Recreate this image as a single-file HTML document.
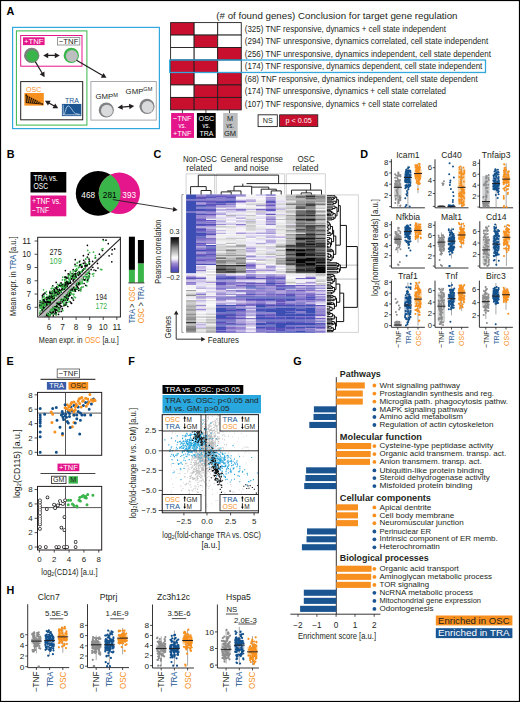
<!DOCTYPE html>
<html><head><meta charset="utf-8"><style>html,body{margin:0;padding:0;background:#fff;}svg{display:block;}text{font-family:"Liberation Sans",sans-serif;}</style></head>
<body><svg width="520" height="702" viewBox="0 0 520 702" font-family="Liberation Sans"><text x="6.40" y="15.00" font-size="10.8" fill="#000" font-weight="bold">A</text>
<text x="6.80" y="158.20" font-size="10.8" fill="#000" font-weight="bold">B</text>
<text x="153.60" y="158.20" font-size="10.8" fill="#000" font-weight="bold">C</text>
<text x="360.20" y="158.00" font-size="10.8" fill="#000" font-weight="bold">D</text>
<text x="6.50" y="365.00" font-size="10.8" fill="#000" font-weight="bold">E</text>
<text x="128.20" y="365.00" font-size="10.8" fill="#000" font-weight="bold">F</text>
<text x="293.30" y="364.60" font-size="10.8" fill="#000" font-weight="bold">G</text>
<text x="6.60" y="593.70" font-size="10.8" fill="#000" font-weight="bold">H</text>
<rect x="12.60" y="27.40" width="146.80" height="101.20" fill="none" stroke="#33a8df" stroke-width="1.2"/>
<rect x="16.40" y="30.90" width="70.50" height="94.20" fill="none" stroke="#39b54a" stroke-width="1.0"/>
<rect x="20.70" y="35.50" width="61.30" height="30.70" fill="none" stroke="#e5168b" stroke-width="1.0"/>
<rect x="23.00" y="37.30" width="21.60" height="7.80" fill="#e5168b"/>
<text x="33.80" y="44.00" font-size="7.4" fill="#fff" text-anchor="middle" textLength="19.5" lengthAdjust="spacingAndGlyphs">+TNF</text>
<rect x="57.40" y="37.60" width="22.40" height="7.40" fill="#fff" stroke="#808285" stroke-width="0.8"/>
<text x="68.60" y="44.00" font-size="7.4" fill="#231f20" text-anchor="middle" textLength="19.5" lengthAdjust="spacingAndGlyphs">−TNF</text>
<circle cx="31.70" cy="55.40" r="7.70" fill="#7f7f7f"/>
<circle cx="32.30" cy="56.10" r="6.00" fill="#39b54a"/>
<circle cx="71.30" cy="55.40" r="7.70" fill="#39b54a"/>
<circle cx="71.90" cy="56.10" r="6.00" fill="#bcbec0"/>
<path d="M43.20,55.40 L48.20,52.65 L48.20,58.15Z" fill="#231f20"/>
<line x1="47.20" y1="55.40" x2="55.80" y2="55.40" stroke="#231f20" stroke-width="1.3"/>
<path d="M59.80,55.40 L54.80,58.15 L54.80,52.65Z" fill="#231f20"/>
<line x1="35.30" y1="61.60" x2="42.55" y2="73.76" stroke="#231f20" stroke-width="1.2"/>
<path d="M44.60,77.20 L39.68,74.31 L44.40,71.50Z" fill="#231f20"/>
<line x1="76.50" y1="60.20" x2="103.05" y2="75.78" stroke="#231f20" stroke-width="1.2"/>
<path d="M106.50,77.80 L100.80,77.64 L103.58,72.90Z" fill="#231f20"/>
<rect x="20.70" y="81.60" width="62.00" height="38.20" fill="none" stroke="#231f20" stroke-width="1.0"/>
<text x="26.00" y="91.70" font-size="7.6" fill="#f7901e" textLength="15.3" lengthAdjust="spacingAndGlyphs">OSC</text>
<rect x="24.40" y="93.00" width="19.40" height="12.60" fill="#f7901e"/>
<line x1="26.20" y1="95.00" x2="26.20" y2="102.80" stroke="#000" stroke-width="0.8"/>
<circle cx="26.20" cy="95.00" r="0.70" fill="#000"/>
<line x1="26.20" y1="102.60" x2="42.00" y2="104.00" stroke="#000" stroke-width="0.8"/>
<circle cx="42.30" cy="104.10" r="0.80" fill="#000"/>
<polyline points="26.6,102.6 27.60,95.80 28.50,102.70 29.60,96.80 30.50,102.82 31.60,97.80 32.50,102.94 33.60,98.80 34.50,103.06 35.60,99.80 36.50,103.18 37.60,100.80 38.50,103.30 39.60,101.80 40.50,103.42" fill="none" stroke="#000" stroke-width="0.6" stroke-linejoin="round"/>
<circle cx="27.80" cy="96.20" r="0.50" fill="#000"/>
<circle cx="29.80" cy="97.20" r="0.50" fill="#000"/>
<circle cx="31.80" cy="98.20" r="0.50" fill="#000"/>
<circle cx="33.80" cy="99.20" r="0.50" fill="#000"/>
<circle cx="35.80" cy="100.20" r="0.50" fill="#000"/>
<text x="65.00" y="102.60" font-size="7.6" fill="#1b5693" textLength="13.8" lengthAdjust="spacingAndGlyphs">TRA</text>
<rect x="61.90" y="103.90" width="19.40" height="12.20" fill="#1b5693"/>
<line x1="63.20" y1="104.70" x2="63.20" y2="115.00" stroke="#fff" stroke-width="0.6"/>
<line x1="63.20" y1="114.80" x2="80.60" y2="114.80" stroke="#fff" stroke-width="0.6"/>
<path d="M63.8,114.6 C65.5,113 66,106 68.2,105.9 C70.5,105.8 72.5,112 75.5,113.6 L79.5,114.3" fill="none" stroke="#fff" stroke-width="0.6"/>
<path d="M45.00,100.70 L50.71,100.81 L47.96,105.58Z" fill="#231f20"/>
<line x1="48.47" y1="102.70" x2="54.73" y2="106.30" stroke="#231f20" stroke-width="1.3"/>
<path d="M58.20,108.30 L52.49,108.19 L55.24,103.42Z" fill="#231f20"/>
<rect x="90.90" y="81.50" width="65.40" height="38.60" fill="none" stroke="#a7a9ac" stroke-width="1.0"/>
<text x="95.5" y="99.4" font-size="7.8" fill="#231f20">GMP<tspan font-size="5.6" dy="-2.6">M</tspan></text>
<text x="125.6" y="93.7" font-size="7.8" fill="#231f20">GMP<tspan font-size="5.6" dy="-2.6">GM</tspan></text>
<circle cx="106.30" cy="110.00" r="7.60" fill="#808285"/>
<circle cx="106.90" cy="110.70" r="5.90" fill="#d9dadb"/>
<circle cx="147.00" cy="106.30" r="7.60" fill="#808285"/>
<circle cx="147.60" cy="107.00" r="5.90" fill="#d9dadb"/>
<path d="M117.60,107.60 L122.31,104.38 L122.84,109.86Z" fill="#231f20"/>
<line x1="121.58" y1="107.22" x2="130.22" y2="106.38" stroke="#231f20" stroke-width="1.3"/>
<path d="M134.20,106.00 L129.49,109.22 L128.96,103.74Z" fill="#231f20"/>
<rect x="170.60" y="22.60" width="23.55" height="12.47" fill="#c8102e" stroke="#231f20" stroke-width="0.9"/>
<rect x="194.15" y="22.60" width="23.55" height="12.47" fill="#fff" stroke="#231f20" stroke-width="0.9"/>
<rect x="217.70" y="22.60" width="23.55" height="12.47" fill="#fff" stroke="#231f20" stroke-width="0.9"/>
<rect x="170.60" y="35.07" width="23.55" height="12.47" fill="#fff" stroke="#231f20" stroke-width="0.9"/>
<rect x="194.15" y="35.07" width="23.55" height="12.47" fill="#c8102e" stroke="#231f20" stroke-width="0.9"/>
<rect x="217.70" y="35.07" width="23.55" height="12.47" fill="#fff" stroke="#231f20" stroke-width="0.9"/>
<rect x="170.60" y="47.54" width="23.55" height="12.47" fill="#fff" stroke="#231f20" stroke-width="0.9"/>
<rect x="194.15" y="47.54" width="23.55" height="12.47" fill="#fff" stroke="#231f20" stroke-width="0.9"/>
<rect x="217.70" y="47.54" width="23.55" height="12.47" fill="#c8102e" stroke="#231f20" stroke-width="0.9"/>
<rect x="170.60" y="60.01" width="23.55" height="12.47" fill="#c8102e" stroke="#231f20" stroke-width="0.9"/>
<rect x="194.15" y="60.01" width="23.55" height="12.47" fill="#c8102e" stroke="#231f20" stroke-width="0.9"/>
<rect x="217.70" y="60.01" width="23.55" height="12.47" fill="#fff" stroke="#231f20" stroke-width="0.9"/>
<rect x="170.60" y="72.48" width="23.55" height="12.47" fill="#c8102e" stroke="#231f20" stroke-width="0.9"/>
<rect x="194.15" y="72.48" width="23.55" height="12.47" fill="#fff" stroke="#231f20" stroke-width="0.9"/>
<rect x="217.70" y="72.48" width="23.55" height="12.47" fill="#c8102e" stroke="#231f20" stroke-width="0.9"/>
<rect x="170.60" y="84.95" width="23.55" height="12.47" fill="#fff" stroke="#231f20" stroke-width="0.9"/>
<rect x="194.15" y="84.95" width="23.55" height="12.47" fill="#c8102e" stroke="#231f20" stroke-width="0.9"/>
<rect x="217.70" y="84.95" width="23.55" height="12.47" fill="#c8102e" stroke="#231f20" stroke-width="0.9"/>
<rect x="170.60" y="97.42" width="23.55" height="12.47" fill="#c8102e" stroke="#231f20" stroke-width="0.9"/>
<rect x="194.15" y="97.42" width="23.55" height="12.47" fill="#c8102e" stroke="#231f20" stroke-width="0.9"/>
<rect x="217.70" y="97.42" width="23.55" height="12.47" fill="#c8102e" stroke="#231f20" stroke-width="0.9"/>
<rect x="169.70" y="60.01" width="315.80" height="12.47" fill="none" stroke="#33a8df" stroke-width="1.3"/>
<text x="216.30" y="19.00" font-size="9.0" fill="#231f20" textLength="241.2" lengthAdjust="spacingAndGlyphs">(# of found genes) Conclusion for target gene regulation</text>
<text x="244.80" y="31.73" font-size="8.2" fill="#231f20" textLength="201.2" lengthAdjust="spacingAndGlyphs">(325) TNF responsive, dynamics + cell state independent</text>
<text x="244.80" y="44.20" font-size="8.2" fill="#231f20" textLength="243.4" lengthAdjust="spacingAndGlyphs">(294) TNF unresponsive, dynamics correlated, cell state independent</text>
<text x="244.80" y="56.68" font-size="8.2" fill="#231f20" textLength="246.1" lengthAdjust="spacingAndGlyphs">(256) TNF unresponsive, dynamics independent, cell state dependent</text>
<text x="244.80" y="69.15" font-size="8.2" fill="#231f20" textLength="237.5" lengthAdjust="spacingAndGlyphs">(174) TNF responsive, dynamics dependent, cell state independent</text>
<text x="244.80" y="81.62" font-size="8.2" fill="#231f20" textLength="232.9" lengthAdjust="spacingAndGlyphs">(68) TNF responsive, dynamics independent, cell state dependent</text>
<text x="244.80" y="94.09" font-size="8.2" fill="#231f20" textLength="201.2" lengthAdjust="spacingAndGlyphs">(174) TNF unresponsive, dynamics + cell state correlated</text>
<text x="244.80" y="106.56" font-size="8.2" fill="#231f20" textLength="192.3" lengthAdjust="spacingAndGlyphs">(107) TNF responsive, dynamics + cell state correlated</text>
<line x1="182.38" y1="109.89" x2="182.38" y2="113.00" stroke="#231f20" stroke-width="0.8"/>
<line x1="205.93" y1="109.89" x2="205.93" y2="113.00" stroke="#231f20" stroke-width="0.8"/>
<line x1="229.47" y1="109.89" x2="229.47" y2="113.00" stroke="#231f20" stroke-width="0.8"/>
<rect x="171.10" y="113.00" width="22.90" height="24.90" fill="#e5168b"/>
<rect x="196.90" y="113.00" width="18.80" height="24.90" fill="#000"/>
<rect x="223.20" y="113.00" width="14.50" height="24.90" fill="#bcbec0"/>
<text x="182.30" y="120.80" font-size="8.0" fill="#fff" text-anchor="middle" textLength="18.5" lengthAdjust="spacingAndGlyphs">−TNF</text>
<text x="182.30" y="127.80" font-size="7.6" fill="#fff" text-anchor="middle" textLength="7.6" lengthAdjust="spacingAndGlyphs">vs.</text>
<text x="182.30" y="135.70" font-size="8.0" fill="#fff" text-anchor="middle" textLength="18.5" lengthAdjust="spacingAndGlyphs">+TNF</text>
<text x="206.40" y="120.80" font-size="8.0" fill="#fff" text-anchor="middle" textLength="15.6" lengthAdjust="spacingAndGlyphs">OSC</text>
<text x="206.40" y="127.80" font-size="7.6" fill="#fff" text-anchor="middle" textLength="7.6" lengthAdjust="spacingAndGlyphs">vs.</text>
<text x="206.40" y="135.70" font-size="8.0" fill="#fff" text-anchor="middle" textLength="13.9" lengthAdjust="spacingAndGlyphs">TRA</text>
<text x="230.00" y="120.80" font-size="8.0" fill="#231f20" text-anchor="middle" textLength="6.1" lengthAdjust="spacingAndGlyphs">M</text>
<text x="230.00" y="127.80" font-size="7.6" fill="#231f20" text-anchor="middle" textLength="7.6" lengthAdjust="spacingAndGlyphs">vs.</text>
<text x="230.00" y="135.70" font-size="8.0" fill="#231f20" text-anchor="middle" textLength="12.1" lengthAdjust="spacingAndGlyphs">GM</text>
<rect x="258.10" y="114.80" width="19.20" height="11.80" fill="#fff" stroke="#231f20" stroke-width="0.9"/>
<text x="267.70" y="123.30" font-size="7.2" fill="#231f20" text-anchor="middle">NS</text>
<rect x="279.60" y="114.80" width="38.20" height="11.80" fill="#c8102e" stroke="#231f20" stroke-width="0.8"/>
<text x="298.70" y="123.30" font-size="7.2" fill="#fff" text-anchor="middle">p &lt; 0.05</text>
<rect x="30.50" y="172.00" width="35.80" height="20.50" fill="#000"/>
<text x="33.50" y="180.50" font-size="8.3" fill="#fff" textLength="24.3" lengthAdjust="spacingAndGlyphs">TRA vs.</text>
<text x="33.50" y="189.30" font-size="8.3" fill="#fff" textLength="14.7" lengthAdjust="spacingAndGlyphs">OSC</text>
<rect x="30.50" y="195.50" width="35.80" height="20.80" fill="#e5168b"/>
<text x="32.00" y="204.30" font-size="8.3" fill="#fff" textLength="29.0" lengthAdjust="spacingAndGlyphs">+TNF vs.</text>
<text x="32.00" y="212.80" font-size="8.3" fill="#fff" textLength="17.1" lengthAdjust="spacingAndGlyphs">−TNF</text>
<defs><clipPath id="vb"><circle cx="98.2" cy="193.4" r="22.4"/></clipPath></defs>
<circle cx="98.20" cy="193.40" r="22.40" fill="#000"/>
<circle cx="119.30" cy="193.30" r="20.70" fill="#e5168b"/>
<circle cx="119.3" cy="193.3" r="20.7" fill="#39b54a" clip-path="url(#vb)"/>
<text x="88.20" y="198.00" font-size="8.2" fill="#fff" text-anchor="middle">468</text>
<text x="109.70" y="198.00" font-size="8.2" fill="#000" text-anchor="middle">281</text>
<text x="129.20" y="198.00" font-size="8.2" fill="#fff" text-anchor="middle">393</text>
<line x1="112.80" y1="199.60" x2="173.97" y2="209.32" stroke="#231f20" stroke-width="0.9"/>
<path d="M177.60,209.90 L172.66,211.68 L173.45,206.68Z" fill="#231f20"/>
<path d="M75.8 273.3h0M74 287.1h0M42.5 301h0M42.9 304.1h0M72.6 298.5h0M48.7 316h0M95.8 270.6h0M77.5 286.8h0M95.5 257.8h0M79 283.7h0M45.7 313.3h0M86.2 274.4h0M68.4 285h0M44.3 307.8h0M50.1 310h0M66.5 283.7h0M62 299.4h0M47.4 300.6h0M59.2 301.1h0M54.3 289.4h0M51.2 299.8h0M45 315.5h0M49.3 297.8h0M67.8 283.8h0M49 316h0M56.9 292.5h0M61.6 299.6h0M50.1 309.4h0M91.1 269.6h0M68.2 273.9h0M58.3 303h0M44.1 308.1h0M45.8 302h0M77.4 282.6h0M41.6 310.5h0M71.7 297.7h0M64.4 304.6h0M65 285.5h0M50.6 314.6h0M59.6 309.3h0M54.8 307.5h0M86.9 276.9h0M59.4 293.1h0M88.9 273.3h0M81.7 287.3h0M64.7 277.2h0M53.6 312.2h0M63.2 285.1h0M54.6 296.5h0M73.9 276.6h0M55.4 304h0M57.8 293.8h0M57.9 292.2h0M57.8 292.2h0M65.2 305.2h0M62.9 284.8h0M41.8 310.4h0M46.6 313h0M85 265.9h0M66.9 295.6h0M87.4 245.3h0M54.5 308.1h0M42.2 311.1h0M55.9 291.8h0M78.3 288.1h0M88.9 272h0M51.9 313.2h0M46.5 305.5h0M57.5 295h0M55.1 306.8h0M60 307.6h0M54.3 305.2h0M67.7 299.5h0M68 277.9h0M41.7 303h0" stroke="#000" stroke-width="1.70" stroke-linecap="round" fill="none"/>
<path d="M66.8 297h0M67.6 302.3h0M51.3 300.3h0M73.6 278.5h0M61 298.4h0M68.9 296h0M50.6 300.1h0M69.9 294.9h0M48.9 311.3h0M55 305.8h0M50.8 310.9h0M56.1 315.1h0M50.7 298.2h0M53.7 299.9h0M47 304.3h0M83.7 276.7h0M101.8 269.7h0M47 313h0M49.2 300.8h0M88.7 278.4h0M48.8 315.3h0M73.3 276.2h0M79.9 288.8h0M57.8 294.1h0M62.3 302.6h0M41.6 301.5h0M89.3 270.6h0M83.2 270.3h0M75.2 270.7h0M75.5 297.6h0M85.1 276h0M45 293.2h0M44.5 315.7h0M83.7 269h0M66.1 300.9h0M56.5 303.3h0M46.7 315h0M48.7 303.6h0M47.3 298.4h0M58.8 285.9h0M57.4 306.4h0M53.6 314.1h0M47.7 315.5h0M79.7 265.8h0M52.8 299.9h0M68.3 276.6h0M55.3 292.1h0M79.9 260.8h0M95.4 255.7h0M60.9 299.2h0M76 277.1h0M49.7 295.7h0M57.9 294.4h0M62.8 288.7h0M81.3 271.8h0M72.1 290.9h0M78.3 282.1h0M62.4 279.9h0M72.5 288h0M42.5 309.4h0M55.5 295.2h0M76.1 289.2h0M89.1 273.1h0M82.2 278.8h0M76.5 277.1h0M56.3 312.4h0M61.9 287.1h0M50 291.1h0M55.9 304.5h0M55.3 307.3h0M52.6 290.8h0M87.2 274.3h0M64.6 287.9h0M59.1 301.6h0M78.2 275.3h0M59.1 293.4h0M44.4 305.4h0M75 290.2h0M80.2 265h0M48.5 303.5h0M55.9 290.4h0M53.9 298.9h0M84.3 280.2h0M54.8 292.6h0M66.6 287.3h0M56 295.2h0M51.6 311h0" stroke="#3ab54a" stroke-width="1.70" stroke-linecap="round" fill="none"/>
<path d="M83.1 278.2h0M57 302.8h0M40.2 300.9h0M70.4 282.4h0M52.8 285.8h0M75.7 274h0M57.1 310.2h0M69.6 293.2h0M56.2 282.4h0M53.5 306.3h0M86.7 264.8h0M58 301.7h0M89.3 261h0M70 301.5h0M52.2 291.3h0M47.2 312.5h0M111.9 254h0M43.6 306.2h0M62.5 286h0M77.7 272.9h0M65.3 288.4h0M64.4 286.9h0M52.2 295.9h0M62.2 301.6h0M84.9 262h0M41 311.6h0M75.2 276.1h0M66.5 283.7h0M52.6 312.2h0M65.5 284.2h0M50.4 312.4h0M59.6 301.7h0M98 268h0M59.4 290.3h0M42.3 309.6h0M54.3 297.4h0M59 311.7h0M51.1 308.7h0M74.5 278.9h0M76.7 285.5h0M66.3 277.6h0M80.7 289.8h0M76.6 283.7h0M73.5 288.3h0M62.6 288.7h0M71 302.8h0M88.1 279.1h0M48.1 313.7h0M49 298.3h0M67.8 282.2h0M41.6 305.8h0M63.9 305.7h0M67.8 306.5h0M59.9 292.9h0M57.9 290.2h0M55 313.8h0M40.8 305.8h0M83.4 255.7h0M71.2 278.9h0M67 285.2h0M54.3 296.8h0M65.4 270.6h0M52 295.3h0M55.8 293.6h0M54.9 308.1h0M54.2 309.6h0M75.8 271.2h0M82.2 271.6h0M48 314.1h0M60.3 300.7h0M44.4 300.1h0M49.1 310.8h0M42.3 303h0M55.3 304.1h0M73.2 269.7h0M77.9 282.4h0M51.7 296.1h0M76.2 270.2h0M76.6 287.1h0M72.1 273.5h0M92.8 267.3h0M61.7 306.4h0" stroke="#000" stroke-width="1.70" stroke-linecap="round" fill="none"/>
<path d="M63.8 286h0M58.2 302.8h0M93.5 276h0M63.7 304.7h0M69.5 279.4h0M47.7 315.1h0M86.7 266.5h0M43.6 300.9h0M74.1 296.8h0M58 311.5h0M87.1 282h0M42.7 304.2h0M64.3 287.2h0M48.3 298.1h0M51.2 288.6h0M58.9 307.4h0M88 257.8h0M63.5 288.8h0M47.1 305.4h0M57.1 303.3h0M77.1 263.1h0M40.4 312.6h0M64.7 300h0M50.3 309.2h0M65.7 299.7h0M85.6 279h0M62.7 277.1h0M82.7 277.4h0M48.9 314h0M76.2 287.1h0M49.8 302h0M42.7 302h0M65.6 298.2h0M63.9 303.9h0M72.7 290.7h0M57.6 284.4h0M48.8 302.1h0M74.9 291.4h0M50.6 314.1h0M75.8 285h0M82.1 266.1h0M72.6 275.1h0M60.9 284.8h0M88.1 278.9h0M51.8 288.6h0M43.1 299.6h0M40.9 306.4h0M80.1 284.2h0M55.3 307.5h0M69.3 301.6h0M71.4 288.1h0M45.5 313.9h0M65.1 288.6h0M80.5 265.1h0M72.2 276h0M53.1 296.8h0M61.5 283.9h0M69.9 275.3h0M80.2 290.1h0M86.8 285.9h0M65 282.2h0M54.7 308.1h0M78.5 267.7h0M58.1 287.3h0M50.1 297.4h0M52.5 309h0M52.1 307.8h0M55.6 306.5h0M48.5 304.3h0M66.7 280.8h0M61.9 284.3h0M79.3 281.5h0M88.1 281.1h0M51.4 296.3h0M41.7 311.2h0M40.1 305.4h0M63.3 296h0" stroke="#3ab54a" stroke-width="1.70" stroke-linecap="round" fill="none"/>
<path d="M70 292.9h0M54.4 305.5h0M49.7 298.6h0M89.5 261.6h0M68 291.6h0M46.7 303.3h0M49.3 301.8h0M76.5 283.3h0M67.5 296.8h0M42.3 309.5h0M58.4 311.1h0M49.7 303.4h0M57.5 307h0M79.1 271.5h0M81.9 267.1h0M66.2 282.4h0M66.9 282.3h0M81.7 266.4h0M43.8 294.3h0M66.9 278.1h0M56 295.2h0M62.8 289.5h0M74.8 288.7h0M72.7 289.3h0M69.3 283.2h0M49.2 299.9h0M89.7 273.8h0M68.4 285.2h0M44.4 314.9h0M43.3 303.2h0M89.1 259.2h0M59.6 300.5h0M79.1 284.3h0M66.3 304.3h0M42.5 296.9h0M44 307.8h0M87.3 265h0M109.1 255.8h0M94 270h0M62.3 284.7h0M75.3 259.7h0M59.2 292.4h0M71.8 278.9h0M75.5 291.1h0M73 277.8h0M70.5 283.2h0M82.5 277.8h0M68.5 296.2h0M43.4 294.2h0M54.2 289.9h0M45 298.6h0M56 310.1h0M39.8 304.6h0M88.3 254.4h0M70.1 294.8h0M53.9 296.1h0M56.2 313.4h0M65.9 295.4h0M59.1 304h0M67.4 292.6h0M40.2 313.2h0M60.2 286.1h0M77.8 273.8h0M78.3 275.3h0M49.8 292.8h0M57 287.9h0M49.3 304h0M71.8 278.5h0M83.3 278.9h0M44 300.7h0M73.4 287.6h0M49.9 302.6h0M61.3 292.1h0M55.2 308.9h0M97.5 263.4h0M63.1 285.7h0M83.7 260.3h0" stroke="#000" stroke-width="1.70" stroke-linecap="round" fill="none"/>
<path d="M50.2 315.9h0M79.3 282.6h0M70.4 271.7h0M61.3 300.2h0M48.3 300.5h0M52.8 308.2h0M44.4 308.8h0M42 309.8h0M42 305h0M55.5 293.6h0M59 294.3h0M79.4 274.6h0M48.1 305.1h0M79.4 272.2h0M71.5 276.1h0M46.2 299.8h0M77.2 269.9h0M46 315.5h0M43.8 304h0M53.9 298h0M87.8 272.3h0M89.3 264.2h0M89.5 276.8h0M44.8 303.1h0M48.8 296.5h0M44.5 304.6h0M54.9 287.9h0M60.3 299.6h0M43.5 289.8h0M62.2 300h0M44.3 314.9h0M80.1 280.2h0M62.5 309.5h0M48.6 303.7h0M81.5 265.3h0M50.1 303.3h0M42.3 299h0M54.5 306.4h0M68 295.3h0M88.9 262.9h0M70.2 290.1h0M54.2 305.9h0M55.6 295.1h0M82.2 270.4h0M39.7 313.5h0M77.6 284.2h0M65.3 279.2h0M53.6 291.2h0M89.4 263.2h0M81 287.9h0M46.8 305.9h0M74.1 288.6h0M48.9 300.8h0M60.8 285.7h0M44.1 296h0M60.7 292.1h0M68.9 279.2h0M53 295.8h0M76.8 275.3h0M79.3 274.8h0M70.7 289.8h0M81.4 264.4h0M88.9 276h0M65.5 295h0M43.4 309.4h0M67.2 283.5h0M101.6 249.3h0M85.7 278.4h0M52.5 296.8h0M60.2 283.3h0M95.2 258.2h0M66.4 282.3h0M41.5 307.4h0M79.3 280.5h0M59.9 286h0" stroke="#3ab54a" stroke-width="1.70" stroke-linecap="round" fill="none"/>
<path d="M87.5 280.1h0M67.7 292.4h0M58.7 308h0M44.9 293h0M54 296h0M111.8 261.8h0M78.8 290.4h0M55.1 295h0M75 264.3h0M49.8 292.2h0M70.5 282.6h0M66 303h0M71.4 289.1h0M103.2 239.5h0M42.5 309.1h0M49.1 310.5h0M83.3 263.3h0M50.4 312.3h0M44.2 301.5h0M92.6 261.4h0M47.7 305.7h0M84.1 283.5h0M45.9 306h0M40.1 302.5h0M65.6 277.4h0M85.6 264.4h0M56.6 305.6h0M49.5 309.7h0M70.2 281.1h0M108.3 243.7h0M55.1 293h0M69.6 283h0M75.4 274.1h0M46.9 299.5h0M59.3 305h0M49.7 309.7h0M73.5 300.1h0M50.6 308.9h0M62.3 290h0M59.3 285.2h0M64.7 285.1h0M46.8 303.2h0M62.6 289.4h0M54.3 294.7h0M79.5 261.8h0M68.1 293.7h0M52.8 306.4h0M66.6 293.3h0M46 307.4h0M69 274.1h0M41.8 304.3h0M53 306.8h0M42.9 310.3h0M67.4 300.2h0M66.8 298.1h0M66.3 302.6h0M85.1 263.6h0M80.2 264.6h0M49.4 315h0M47.6 313.7h0M62.3 308.7h0M40.4 304.5h0" stroke="#000" stroke-width="1.70" stroke-linecap="round" fill="none"/>
<path d="M52.7 297.7h0M86.4 264.1h0M78.9 284.4h0M93.5 252.2h0M61.4 285.7h0M54.5 296.9h0M69.2 281.9h0M71.3 290.1h0M88.8 276.8h0M50 301.8h0M64.9 299.2h0M57.6 308.1h0M70.5 272.9h0M63.9 303.1h0M86.8 277.3h0M50.3 293.6h0M45.3 304.4h0M64.1 286.9h0M68.3 275.4h0M48.9 310.7h0M74 273.8h0M51.8 292.5h0M66.2 285.6h0M40.5 301.1h0M75.2 270.5h0M41.6 304h0M65.2 277h0M67.8 297.1h0M45.4 302.1h0M47.5 312.4h0M58.4 301.8h0M43 304.9h0M64.6 279.6h0M46.6 294.5h0M85.4 276.7h0M62.9 289.9h0M86.2 273.7h0M75.5 278.5h0M84.8 268.8h0M100.6 269.4h0M73.8 294.2h0M77.5 289.3h0M45.6 298.2h0M40.1 304.1h0M65.7 294.9h0M40.2 308.2h0M79 267.2h0M71.6 276.6h0M57.3 296.1h0M58.5 310.7h0M77.6 282.9h0M79.8 284.1h0M57.1 304.9h0M49.7 315.3h0M53 312.1h0M73.1 278.5h0M53.1 314.3h0M63.7 301.6h0M46.3 306.2h0M52.7 291.1h0M50 300.1h0M51.2 293.4h0M89 276.8h0M43.5 308.4h0M47.3 303.3h0M62.4 289.6h0M49.2 302.9h0M74.8 277.8h0M73 298.5h0M42.7 306.1h0M63.2 285.8h0M63.6 296.8h0M69.5 280.2h0M48 298.4h0M64.8 280.3h0M57.9 291.4h0M72.1 294h0M66.2 283.5h0M81.4 271.7h0M61.1 290.5h0M83.3 286.8h0M85.8 259.1h0M73.3 273h0M64 283.8h0M80.4 272.1h0M55.6 308.4h0M82.8 279.6h0M47.1 302.4h0M49.6 311.7h0" stroke="#3ab54a" stroke-width="1.70" stroke-linecap="round" fill="none"/>
<path d="M59.2 294.6h0M47.1 315.9h0M60.7 290.7h0M59.3 289.3h0M56.9 286.7h0M50 311.1h0M74.6 290.5h0M78.9 275.2h0M54.6 308.9h0M42.4 295.4h0M67.1 283.5h0M53.3 315.9h0M58.6 301.5h0M76.5 285h0M59.2 303.8h0M87.3 257h0M70.4 293.7h0M67.3 293h0M44 308.1h0M39.7 306h0M80.2 273.9h0M76.7 289h0M46.9 312.5h0M61.2 311.4h0M55.5 307h0M55.3 295h0M43.6 299.6h0M74.7 274h0M68.7 296h0M69.5 295h0M46.2 313.7h0M50.8 302.8h0M47.9 314.1h0M58.5 314.4h0M58.2 304.4h0M64.2 285.9h0M86.8 265.8h0M79.4 272.8h0M64.3 296.8h0M54.2 308.7h0M60.5 303.6h0M65.5 296.9h0M43.8 304.4h0M99.4 254.2h0M74.8 289.8h0M47.9 302.6h0M45 301.9h0M74.8 288.9h0M106 240.2h0M73.2 280.9h0M65.9 286.9h0M72.1 276.5h0M73.3 275.1h0M67.3 283.5h0M68.2 298.3h0M46.1 315h0M55.3 292.6h0M72 290.1h0M102.5 250.5h0M51.7 309.3h0M57.1 303.2h0M54.4 291.2h0M58.5 293h0M79.6 265.4h0M55.6 312.3h0M61 285.8h0M85.3 268.1h0M61.1 282.8h0M60.5 305.9h0M81.7 267.3h0M40.4 307.4h0M52.2 295h0M63.6 297.5h0M58.6 294.8h0M66.9 281.9h0M75 275.5h0M83.1 269.9h0M52.4 298.6h0M46.1 302.1h0M58.8 304.1h0M64.5 298.8h0M50.4 301.3h0M75.7 288.8h0M68.8 283.2h0M61.1 298.8h0" stroke="#000" stroke-width="1.70" stroke-linecap="round" fill="none"/>
<path d="M76.9 265.8h0M85.7 259.1h0M40.2 306.6h0M54.5 310.7h0M49.5 300.3h0M48.4 310.7h0M50.3 310.8h0M78.8 281h0M65.3 299h0M77.3 284.1h0M89.6 252.5h0M60.7 290.8h0M58.3 301h0M73.1 271h0M56.2 289.2h0M58.7 294.8h0M56.2 314h0M50 310.7h0M71 275h0M87.8 250.4h0M92.5 274.2h0M65.3 285.4h0M43.8 296.5h0M54.3 307.9h0M41.6 307.1h0M63.3 286h0M80.8 282.9h0M59.2 301.8h0M55.1 294.6h0M52.7 295.1h0M52.6 292.5h0M65.6 295.6h0M77.6 262.6h0M69.8 289.7h0M54.1 307.7h0M70.5 291.3h0M64.3 298.9h0M68.6 281.5h0M82.1 281.4h0M80.7 290.9h0M52.4 286.7h0M66.4 293.8h0M62.8 310.7h0M66 285.8h0M46.4 291.7h0M54.3 309.6h0M50.9 309.6h0M66.5 299.8h0M76.7 268.5h0M55.9 294.7h0M70.7 294h0M82.5 283.2h0M49.9 310.8h0M52.8 309.5h0M57.7 286.6h0M58.1 289.9h0M67.8 294h0M76.1 269.4h0M57.6 291.2h0M63.7 301.4h0M74.9 288h0M48 299.1h0M89.1 262.6h0M88.9 271.5h0M85.2 268.6h0M102.9 248.6h0M47.2 296.5h0M79.2 284.1h0" stroke="#3ab54a" stroke-width="1.70" stroke-linecap="round" fill="none"/>
<path d="M44.4 308h0M60.7 303.2h0M65.4 285h0M88.6 276.4h0M84.9 279.9h0M79.1 283.2h0M46.6 305.9h0M76.3 277h0M56.1 305.8h0M48.8 302.3h0M63.5 300.2h0M61.8 289.2h0M52.7 293.2h0M70.3 289.7h0M47.6 313.3h0M49.8 296.2h0M47.1 302h0M85.3 265.8h0M63.5 286h0M54.8 309.4h0M47.6 301.4h0M67.2 286.2h0M49.3 296.1h0M73.5 279.9h0M72.9 276.2h0M78.7 284.6h0M85.7 285.3h0M67.3 292.8h0M49.8 302.6h0M51 293.6h0M50.2 293.1h0M47.3 306.2h0M81.3 267h0M53.1 312.5h0M57.5 289.8h0M52.2 296.9h0M46.8 297.7h0M64.6 289.3h0M65.5 282.9h0M43.1 307.3h0M41.7 307.3h0M63.1 299.5h0M114.6 248.9h0M48.7 302.1h0M57.9 294.2h0M54 306.1h0M83.7 269h0M45.5 303.1h0M66.9 294.8h0M70.7 292.7h0M46.9 304.7h0M55.3 311.1h0M46.4 304.7h0M55.9 287.9h0M84.3 279.8h0M65.1 300.2h0M55.9 309.7h0M45 315.7h0M56.4 288.5h0M58.2 291.7h0M48.8 310.7h0M65.8 277.1h0M54.3 298h0M53.6 298.2h0M53.1 311.4h0M60.1 290.3h0M112.2 249.8h0M56.5 306.9h0M89.4 264h0M47.3 299.5h0M71.6 303.3h0M51.2 297.3h0M48.4 297.9h0" stroke="#000" stroke-width="1.70" stroke-linecap="round" fill="none"/>
<path d="M52.5 310.6h0M43.7 304.8h0M44.8 308.6h0M60.4 292.4h0M70.6 276.8h0M69.2 290.3h0M82 283.6h0M45.4 305.1h0M73.9 277.4h0M63.7 287.7h0M42.2 308.4h0M51.2 300.6h0M53.2 292.8h0M70.2 278.4h0M47.1 313.2h0M49.1 314.6h0M61.4 287.1h0M63.9 297.8h0M84 269.2h0M48 300.1h0M75.3 265.9h0M74.3 270.9h0M58.9 310.9h0M51.3 309.1h0M59 309.2h0M77.1 282.8h0M40.8 307h0M42.5 306.4h0M68.5 292.8h0M56.9 291h0M45.1 315.1h0M40.6 307.7h0M66.4 305h0M103.5 240.5h0M70.5 277.3h0M55.8 307.9h0M70.8 293.4h0M65.9 279.6h0M86 280.5h0M68 297.3h0M55.1 305h0M53.2 288.5h0M58.2 301.2h0M53.1 300.5h0M58.6 301.9h0M81.9 279.8h0M53.2 309.6h0M56.9 296.5h0M81.4 287.7h0M62.7 298.9h0M93.8 273.6h0M85.9 264.2h0M66.3 287h0M40.3 312.8h0M61.6 298.2h0M63.4 285.9h0M47.6 314.1h0M80.1 281.7h0M53.4 297.5h0M58.2 292.8h0M69.4 291.4h0M44.7 298.4h0M77.9 273.2h0M73.4 294.8h0M55.1 294.8h0M41.4 307h0M64.9 299.8h0M40.1 311h0M49.8 295.1h0M76.2 288.6h0M73.8 291.1h0M43.2 297.1h0M45.3 303.8h0M74.4 275.3h0M48.6 304.3h0M89.3 275.3h0M88.1 276.2h0M87.3 274.1h0M52.9 294.7h0" stroke="#3ab54a" stroke-width="1.70" stroke-linecap="round" fill="none"/>
<path d="M57.5 301.4h0M52.5 303.1h0M60.7 294.1h0M42 314.6h0M58.3 298.1h0M43.2 313.4h0M74.6 284.3h0M52.8 301.4h0M71.8 286h0M43.5 312.8h0M43.7 310.3h0M48.2 310.6h0M59 297.7h0M49.1 307.6h0M49 309h0M68.2 288.5h0M47.4 310.4h0M57.3 300.3h0M60.9 297.4h0M45.1 314.6h0M43.5 311.2h0M56.3 299.9h0M75.5 282.3h0M63.3 294.7h0M53.1 305.2h0M53.2 303h0M82.2 277.5h0M43.2 313.3h0M53.3 304h0M73.9 284.6h0M49.3 307.8h0M74.8 281.3h0M49.6 307.1h0M51.7 306.1h0M41.5 314.7h0M47.5 306.3h0M74.5 283.5h0M42.6 315.2h0M59.1 299.1h0M63.3 294.6h0M52.4 302.7h0M62.6 297.8h0M48 311.3h0M63.6 292.7h0M100.5 255.7h0M45.2 310.9h0M43.2 314.9h0M86.8 269.4h0M52.3 302.6h0M48.8 310.6h0M50.7 306.6h0M50.5 306.9h0M45.1 314.6h0M66.9 291h0M52 306.1h0M45.3 313.7h0M57.6 299.1h0M58.8 298.5h0M49.1 310.2h0M84.2 273.3h0M54 303h0M62.4 295h0M44.2 314h0M75.6 281.1h0M77.9 279.3h0M96.4 260.4h0M61.8 296.1h0M88.7 268.8h0M41 315.6h0M55.7 301.6h0M97.3 259.4h0M41.1 314.4h0M49.2 307.6h0M56.2 300.7h0M45.2 312.3h0M46.3 309.4h0M58.6 299.3h0M60 298.7h0M66.6 293.2h0M80.8 280.3h0M45.8 310.3h0M59.6 296.4h0M46 310.6h0M57.1 301.5h0M42.9 314.4h0M50.8 306.6h0M46.5 309.1h0M48.9 309h0M66.7 291.2h0M75.5 282.4h0M49.1 306.5h0M46.1 310.9h0M72.5 284.4h0M60.7 297.6h0M59.3 298.4h0M66.6 290.9h0M73.4 283.8h0M70.7 286.2h0M73.9 284.6h0M44.1 312.9h0M54.8 302.5h0M59.9 296.3h0M42.5 315.6h0M41.3 311.8h0M57.9 300.2h0M53.6 302.2h0M48.9 309.7h0M44 311.6h0M68.4 288.9h0M47.5 308.7h0M80 275.7h0M70 287.2h0M75.9 281.7h0M47.8 311.2h0M49 307.5h0M77.7 278.6h0M59.2 296h0M43.8 313.5h0M50 305.5h0M59.5 297.4h0M75.6 282h0M76.5 282h0M43.4 312.7h0M48.2 311.1h0M55.1 304.4h0M45.7 310.9h0M58.4 298.7h0M46.7 311h0M63 295h0M51.8 305.4h0M91.6 265.4h0M50.1 306.2h0M49.5 308.3h0M91.1 266.9h0M60.2 295.5h0M53.2 303.9h0M84.2 272.9h0M42.1 313.6h0M67.5 290.1h0M94.9 262.2h0M57.9 300.7h0M74.8 282h0M88.9 270.1h0M44.4 312h0M65.4 291.2h0M66.6 289.7h0M53.3 303.4h0M51.9 304.9h0M69.9 288.6h0M59.5 300.5h0M52.7 304.5h0M43.9 315h0M41.2 312.7h0M81.2 275.9h0M60 298.2h0M58.3 299.7h0M72.5 286.6h0M76 280.4h0M70.5 288.6h0M66.5 291.4h0M73.6 284.5h0M70.2 287.7h0M55.4 304.5h0M65.5 294h0M85.3 271.5h0M71.3 286.7h0M51.4 305.1h0M46.7 312.2h0M91.3 268.1h0M57.8 300.3h0M65.2 293.5h0M48.5 306.2h0M43.7 312.5h0M58.4 299.6h0M60.4 296.4h0M67.6 289.5h0M53.4 305.3h0M43.3 313.9h0M50.5 307.3h0M52.5 303.6h0M78 279.6h0M66 290.7h0M71.7 287.2h0M41.3 315.3h0M49.5 308.7h0M43.9 311.3h0M52.1 303.6h0M103.6 254.9h0M57.7 297.7h0M50.7 307.5h0M71.4 285.2h0M65.1 291.1h0M55.9 301h0M59.2 297.7h0M65.4 291.9h0M40.9 314.6h0M84.2 272.6h0M70.8 288.1h0M85.4 272.7h0M82 275.8h0M63 294h0M45.5 313.5h0M44.4 310.9h0M55.3 305h0M78.8 279.1h0M79 279.6h0M44 313.5h0M44.1 312.4h0M59.7 295.2h0M44 312.2h0M46.9 307.1h0M81 274.9h0M54.5 305.1h0M86.3 272.4h0M75.2 283.8h0M71 286.2h0M45.5 312.8h0M50.5 308h0M88.9 267.9h0M82 276.4h0M58.2 298.9h0M84.7 273.3h0M63.5 291.9h0M76.6 281.4h0M71.3 285h0M63 292.6h0M63 292.7h0M63.8 292.4h0M78.3 278.1h0M59.2 297.8h0M98.7 258.3h0M65.8 289.8h0M46.5 312.4h0M70.6 287.9h0M46.2 310.5h0M49.3 309h0M64.9 292.9h0M47.3 309.9h0M82 276h0M72.2 284.2h0M47.5 308.5h0M56.1 300.8h0M43.6 312.5h0M67.9 288.9h0M61.2 296h0M88.3 268.2h0M53.8 303.6h0M63.5 292.6h0M78.6 281.1h0M64.6 293h0M42.9 314.9h0M84.5 272.3h0M44.3 313.4h0M46.1 310.7h0M68.7 289.2h0M51.5 303.9h0M46.7 310.2h0M89.3 267.8h0M59.2 296.9h0M70.7 285.8h0M65.3 293.7h0M48.1 310.4h0M53.7 301.3h0M63 296.9h0M58.6 297.3h0M60 296.4h0M45 315.9h0M58.4 300.1h0M76.8 280.7h0M49 306.9h0M53.9 305.3h0M50 307.1h0M64.6 291.6h0M65.1 292.9h0M62.5 295.5h0M78.9 278.9h0M51.6 307.6h0M57.1 301.5h0M57.1 299.9h0M51 304.8h0M61.9 294.8h0M43.9 314.7h0M50.4 306.1h0M48.8 307.8h0M49.1 306h0M45.8 312h0M66.5 292.3h0M73.3 284.5h0M59.5 295.4h0M49.8 306.9h0M52.9 303.8h0M55 304.2h0M54.2 302.1h0M47.4 309.9h0M55.5 303h0M79.8 276h0M46.9 311.1h0M45.8 311.3h0M50.5 305.7h0M82.7 278.3h0M68.3 288.1h0M61.7 296.9h0M101.1 257h0M58.1 298.4h0M55.4 302.4h0M71.1 286.2h0M44.4 312.9h0M46 310.7h0M46.1 312.4h0M49 309.6h0M54.8 301h0M84.1 275h0M63.7 293.5h0M49.5 307.8h0M44.2 311.2h0M46.5 312.2h0M57.7 296.1h0M72.4 283.6h0M68.5 289.4h0M88.4 270.6h0M97.7 260.8h0M46.4 310.4h0M49.7 308.8h0M41.9 313.6h0M56 301h0M59.9 297.1h0M45.9 308.1h0M50 308.5h0M41.1 315.3h0M50.8 307.4h0M56.5 298.4h0M42.5 314.9h0M49.9 306.9h0M53.3 305.9h0M68.6 285.6h0M81.7 274.4h0M78.3 278h0M53.9 302.4h0M80.9 278.5h0M54.9 300.7h0M55.6 300.2h0M42.4 314.9h0M55.2 303.1h0M67.6 288h0M81 278.2h0M49.1 309.2h0M56.7 300.6h0M57 300.2h0M99.4 258.9h0M67.6 291.7h0M53.5 304.8h0M55.8 300h0M69.9 288.4h0M57.9 299h0M59.5 296.6h0M73.3 284.3h0M46.3 307.3h0M65.5 290.2h0M49 305.9h0M62.8 295.9h0M60.3 295.8h0M73.2 284.7h0M64.3 293.9h0M55.6 300.2h0M49 308.4h0M47.7 310.3h0M44.9 310.9h0M53.3 305.5h0M45.2 311.7h0M53.2 303.1h0M48.1 307.5h0" stroke="#b8b8b8" stroke-width="1.70" stroke-linecap="round" fill="none"/>
<line x1="39.20" y1="315.60" x2="120.40" y2="238.60" stroke="#231f20" stroke-width="1.1"/>
<rect x="37.70" y="237.30" width="82.70" height="79.70" fill="none" stroke="#231f20" stroke-width="1.0"/>
<line x1="34.60" y1="307.30" x2="37.70" y2="307.30" stroke="#231f20" stroke-width="0.8"/>
<text x="31.00" y="310.10" font-size="8.2" fill="#231f20" text-anchor="end" textLength="4.6" lengthAdjust="spacingAndGlyphs">6</text>
<line x1="49.00" y1="317.00" x2="49.00" y2="320.00" stroke="#231f20" stroke-width="0.8"/>
<text x="49.00" y="330.40" font-size="8.2" fill="#231f20" text-anchor="middle" textLength="4.6" lengthAdjust="spacingAndGlyphs">6</text>
<line x1="34.60" y1="294.04" x2="37.70" y2="294.04" stroke="#231f20" stroke-width="0.8"/>
<text x="31.00" y="296.84" font-size="8.2" fill="#231f20" text-anchor="end" textLength="4.6" lengthAdjust="spacingAndGlyphs">7</text>
<line x1="62.56" y1="317.00" x2="62.56" y2="320.00" stroke="#231f20" stroke-width="0.8"/>
<text x="62.56" y="330.40" font-size="8.2" fill="#231f20" text-anchor="middle" textLength="4.6" lengthAdjust="spacingAndGlyphs">7</text>
<line x1="34.60" y1="280.78" x2="37.70" y2="280.78" stroke="#231f20" stroke-width="0.8"/>
<text x="31.00" y="283.58" font-size="8.2" fill="#231f20" text-anchor="end" textLength="4.6" lengthAdjust="spacingAndGlyphs">8</text>
<line x1="76.12" y1="317.00" x2="76.12" y2="320.00" stroke="#231f20" stroke-width="0.8"/>
<text x="76.12" y="330.40" font-size="8.2" fill="#231f20" text-anchor="middle" textLength="4.6" lengthAdjust="spacingAndGlyphs">8</text>
<line x1="34.60" y1="267.52" x2="37.70" y2="267.52" stroke="#231f20" stroke-width="0.8"/>
<text x="31.00" y="270.32" font-size="8.2" fill="#231f20" text-anchor="end" textLength="4.6" lengthAdjust="spacingAndGlyphs">9</text>
<line x1="89.68" y1="317.00" x2="89.68" y2="320.00" stroke="#231f20" stroke-width="0.8"/>
<text x="89.68" y="330.40" font-size="8.2" fill="#231f20" text-anchor="middle" textLength="4.6" lengthAdjust="spacingAndGlyphs">9</text>
<line x1="34.60" y1="254.26" x2="37.70" y2="254.26" stroke="#231f20" stroke-width="0.8"/>
<text x="31.00" y="257.06" font-size="8.2" fill="#231f20" text-anchor="end" textLength="8.8" lengthAdjust="spacingAndGlyphs">10</text>
<line x1="103.24" y1="317.00" x2="103.24" y2="320.00" stroke="#231f20" stroke-width="0.8"/>
<text x="103.24" y="330.40" font-size="8.2" fill="#231f20" text-anchor="middle" textLength="8.8" lengthAdjust="spacingAndGlyphs">10</text>
<line x1="34.60" y1="241.00" x2="37.70" y2="241.00" stroke="#231f20" stroke-width="0.8"/>
<text x="31.00" y="243.80" font-size="8.2" fill="#231f20" text-anchor="end" textLength="8.8" lengthAdjust="spacingAndGlyphs">11</text>
<line x1="116.80" y1="317.00" x2="116.80" y2="320.00" stroke="#231f20" stroke-width="0.8"/>
<text x="116.80" y="330.40" font-size="8.2" fill="#231f20" text-anchor="middle" textLength="8.8" lengthAdjust="spacingAndGlyphs">11</text>
<text x="49.50" y="255.20" font-size="8.2" fill="#231f20" textLength="12.2" lengthAdjust="spacingAndGlyphs">275</text>
<text x="49.50" y="264.00" font-size="8.2" fill="#3ab54a" textLength="12.2" lengthAdjust="spacingAndGlyphs">109</text>
<text x="95.60" y="300.40" font-size="8.2" fill="#231f20" textLength="11.4" lengthAdjust="spacingAndGlyphs">194</text>
<text x="95.60" y="309.30" font-size="8.2" fill="#3ab54a" textLength="11.4" lengthAdjust="spacingAndGlyphs">172</text>
<text x="15.6" y="316.0" font-size="8.6" fill="#231f20" transform="rotate(-90 15.6 316.0)" textLength="79.5" lengthAdjust="spacingAndGlyphs">Mean expr. in <tspan fill="#1b5693">TRA</tspan> [a.u.]</text>
<text x="38.8" y="343.2" font-size="8.6" fill="#231f20" textLength="80" lengthAdjust="spacingAndGlyphs">Mean expr. in <tspan fill="#f7901e">OSC</tspan> [a.u.]</text>
<rect x="128.90" y="236.70" width="6.00" height="33.20" fill="#000"/>
<rect x="128.90" y="269.90" width="6.00" height="12.80" fill="#3ab54a"/>
<rect x="137.90" y="240.00" width="6.00" height="23.60" fill="#000"/>
<rect x="137.90" y="263.60" width="6.00" height="19.10" fill="#3ab54a"/>
<line x1="128.40" y1="282.90" x2="144.40" y2="282.90" stroke="#231f20" stroke-width="0.9"/>
<text x="134.6" y="323.2" font-size="8.4" fill="#231f20" transform="rotate(-90 134.6 323.2)" textLength="36.8" lengthAdjust="spacingAndGlyphs"><tspan fill="#1b5693">TRA</tspan> &gt; <tspan fill="#f7901e">OSC</tspan></text>
<text x="143.6" y="323.2" font-size="8.4" fill="#231f20" transform="rotate(-90 143.6 323.2)" textLength="36.8" lengthAdjust="spacingAndGlyphs"><tspan fill="#f7901e">OSC</tspan> &gt; <tspan fill="#1b5693">TRA</tspan></text>
<text x="182.90" y="161.60" font-size="8.8" fill="#231f20" textLength="34.0" lengthAdjust="spacingAndGlyphs">Non-OSC</text>
<text x="186.30" y="170.50" font-size="8.8" fill="#231f20" textLength="26.0" lengthAdjust="spacingAndGlyphs">related</text>
<text x="220.40" y="161.60" font-size="8.8" fill="#231f20" textLength="62.6" lengthAdjust="spacingAndGlyphs">General response</text>
<text x="234.20" y="170.50" font-size="8.8" fill="#231f20" textLength="34.6" lengthAdjust="spacingAndGlyphs">and noise</text>
<text x="297.40" y="161.60" font-size="8.8" fill="#231f20" textLength="17.3" lengthAdjust="spacingAndGlyphs">OSC</text>
<text x="292.50" y="170.50" font-size="8.8" fill="#231f20" textLength="25.9" lengthAdjust="spacingAndGlyphs">related</text>
<rect x="186.10" y="194.50" width="139.44" height="138.20" fill="#fff"/>
<path d="M186.10 194.50h10.01v1.30h-10.01zM186.10 195.75h10.01v1.30h-10.01zM186.10 197.00h10.01v1.30h-10.01zM186.10 198.25h10.01v1.30h-10.01zM186.10 200.75h10.01v1.30h-10.01zM225.94 200.75h10.01v1.30h-10.01zM186.10 202.00h10.01v1.30h-10.01zM186.10 203.25h10.01v1.80h-10.01zM186.10 205.00h10.01v1.30h-10.01zM186.10 206.25h10.01v1.30h-10.01zM196.06 206.25h10.01v1.30h-10.01zM186.10 207.50h10.01v1.30h-10.01zM186.10 208.75h10.01v1.30h-10.01zM196.06 208.75h10.01v1.30h-10.01zM186.10 210.00h10.01v1.30h-10.01zM186.10 212.50h10.01v1.30h-10.01zM186.10 213.75h10.01v1.30h-10.01zM186.10 215.00h10.01v1.30h-10.01zM186.10 216.25h10.01v1.30h-10.01zM186.10 217.50h10.01v1.30h-10.01zM186.10 218.75h10.01v1.30h-10.01zM186.10 220.00h10.01v1.30h-10.01zM186.10 221.25h10.01v1.30h-10.01zM186.10 222.50h10.01v1.30h-10.01zM186.10 223.75h10.01v1.30h-10.01zM186.10 225.00h10.01v1.30h-10.01zM186.10 226.25h10.01v1.30h-10.01zM186.10 227.50h10.01v1.30h-10.01zM186.10 228.75h10.01v1.30h-10.01zM186.10 230.00h10.01v1.30h-10.01zM186.10 231.25h10.01v1.30h-10.01zM186.10 232.50h10.01v1.55h-10.01zM196.06 232.50h10.01v1.55h-10.01zM186.10 234.00h10.01v1.30h-10.01zM186.10 235.25h10.01v1.30h-10.01zM186.10 236.50h10.01v1.30h-10.01zM186.10 237.75h10.01v1.30h-10.01zM186.10 239.00h10.01v1.30h-10.01zM186.10 240.25h10.01v1.30h-10.01zM186.10 241.50h10.01v1.30h-10.01zM186.10 242.75h10.01v1.30h-10.01zM186.10 244.00h10.01v1.05h-10.01zM186.10 245.00h10.01v1.30h-10.01zM206.02 245.00h10.01v1.30h-10.01zM186.10 246.25h10.01v1.30h-10.01zM186.10 247.50h10.01v1.30h-10.01zM186.10 248.75h10.01v1.30h-10.01zM186.10 250.00h10.01v1.30h-10.01zM196.06 250.00h10.01v1.30h-10.01zM186.10 251.25h10.01v1.30h-10.01zM186.10 252.50h10.01v1.30h-10.01zM186.10 253.75h10.01v1.30h-10.01zM186.10 255.00h10.01v1.30h-10.01zM186.10 256.25h10.01v1.30h-10.01zM196.06 256.25h10.01v1.30h-10.01zM186.10 257.50h10.01v1.30h-10.01zM186.10 258.75h10.01v1.30h-10.01zM186.10 260.00h10.01v1.30h-10.01zM186.10 261.25h10.01v1.30h-10.01zM186.10 262.50h10.01v1.30h-10.01zM186.10 263.75h10.01v1.30h-10.01zM186.10 265.00h10.01v1.30h-10.01zM186.10 266.25h10.01v1.30h-10.01zM186.10 267.50h10.01v1.30h-10.01zM186.10 268.75h10.01v1.30h-10.01zM186.10 270.00h10.01v1.30h-10.01zM186.10 271.25h10.01v1.30h-10.01zM186.10 272.50h10.01v0.75h-10.01zM215.98 275.45h10.01v1.30h-10.01zM265.78 282.95h10.01v1.30h-10.01zM245.86 287.50h10.01v1.30h-10.01zM255.82 287.50h10.01v1.30h-10.01zM275.74 287.50h10.01v1.30h-10.01zM285.70 287.50h10.01v1.30h-10.01zM305.62 287.50h10.01v1.30h-10.01zM255.82 296.25h10.01v1.30h-10.01zM275.74 297.50h10.01v1.30h-10.01zM265.78 298.75h10.01v1.30h-10.01zM285.70 298.75h10.01v1.30h-10.01zM215.98 305.00h10.01v1.30h-10.01zM225.94 305.00h10.01v1.30h-10.01zM255.82 305.00h10.01v1.30h-10.01zM305.62 305.00h10.01v1.30h-10.01zM255.82 306.25h10.01v1.30h-10.01zM215.98 307.50h10.01v1.30h-10.01zM265.78 307.50h10.01v1.30h-10.01zM275.74 307.50h10.01v1.30h-10.01zM285.70 307.50h10.01v1.30h-10.01zM295.66 307.50h10.01v1.30h-10.01zM305.62 307.50h10.01v1.30h-10.01zM215.98 308.75h10.01v1.30h-10.01zM235.90 308.75h10.01v1.30h-10.01zM275.74 308.75h10.01v1.30h-10.01zM285.70 308.75h10.01v1.30h-10.01zM305.62 308.75h10.01v1.30h-10.01zM215.98 310.00h10.01v1.30h-10.01zM225.94 310.00h10.01v1.30h-10.01zM265.78 310.00h10.01v1.30h-10.01zM275.74 310.00h10.01v1.30h-10.01zM295.66 310.00h10.01v1.30h-10.01zM305.62 310.00h10.01v1.30h-10.01zM215.98 311.25h10.01v1.30h-10.01zM255.82 311.25h10.01v1.30h-10.01zM265.78 311.25h10.01v1.30h-10.01zM275.74 311.25h10.01v1.30h-10.01zM285.70 311.25h10.01v1.30h-10.01zM305.62 311.25h10.01v1.30h-10.01zM275.74 312.50h10.01v1.30h-10.01zM285.70 312.50h10.01v1.30h-10.01zM305.62 312.50h10.01v1.30h-10.01zM275.74 313.75h10.01v1.30h-10.01zM295.66 313.75h10.01v1.30h-10.01zM215.98 315.00h10.01v1.30h-10.01zM255.82 315.00h10.01v1.30h-10.01zM275.74 315.00h10.01v1.30h-10.01zM285.70 315.00h10.01v1.30h-10.01zM295.66 315.00h10.01v1.30h-10.01zM305.62 315.00h10.01v1.30h-10.01zM215.98 316.25h10.01v1.80h-10.01zM255.82 318.00h10.01v1.30h-10.01zM265.78 318.00h10.01v1.30h-10.01zM285.70 318.00h10.01v1.30h-10.01zM305.62 318.00h10.01v1.30h-10.01zM215.98 320.50h10.01v1.30h-10.01zM275.74 320.50h10.01v1.30h-10.01zM285.70 320.50h10.01v1.30h-10.01zM295.66 320.50h10.01v1.30h-10.01zM315.58 320.50h10.01v1.30h-10.01zM255.82 323.00h10.01v1.30h-10.01zM275.74 323.00h10.01v1.30h-10.01zM285.70 323.00h10.01v1.30h-10.01zM295.66 323.00h10.01v1.30h-10.01zM305.62 323.00h10.01v1.30h-10.01zM215.98 324.25h10.01v1.30h-10.01zM225.94 324.25h10.01v1.30h-10.01zM255.82 324.25h10.01v1.30h-10.01zM265.78 324.25h10.01v1.30h-10.01zM275.74 324.25h10.01v1.30h-10.01zM285.70 324.25h10.01v1.30h-10.01zM295.66 324.25h10.01v1.30h-10.01zM305.62 324.25h10.01v1.30h-10.01zM315.58 324.25h10.01v1.30h-10.01zM275.74 325.50h10.01v1.30h-10.01zM215.98 326.75h10.01v1.30h-10.01zM255.82 326.75h10.01v1.30h-10.01zM275.74 326.75h10.01v1.30h-10.01zM295.66 326.75h10.01v1.30h-10.01zM275.74 331.75h10.01v1.00h-10.01z" fill="#3c4eb4"/>
<path d="M196.06 194.50h10.01v1.30h-10.01zM206.02 198.25h10.01v1.30h-10.01zM206.02 237.75h10.01v1.30h-10.01zM225.94 279.20h10.01v1.30h-10.01zM245.86 292.50h10.01v1.30h-10.01zM315.58 298.75h10.01v1.30h-10.01zM295.66 301.25h10.01v1.30h-10.01z" fill="#7e72c6"/>
<path d="M206.02 194.50h10.01v1.30h-10.01zM196.06 223.75h10.01v1.30h-10.01zM196.06 231.25h10.01v1.30h-10.01zM196.06 234.00h10.01v1.30h-10.01zM196.06 235.25h10.01v1.30h-10.01zM206.02 256.25h10.01v1.30h-10.01zM206.02 263.75h10.01v1.30h-10.01zM265.78 280.45h10.01v1.30h-10.01zM225.94 287.50h10.01v1.30h-10.01zM275.74 296.25h10.01v1.30h-10.01zM305.62 296.25h10.01v1.30h-10.01zM305.62 297.50h10.01v1.30h-10.01zM245.86 298.75h10.01v1.30h-10.01zM255.82 298.75h10.01v1.30h-10.01zM255.82 308.75h10.01v1.30h-10.01zM285.70 310.00h10.01v1.30h-10.01zM215.98 312.50h10.01v1.30h-10.01zM285.70 316.25h10.01v1.80h-10.01zM275.74 318.00h10.01v1.30h-10.01zM255.82 319.25h10.01v1.30h-10.01zM265.78 325.50h10.01v1.30h-10.01zM285.70 326.75h10.01v1.30h-10.01zM215.98 328.00h10.01v1.30h-10.01zM215.98 329.25h10.01v1.30h-10.01zM285.70 330.50h10.01v1.30h-10.01z" fill="#4e4eba"/>
<path d="M215.98 194.50h10.01v1.30h-10.01zM196.06 197.00h10.01v1.30h-10.01zM196.06 198.25h10.01v1.30h-10.01zM186.10 199.50h10.01v1.30h-10.01zM225.94 199.50h10.01v1.30h-10.01zM206.02 200.75h10.01v1.30h-10.01zM186.10 211.25h10.01v1.30h-10.01zM206.02 213.75h10.01v1.30h-10.01zM196.06 227.50h10.01v1.30h-10.01zM206.02 250.00h10.01v1.30h-10.01zM196.06 255.00h10.01v1.30h-10.01zM245.86 256.25h10.01v1.30h-10.01zM265.78 279.20h10.01v1.30h-10.01zM215.98 281.70h10.01v1.30h-10.01zM215.98 282.95h10.01v1.30h-10.01zM245.86 282.95h10.01v1.30h-10.01zM215.98 284.20h10.01v0.85h-10.01zM275.74 288.75h10.01v1.30h-10.01zM285.70 293.75h10.01v1.30h-10.01zM225.94 296.25h10.01v1.30h-10.01zM315.58 296.25h10.01v1.30h-10.01zM275.74 298.75h10.01v1.30h-10.01zM275.74 300.00h10.01v1.30h-10.01zM275.74 301.25h10.01v1.30h-10.01zM255.82 303.75h10.01v1.30h-10.01zM215.98 306.25h10.01v1.30h-10.01zM315.58 311.25h10.01v1.30h-10.01zM225.94 316.25h10.01v1.80h-10.01zM225.94 319.25h10.01v1.30h-10.01zM305.62 319.25h10.01v1.30h-10.01zM265.78 321.75h10.01v1.30h-10.01zM285.70 328.00h10.01v1.30h-10.01z" fill="#6054ba"/>
<path d="M225.94 194.50h10.01v1.30h-10.01zM206.02 197.00h10.01v1.30h-10.01zM225.94 197.00h10.01v1.30h-10.01zM215.98 198.25h10.01v1.30h-10.01zM215.98 200.75h10.01v1.30h-10.01zM265.78 200.75h10.01v1.30h-10.01zM206.02 203.25h10.01v1.80h-10.01zM215.98 203.25h10.01v1.80h-10.01zM196.06 221.25h10.01v1.30h-10.01zM206.02 234.00h10.01v1.30h-10.01zM206.02 253.75h10.01v1.30h-10.01zM245.86 276.70h10.01v1.30h-10.01zM186.10 277.95h10.01v1.30h-10.01zM245.86 277.95h10.01v1.30h-10.01zM255.82 277.95h10.01v1.30h-10.01zM275.74 277.95h10.01v1.30h-10.01zM295.66 287.50h10.01v1.30h-10.01zM315.58 287.50h10.01v1.30h-10.01zM245.86 293.75h10.01v1.30h-10.01zM285.70 295.00h10.01v1.30h-10.01zM215.98 297.50h10.01v1.30h-10.01zM245.86 297.50h10.01v1.30h-10.01zM295.66 302.50h10.01v1.30h-10.01zM315.58 305.00h10.01v1.30h-10.01zM275.74 306.25h10.01v1.30h-10.01zM305.62 306.25h10.01v1.30h-10.01zM235.90 311.25h10.01v1.30h-10.01zM225.94 313.75h10.01v1.30h-10.01zM235.90 318.00h10.01v1.30h-10.01zM215.98 319.25h10.01v1.30h-10.01zM225.94 323.00h10.01v1.30h-10.01zM315.58 323.00h10.01v1.30h-10.01zM215.98 325.50h10.01v1.30h-10.01zM305.62 325.50h10.01v1.30h-10.01zM265.78 326.75h10.01v1.30h-10.01zM315.58 326.75h10.01v1.30h-10.01zM275.74 328.00h10.01v1.30h-10.01zM275.74 329.25h10.01v1.30h-10.01zM215.98 330.50h10.01v1.30h-10.01zM255.82 330.50h10.01v1.30h-10.01zM275.74 330.50h10.01v1.30h-10.01zM315.58 330.50h10.01v1.30h-10.01zM215.98 331.75h10.01v1.00h-10.01zM225.94 331.75h10.01v1.00h-10.01z" fill="#5a54ba"/>
<path d="M235.90 194.50h10.01v1.30h-10.01zM206.02 211.25h10.01v1.30h-10.01zM196.06 220.00h10.01v1.30h-10.01zM206.02 246.25h10.01v1.30h-10.01zM196.06 251.25h10.01v1.30h-10.01zM245.86 265.00h10.01v1.30h-10.01zM255.82 282.95h10.01v1.30h-10.01zM225.94 284.20h10.01v0.85h-10.01zM235.90 285.00h10.01v1.30h-10.01zM295.66 285.00h10.01v1.30h-10.01zM295.66 290.00h10.01v1.30h-10.01zM285.70 292.50h10.01v1.30h-10.01zM305.62 292.50h10.01v1.30h-10.01zM275.74 293.75h10.01v1.30h-10.01zM225.94 297.50h10.01v1.30h-10.01zM275.74 302.50h10.01v1.30h-10.01zM275.74 303.75h10.01v1.30h-10.01zM265.78 306.25h10.01v1.30h-10.01zM215.98 313.75h10.01v1.30h-10.01zM315.58 315.00h10.01v1.30h-10.01zM295.66 321.75h10.01v1.30h-10.01zM295.66 325.50h10.01v1.30h-10.01zM315.58 325.50h10.01v1.30h-10.01z" fill="#6c5ac0"/>
<path d="M245.86 194.50h10.01v1.30h-10.01zM245.86 195.75h10.01v1.30h-10.01zM235.90 197.00h10.01v1.30h-10.01zM245.86 206.25h10.01v1.30h-10.01zM255.82 206.25h10.01v1.30h-10.01zM255.82 207.50h10.01v1.30h-10.01zM315.58 208.75h10.01v1.30h-10.01zM275.74 212.50h10.01v1.30h-10.01zM235.90 216.25h10.01v1.30h-10.01zM225.94 217.50h10.01v1.30h-10.01zM235.90 218.75h10.01v1.30h-10.01zM275.74 220.00h10.01v1.30h-10.01zM275.74 221.25h10.01v1.30h-10.01zM225.94 225.00h10.01v1.30h-10.01zM255.82 225.00h10.01v1.30h-10.01zM235.90 228.75h10.01v1.30h-10.01zM235.90 231.25h10.01v1.30h-10.01zM245.86 231.25h10.01v1.30h-10.01zM215.98 234.00h10.01v1.30h-10.01zM225.94 234.00h10.01v1.30h-10.01zM215.98 236.50h10.01v1.30h-10.01zM235.90 236.50h10.01v1.30h-10.01zM255.82 236.50h10.01v1.30h-10.01zM275.74 237.75h10.01v1.30h-10.01zM225.94 241.50h10.01v1.30h-10.01zM265.78 245.00h10.01v1.30h-10.01zM225.94 247.50h10.01v1.30h-10.01zM275.74 247.50h10.01v1.30h-10.01zM255.82 248.75h10.01v1.30h-10.01zM245.86 253.75h10.01v1.30h-10.01zM265.78 263.75h10.01v1.30h-10.01zM265.78 271.25h10.01v1.30h-10.01zM206.02 272.50h10.01v0.75h-10.01zM295.66 276.70h10.01v1.30h-10.01zM285.70 277.95h10.01v1.30h-10.01zM305.62 280.45h10.01v1.30h-10.01zM315.58 281.70h10.01v1.30h-10.01zM186.10 285.00h10.01v1.30h-10.01zM186.10 291.25h10.01v1.30h-10.01zM196.06 291.25h10.01v1.30h-10.01zM206.02 295.00h10.01v1.30h-10.01zM225.94 295.00h10.01v1.30h-10.01zM186.10 298.75h10.01v1.30h-10.01zM206.02 305.00h10.01v1.30h-10.01zM206.02 306.25h10.01v1.30h-10.01zM196.06 312.50h10.01v1.30h-10.01zM196.06 315.00h10.01v1.30h-10.01zM206.02 315.00h10.01v1.30h-10.01zM245.86 316.25h10.01v1.80h-10.01zM196.06 320.50h10.01v1.30h-10.01zM206.02 324.25h10.01v1.30h-10.01z" fill="#f6f6f6"/>
<path d="M255.82 194.50h10.01v1.30h-10.01zM235.90 199.50h10.01v1.30h-10.01zM225.94 205.00h10.01v1.30h-10.01zM215.98 208.75h10.01v1.30h-10.01zM255.82 210.00h10.01v1.30h-10.01zM196.06 226.25h10.01v1.30h-10.01zM215.98 232.50h10.01v1.55h-10.01zM196.06 246.25h10.01v1.30h-10.01zM245.86 250.00h10.01v1.30h-10.01zM245.86 258.75h10.01v1.30h-10.01zM265.78 267.50h10.01v1.30h-10.01zM295.66 282.95h10.01v1.30h-10.01zM225.94 285.00h10.01v1.30h-10.01zM215.98 291.25h10.01v1.30h-10.01zM315.58 301.25h10.01v1.30h-10.01zM265.78 302.50h10.01v1.30h-10.01zM245.86 313.75h10.01v1.30h-10.01zM245.86 320.50h10.01v1.30h-10.01z" fill="#baaede"/>
<path d="M265.78 194.50h10.01v1.30h-10.01zM206.02 206.25h10.01v1.30h-10.01zM196.06 228.75h10.01v1.30h-10.01zM206.02 231.25h10.01v1.30h-10.01zM206.02 251.25h10.01v1.30h-10.01zM255.82 297.50h10.01v1.30h-10.01zM305.62 298.75h10.01v1.30h-10.01zM235.90 305.00h10.01v1.30h-10.01zM295.66 306.25h10.01v1.30h-10.01zM255.82 316.25h10.01v1.80h-10.01zM215.98 318.00h10.01v1.30h-10.01zM225.94 318.00h10.01v1.30h-10.01zM265.78 319.25h10.01v1.30h-10.01zM275.74 319.25h10.01v1.30h-10.01zM285.70 319.25h10.01v1.30h-10.01zM295.66 319.25h10.01v1.30h-10.01zM215.98 321.75h10.01v1.30h-10.01zM285.70 325.50h10.01v1.30h-10.01zM305.62 329.25h10.01v1.30h-10.01z" fill="#544eba"/>
<path d="M275.74 194.50h10.01v1.30h-10.01zM275.74 197.00h10.01v1.30h-10.01zM245.86 198.25h10.01v1.30h-10.01zM255.82 199.50h10.01v1.30h-10.01zM215.98 207.50h10.01v1.30h-10.01zM235.90 207.50h10.01v1.30h-10.01zM245.86 212.50h10.01v1.30h-10.01zM315.58 212.50h10.01v1.30h-10.01zM215.98 215.00h10.01v1.30h-10.01zM255.82 220.00h10.01v1.30h-10.01zM275.74 223.75h10.01v1.30h-10.01zM265.78 226.25h10.01v1.30h-10.01zM215.98 228.75h10.01v1.30h-10.01zM215.98 231.25h10.01v1.30h-10.01zM225.94 231.25h10.01v1.30h-10.01zM235.90 234.00h10.01v1.30h-10.01zM245.86 239.00h10.01v1.30h-10.01zM215.98 241.50h10.01v1.30h-10.01zM255.82 251.25h10.01v1.30h-10.01zM265.78 255.00h10.01v1.30h-10.01zM255.82 257.50h10.01v1.30h-10.01zM255.82 272.50h10.01v0.75h-10.01zM196.06 274.20h10.01v1.30h-10.01zM206.02 276.70h10.01v1.30h-10.01zM315.58 276.70h10.01v1.30h-10.01zM315.58 277.95h10.01v1.30h-10.01zM295.66 281.70h10.01v1.30h-10.01zM186.10 286.25h10.01v1.30h-10.01zM206.02 302.50h10.01v1.30h-10.01z" fill="#f0f0f0"/>
<path d="M285.70 194.50h10.01v1.30h-10.01zM275.74 207.50h10.01v1.30h-10.01zM315.58 210.00h10.01v1.30h-10.01zM255.82 211.25h10.01v1.30h-10.01zM275.74 218.75h10.01v1.30h-10.01zM285.70 221.25h10.01v1.30h-10.01zM315.58 223.75h10.01v1.30h-10.01zM245.86 226.25h10.01v1.30h-10.01zM285.70 227.50h10.01v1.30h-10.01zM285.70 239.00h10.01v1.30h-10.01zM265.78 246.25h10.01v1.30h-10.01zM215.98 250.00h10.01v1.30h-10.01zM215.98 252.50h10.01v1.30h-10.01zM265.78 252.50h10.01v1.30h-10.01zM225.94 253.75h10.01v1.30h-10.01zM285.70 281.70h10.01v1.30h-10.01zM315.58 284.20h10.01v0.85h-10.01zM186.10 293.75h10.01v1.30h-10.01zM186.10 302.50h10.01v1.30h-10.01zM206.02 316.25h10.01v1.80h-10.01zM206.02 329.25h10.01v1.30h-10.01z" fill="#c0c0c0"/>
<path d="M295.66 194.50h10.01v1.30h-10.01zM315.58 194.50h10.01v1.30h-10.01zM295.66 200.75h10.01v1.30h-10.01zM315.58 200.75h10.01v1.30h-10.01zM295.66 202.00h10.01v1.30h-10.01zM285.70 215.00h10.01v1.30h-10.01zM245.86 221.25h10.01v1.30h-10.01zM285.70 230.00h10.01v1.30h-10.01zM315.58 232.50h10.01v1.55h-10.01zM315.58 235.25h10.01v1.30h-10.01zM285.70 241.50h10.01v1.30h-10.01zM225.94 252.50h10.01v1.30h-10.01zM215.98 255.00h10.01v1.30h-10.01zM225.94 257.50h10.01v1.30h-10.01zM235.90 258.75h10.01v1.30h-10.01zM285.70 265.00h10.01v1.30h-10.01zM186.10 308.75h10.01v1.30h-10.01zM186.10 323.00h10.01v1.30h-10.01zM206.02 330.50h10.01v1.30h-10.01z" fill="#9c9c9c"/>
<path d="M305.62 194.50h10.01v1.30h-10.01zM305.62 210.00h10.01v1.30h-10.01zM295.66 213.75h10.01v1.30h-10.01zM305.62 213.75h10.01v1.30h-10.01zM295.66 220.00h10.01v1.30h-10.01zM285.70 256.25h10.01v1.30h-10.01zM275.74 262.50h10.01v1.30h-10.01zM315.58 263.75h10.01v1.30h-10.01zM225.94 266.25h10.01v1.30h-10.01zM186.10 319.25h10.01v1.30h-10.01zM186.10 325.50h10.01v1.30h-10.01zM186.10 330.50h10.01v1.30h-10.01z" fill="#666666"/>
<path d="M196.06 195.75h10.01v1.30h-10.01zM215.98 197.00h10.01v1.30h-10.01zM215.98 206.25h10.01v1.30h-10.01zM265.78 218.75h10.01v1.30h-10.01zM235.90 223.75h10.01v1.30h-10.01zM245.86 263.75h10.01v1.30h-10.01zM245.86 270.00h10.01v1.30h-10.01zM215.98 274.20h10.01v1.30h-10.01zM186.10 281.70h10.01v1.30h-10.01zM255.82 286.25h10.01v1.30h-10.01zM285.70 290.00h10.01v1.30h-10.01zM295.66 292.50h10.01v1.30h-10.01zM196.06 293.75h10.01v1.30h-10.01zM315.58 293.75h10.01v1.30h-10.01zM196.06 296.25h10.01v1.30h-10.01zM235.90 298.75h10.01v1.30h-10.01zM255.82 301.25h10.01v1.30h-10.01zM245.86 302.50h10.01v1.30h-10.01zM315.58 307.50h10.01v1.30h-10.01zM315.58 313.75h10.01v1.30h-10.01zM315.58 328.00h10.01v1.30h-10.01zM235.90 329.25h10.01v1.30h-10.01z" fill="#8a78cc"/>
<path d="M206.02 195.75h10.01v1.30h-10.01zM196.06 207.50h10.01v1.30h-10.01zM196.06 245.00h10.01v1.30h-10.01zM215.98 276.70h10.01v1.30h-10.01zM265.78 276.70h10.01v1.30h-10.01zM235.90 277.95h10.01v1.30h-10.01zM265.78 287.50h10.01v1.30h-10.01zM255.82 291.25h10.01v1.30h-10.01zM265.78 300.00h10.01v1.30h-10.01zM255.82 312.50h10.01v1.30h-10.01zM235.90 315.00h10.01v1.30h-10.01z" fill="#7266c6"/>
<path d="M215.98 195.75h10.01v1.30h-10.01zM206.02 199.50h10.01v1.30h-10.01zM265.78 205.00h10.01v1.30h-10.01zM265.78 213.75h10.01v1.30h-10.01zM196.06 218.75h10.01v1.30h-10.01zM196.06 230.00h10.01v1.30h-10.01zM206.02 248.75h10.01v1.30h-10.01zM206.02 252.50h10.01v1.30h-10.01zM245.86 266.25h10.01v1.30h-10.01zM225.94 275.45h10.01v1.30h-10.01zM265.78 277.95h10.01v1.30h-10.01zM305.62 277.95h10.01v1.30h-10.01zM275.74 282.95h10.01v1.30h-10.01zM295.66 296.25h10.01v1.30h-10.01zM255.82 300.00h10.01v1.30h-10.01zM305.62 301.25h10.01v1.30h-10.01zM255.82 302.50h10.01v1.30h-10.01zM235.90 310.00h10.01v1.30h-10.01zM265.78 328.00h10.01v1.30h-10.01zM265.78 329.25h10.01v1.30h-10.01zM225.94 330.50h10.01v1.30h-10.01z" fill="#6654c0"/>
<path d="M225.94 195.75h10.01v1.30h-10.01zM255.82 208.75h10.01v1.30h-10.01zM206.02 225.00h10.01v1.30h-10.01zM245.86 247.50h10.01v1.30h-10.01zM196.06 258.75h10.01v1.30h-10.01zM235.90 275.45h10.01v1.30h-10.01zM186.10 276.70h10.01v1.30h-10.01zM295.66 277.95h10.01v1.30h-10.01zM265.78 281.70h10.01v1.30h-10.01zM305.62 295.00h10.01v1.30h-10.01zM235.90 297.50h10.01v1.30h-10.01zM245.86 300.00h10.01v1.30h-10.01zM245.86 303.75h10.01v1.30h-10.01zM295.66 311.25h10.01v1.30h-10.01zM255.82 313.75h10.01v1.30h-10.01zM295.66 328.00h10.01v1.30h-10.01zM265.78 330.50h10.01v1.30h-10.01z" fill="#7866c6"/>
<path d="M235.90 195.75h10.01v1.30h-10.01zM245.86 208.75h10.01v1.30h-10.01zM275.74 208.75h10.01v1.30h-10.01zM215.98 210.00h10.01v1.30h-10.01zM265.78 212.50h10.01v1.30h-10.01zM265.78 220.00h10.01v1.30h-10.01zM235.90 221.25h10.01v1.30h-10.01zM196.06 272.50h10.01v0.75h-10.01zM305.62 282.95h10.01v1.30h-10.01zM245.86 288.75h10.01v1.30h-10.01zM285.70 288.75h10.01v1.30h-10.01zM196.06 300.00h10.01v1.30h-10.01zM305.62 302.50h10.01v1.30h-10.01zM245.86 312.50h10.01v1.30h-10.01zM315.58 321.75h10.01v1.30h-10.01zM245.86 329.25h10.01v1.30h-10.01zM235.90 330.50h10.01v1.30h-10.01z" fill="#c0b4e4"/>
<path d="M255.82 195.75h10.01v1.30h-10.01zM215.98 227.50h10.01v1.30h-10.01zM255.82 234.00h10.01v1.30h-10.01zM245.86 261.25h10.01v1.30h-10.01zM196.06 288.75h10.01v1.30h-10.01zM196.06 290.00h10.01v1.30h-10.01zM206.02 301.25h10.01v1.30h-10.01zM196.06 311.25h10.01v1.30h-10.01zM196.06 318.00h10.01v1.30h-10.01zM245.86 326.75h10.01v1.30h-10.01z" fill="#f6f6fc"/>
<path d="M265.78 195.75h10.01v1.30h-10.01zM265.78 211.25h10.01v1.30h-10.01zM255.82 223.75h10.01v1.30h-10.01zM255.82 239.00h10.01v1.30h-10.01zM196.06 284.20h10.01v0.85h-10.01zM225.94 300.00h10.01v1.30h-10.01z" fill="#e4def6"/>
<path d="M275.74 195.75h10.01v1.30h-10.01zM275.74 198.25h10.01v1.30h-10.01zM255.82 200.75h10.01v1.30h-10.01zM245.86 202.00h10.01v1.30h-10.01zM235.90 212.50h10.01v1.30h-10.01zM245.86 216.25h10.01v1.30h-10.01zM255.82 222.50h10.01v1.30h-10.01zM215.98 225.00h10.01v1.30h-10.01zM255.82 226.25h10.01v1.30h-10.01zM275.74 227.50h10.01v1.30h-10.01zM225.94 230.00h10.01v1.30h-10.01zM255.82 231.25h10.01v1.30h-10.01zM275.74 231.25h10.01v1.30h-10.01zM215.98 235.25h10.01v1.30h-10.01zM225.94 235.25h10.01v1.30h-10.01zM215.98 240.25h10.01v1.30h-10.01zM265.78 250.00h10.01v1.30h-10.01zM215.98 251.25h10.01v1.30h-10.01zM265.78 257.50h10.01v1.30h-10.01zM196.06 271.25h10.01v1.30h-10.01zM285.70 274.20h10.01v1.30h-10.01zM285.70 279.20h10.01v1.30h-10.01zM295.66 279.20h10.01v1.30h-10.01zM206.02 292.50h10.01v1.30h-10.01zM196.06 306.25h10.01v1.30h-10.01zM196.06 329.25h10.01v1.30h-10.01z" fill="#eaeaea"/>
<path d="M285.70 195.75h10.01v1.30h-10.01zM285.70 198.25h10.01v1.30h-10.01zM295.66 198.25h10.01v1.30h-10.01zM285.70 199.50h10.01v1.30h-10.01zM315.58 207.50h10.01v1.30h-10.01zM315.58 213.75h10.01v1.30h-10.01zM225.94 215.00h10.01v1.30h-10.01zM285.70 216.25h10.01v1.30h-10.01zM315.58 220.00h10.01v1.30h-10.01zM285.70 222.50h10.01v1.30h-10.01zM285.70 236.50h10.01v1.30h-10.01zM225.94 258.75h10.01v1.30h-10.01zM215.98 263.75h10.01v1.30h-10.01zM275.74 263.75h10.01v1.30h-10.01zM275.74 271.25h10.01v1.30h-10.01zM315.58 280.45h10.01v1.30h-10.01zM186.10 305.00h10.01v1.30h-10.01zM186.10 315.00h10.01v1.30h-10.01zM206.02 321.75h10.01v1.30h-10.01zM186.10 324.25h10.01v1.30h-10.01zM206.02 326.75h10.01v1.30h-10.01zM206.02 328.00h10.01v1.30h-10.01z" fill="#b4b4b4"/>
<path d="M295.66 195.75h10.01v1.30h-10.01zM295.66 217.50h10.01v1.30h-10.01zM295.66 230.00h10.01v1.30h-10.01zM315.58 231.25h10.01v1.30h-10.01zM315.58 251.25h10.01v1.30h-10.01zM285.70 255.00h10.01v1.30h-10.01zM315.58 256.25h10.01v1.30h-10.01zM225.94 270.00h10.01v1.30h-10.01z" fill="#6c6c6c"/>
<path d="M305.62 195.75h10.01v1.30h-10.01zM295.66 206.25h10.01v1.30h-10.01zM295.66 211.25h10.01v1.30h-10.01zM305.62 212.50h10.01v1.30h-10.01zM295.66 222.50h10.01v1.30h-10.01zM295.66 226.25h10.01v1.30h-10.01zM305.62 236.50h10.01v1.30h-10.01zM315.58 237.75h10.01v1.30h-10.01zM305.62 240.25h10.01v1.30h-10.01zM305.62 241.50h10.01v1.30h-10.01zM315.58 242.75h10.01v1.30h-10.01zM295.66 244.00h10.01v1.05h-10.01zM305.62 250.00h10.01v1.30h-10.01zM315.58 255.00h10.01v1.30h-10.01zM215.98 265.00h10.01v1.30h-10.01zM225.94 265.00h10.01v1.30h-10.01zM295.66 267.50h10.01v1.30h-10.01zM305.62 268.75h10.01v1.30h-10.01zM225.94 272.50h10.01v0.75h-10.01z" fill="#303030"/>
<path d="M315.58 195.75h10.01v1.30h-10.01zM285.70 203.25h10.01v1.80h-10.01zM295.66 203.25h10.01v1.80h-10.01zM315.58 215.00h10.01v1.30h-10.01zM315.58 236.50h10.01v1.30h-10.01zM225.94 261.25h10.01v1.30h-10.01zM235.90 266.25h10.01v1.30h-10.01zM186.10 328.00h10.01v1.30h-10.01z" fill="#7e7e7e"/>
<path d="M245.86 197.00h10.01v1.30h-10.01zM235.90 198.25h10.01v1.30h-10.01zM255.82 202.00h10.01v1.30h-10.01zM245.86 213.75h10.01v1.30h-10.01zM265.78 227.50h10.01v1.30h-10.01zM225.94 228.75h10.01v1.30h-10.01zM235.90 230.00h10.01v1.30h-10.01zM275.74 234.00h10.01v1.30h-10.01zM275.74 235.25h10.01v1.30h-10.01zM206.02 244.00h10.01v1.05h-10.01zM255.82 245.00h10.01v1.30h-10.01zM255.82 265.00h10.01v1.30h-10.01zM275.74 265.00h10.01v1.30h-10.01zM196.06 275.45h10.01v1.30h-10.01zM206.02 275.45h10.01v1.30h-10.01zM206.02 286.25h10.01v1.30h-10.01zM315.58 303.75h10.01v1.30h-10.01z" fill="#f6f0f6"/>
<path d="M255.82 197.00h10.01v1.30h-10.01zM235.90 206.25h10.01v1.30h-10.01zM215.98 211.25h10.01v1.30h-10.01zM225.94 212.50h10.01v1.30h-10.01zM275.74 217.50h10.01v1.30h-10.01zM265.78 237.75h10.01v1.30h-10.01zM235.90 239.00h10.01v1.30h-10.01zM245.86 240.25h10.01v1.30h-10.01zM275.74 241.50h10.01v1.30h-10.01zM215.98 242.75h10.01v1.30h-10.01zM245.86 244.00h10.01v1.05h-10.01zM255.82 255.00h10.01v1.30h-10.01zM206.02 266.25h10.01v1.30h-10.01zM206.02 267.50h10.01v1.30h-10.01zM196.06 279.20h10.01v1.30h-10.01zM305.62 284.20h10.01v0.85h-10.01zM186.10 287.50h10.01v1.30h-10.01zM225.94 288.75h10.01v1.30h-10.01zM206.02 290.00h10.01v1.30h-10.01z" fill="#f0f0f6"/>
<path d="M265.78 197.00h10.01v1.30h-10.01zM255.82 205.00h10.01v1.30h-10.01zM225.94 208.75h10.01v1.30h-10.01zM215.98 221.25h10.01v1.30h-10.01zM245.86 279.20h10.01v1.30h-10.01zM315.58 290.00h10.01v1.30h-10.01zM245.86 301.25h10.01v1.30h-10.01zM235.90 302.50h10.01v1.30h-10.01zM245.86 324.25h10.01v1.30h-10.01zM225.94 325.50h10.01v1.30h-10.01z" fill="#a290d2"/>
<path d="M285.70 197.00h10.01v1.30h-10.01zM215.98 226.25h10.01v1.30h-10.01zM225.94 242.75h10.01v1.30h-10.01zM275.74 245.00h10.01v1.30h-10.01zM215.98 246.25h10.01v1.30h-10.01zM235.90 248.75h10.01v1.30h-10.01zM265.78 253.75h10.01v1.30h-10.01zM275.74 258.75h10.01v1.30h-10.01zM235.90 263.75h10.01v1.30h-10.01zM285.70 270.00h10.01v1.30h-10.01zM186.10 300.00h10.01v1.30h-10.01zM186.10 301.25h10.01v1.30h-10.01zM186.10 311.25h10.01v1.30h-10.01zM196.06 328.00h10.01v1.30h-10.01z" fill="#bababa"/>
<path d="M295.66 197.00h10.01v1.30h-10.01zM315.58 203.25h10.01v1.80h-10.01zM305.62 206.25h10.01v1.30h-10.01zM295.66 221.25h10.01v1.30h-10.01z" fill="#787878"/>
<path d="M305.62 197.00h10.01v1.30h-10.01zM315.58 198.25h10.01v1.30h-10.01zM305.62 216.25h10.01v1.30h-10.01zM315.58 218.75h10.01v1.30h-10.01zM275.74 246.25h10.01v1.30h-10.01zM315.58 248.75h10.01v1.30h-10.01z" fill="#727272"/>
<path d="M315.58 197.00h10.01v1.30h-10.01zM315.58 222.50h10.01v1.30h-10.01zM295.66 223.75h10.01v1.30h-10.01zM285.70 226.25h10.01v1.30h-10.01zM295.66 227.50h10.01v1.30h-10.01zM315.58 228.75h10.01v1.30h-10.01zM235.90 246.25h10.01v1.30h-10.01zM285.70 247.50h10.01v1.30h-10.01zM275.74 257.50h10.01v1.30h-10.01zM235.90 270.00h10.01v1.30h-10.01zM186.10 295.00h10.01v1.30h-10.01zM186.10 326.75h10.01v1.30h-10.01z" fill="#8a8a8a"/>
<path d="M225.94 198.25h10.01v1.30h-10.01zM206.02 205.00h10.01v1.30h-10.01zM196.06 240.25h10.01v1.30h-10.01zM196.06 277.95h10.01v1.30h-10.01zM275.74 285.00h10.01v1.30h-10.01zM285.70 285.00h10.01v1.30h-10.01zM275.74 286.25h10.01v1.30h-10.01zM265.78 315.00h10.01v1.30h-10.01zM295.66 316.25h10.01v1.80h-10.01zM275.74 321.75h10.01v1.30h-10.01zM255.82 329.25h10.01v1.30h-10.01zM295.66 329.25h10.01v1.30h-10.01z" fill="#665ac0"/>
<path d="M255.82 198.25h10.01v1.30h-10.01z" fill="#fcf6fc"/>
<path d="M265.78 198.25h10.01v1.30h-10.01zM196.06 202.00h10.01v1.30h-10.01zM265.78 207.50h10.01v1.30h-10.01zM206.02 216.25h10.01v1.30h-10.01zM215.98 223.75h10.01v1.30h-10.01zM206.02 226.25h10.01v1.30h-10.01zM206.02 228.75h10.01v1.30h-10.01zM196.06 252.50h10.01v1.30h-10.01zM196.06 266.25h10.01v1.30h-10.01zM265.78 270.00h10.01v1.30h-10.01zM245.86 271.25h10.01v1.30h-10.01zM186.10 275.45h10.01v1.30h-10.01zM255.82 275.45h10.01v1.30h-10.01zM186.10 279.20h10.01v1.30h-10.01zM235.90 279.20h10.01v1.30h-10.01zM235.90 284.20h10.01v0.85h-10.01zM215.98 285.00h10.01v1.30h-10.01zM305.62 286.25h10.01v1.30h-10.01zM215.98 288.75h10.01v1.30h-10.01zM255.82 288.75h10.01v1.30h-10.01zM305.62 288.75h10.01v1.30h-10.01zM225.94 290.00h10.01v1.30h-10.01zM275.74 291.25h10.01v1.30h-10.01zM215.98 293.75h10.01v1.30h-10.01zM235.90 295.00h10.01v1.30h-10.01zM245.86 295.00h10.01v1.30h-10.01zM196.06 297.50h10.01v1.30h-10.01zM295.66 300.00h10.01v1.30h-10.01zM315.58 300.00h10.01v1.30h-10.01zM215.98 302.50h10.01v1.30h-10.01zM196.06 305.00h10.01v1.30h-10.01zM315.58 306.25h10.01v1.30h-10.01zM196.06 308.75h10.01v1.30h-10.01zM315.58 310.00h10.01v1.30h-10.01zM235.90 320.50h10.01v1.30h-10.01zM235.90 323.00h10.01v1.30h-10.01zM196.06 324.25h10.01v1.30h-10.01zM305.62 328.00h10.01v1.30h-10.01z" fill="#9c8ad2"/>
<path d="M305.62 198.25h10.01v1.30h-10.01zM305.62 222.50h10.01v1.30h-10.01zM295.66 236.50h10.01v1.30h-10.01zM305.62 242.75h10.01v1.30h-10.01zM305.62 247.50h10.01v1.30h-10.01zM295.66 256.25h10.01v1.30h-10.01zM295.66 272.50h10.01v0.75h-10.01zM186.10 321.75h10.01v1.30h-10.01z" fill="#363636"/>
<path d="M196.06 199.50h10.01v1.30h-10.01zM215.98 199.50h10.01v1.30h-10.01zM196.06 217.50h10.01v1.30h-10.01zM196.06 257.50h10.01v1.30h-10.01zM206.02 257.50h10.01v1.30h-10.01zM265.78 285.00h10.01v1.30h-10.01zM225.94 308.75h10.01v1.30h-10.01zM235.90 312.50h10.01v1.30h-10.01zM265.78 313.75h10.01v1.30h-10.01zM315.58 318.00h10.01v1.30h-10.01zM215.98 323.00h10.01v1.30h-10.01zM255.82 328.00h10.01v1.30h-10.01zM305.62 330.50h10.01v1.30h-10.01z" fill="#7260c0"/>
<path d="M245.86 199.50h10.01v1.30h-10.01zM235.90 217.50h10.01v1.30h-10.01zM265.78 231.25h10.01v1.30h-10.01zM235.90 232.50h10.01v1.55h-10.01zM206.02 235.25h10.01v1.30h-10.01zM245.86 236.50h10.01v1.30h-10.01zM245.86 251.25h10.01v1.30h-10.01zM255.82 270.00h10.01v1.30h-10.01zM255.82 274.20h10.01v1.30h-10.01zM196.06 276.70h10.01v1.30h-10.01zM206.02 281.70h10.01v1.30h-10.01zM305.62 281.70h10.01v1.30h-10.01zM196.06 287.50h10.01v1.30h-10.01zM265.78 288.75h10.01v1.30h-10.01zM265.78 290.00h10.01v1.30h-10.01zM275.74 290.00h10.01v1.30h-10.01zM295.66 295.00h10.01v1.30h-10.01zM225.94 298.75h10.01v1.30h-10.01zM235.90 319.25h10.01v1.30h-10.01z" fill="#a896d8"/>
<path d="M265.78 199.50h10.01v1.30h-10.01zM206.02 207.50h10.01v1.30h-10.01zM196.06 212.50h10.01v1.30h-10.01zM196.06 237.75h10.01v1.30h-10.01zM275.74 279.20h10.01v1.30h-10.01zM265.78 291.25h10.01v1.30h-10.01zM285.70 291.25h10.01v1.30h-10.01zM265.78 293.75h10.01v1.30h-10.01zM215.98 296.25h10.01v1.30h-10.01zM285.70 302.50h10.01v1.30h-10.01zM235.90 307.50h10.01v1.30h-10.01zM265.78 312.50h10.01v1.30h-10.01zM235.90 331.75h10.01v1.00h-10.01z" fill="#786cc6"/>
<path d="M275.74 199.50h10.01v1.30h-10.01zM275.74 202.00h10.01v1.30h-10.01zM215.98 216.25h10.01v1.30h-10.01zM225.94 218.75h10.01v1.30h-10.01zM225.94 220.00h10.01v1.30h-10.01zM255.82 230.00h10.01v1.30h-10.01zM225.94 236.50h10.01v1.30h-10.01zM255.82 240.25h10.01v1.30h-10.01zM245.86 241.50h10.01v1.30h-10.01zM245.86 242.75h10.01v1.30h-10.01zM255.82 247.50h10.01v1.30h-10.01zM245.86 252.50h10.01v1.30h-10.01zM255.82 267.50h10.01v1.30h-10.01zM275.74 270.00h10.01v1.30h-10.01zM235.90 274.20h10.01v1.30h-10.01zM305.62 279.20h10.01v1.30h-10.01zM295.66 284.20h10.01v0.85h-10.01zM196.06 285.00h10.01v1.30h-10.01zM315.58 288.75h10.01v1.30h-10.01zM186.10 297.50h10.01v1.30h-10.01zM225.94 301.25h10.01v1.30h-10.01zM245.86 306.25h10.01v1.30h-10.01zM245.86 319.25h10.01v1.30h-10.01z" fill="#eae4f6"/>
<path d="M295.66 199.50h10.01v1.30h-10.01zM305.62 199.50h10.01v1.30h-10.01zM305.62 202.00h10.01v1.30h-10.01zM295.66 205.00h10.01v1.30h-10.01zM315.58 217.50h10.01v1.30h-10.01zM285.70 234.00h10.01v1.30h-10.01zM285.70 237.75h10.01v1.30h-10.01zM285.70 244.00h10.01v1.05h-10.01zM235.90 255.00h10.01v1.30h-10.01zM225.94 260.00h10.01v1.30h-10.01zM235.90 268.75h10.01v1.30h-10.01zM285.70 268.75h10.01v1.30h-10.01zM186.10 316.25h10.01v1.80h-10.01zM186.10 318.00h10.01v1.30h-10.01z" fill="#969696"/>
<path d="M315.58 199.50h10.01v1.30h-10.01zM305.62 200.75h10.01v1.30h-10.01zM305.62 221.25h10.01v1.30h-10.01zM315.58 227.50h10.01v1.30h-10.01zM315.58 239.00h10.01v1.30h-10.01zM285.70 240.25h10.01v1.30h-10.01zM225.94 255.00h10.01v1.30h-10.01zM235.90 272.50h10.01v0.75h-10.01zM186.10 306.25h10.01v1.30h-10.01zM186.10 313.75h10.01v1.30h-10.01z" fill="#909090"/>
<path d="M196.06 200.75h10.01v1.30h-10.01zM196.06 210.00h10.01v1.30h-10.01zM196.06 213.75h10.01v1.30h-10.01zM206.02 223.75h10.01v1.30h-10.01zM215.98 277.95h10.01v1.30h-10.01zM265.78 284.20h10.01v0.85h-10.01zM265.78 296.25h10.01v1.30h-10.01zM265.78 305.00h10.01v1.30h-10.01zM255.82 320.50h10.01v1.30h-10.01zM285.70 321.75h10.01v1.30h-10.01z" fill="#4e4eb4"/>
<path d="M235.90 200.75h10.01v1.30h-10.01zM206.02 258.75h10.01v1.30h-10.01zM265.78 266.25h10.01v1.30h-10.01zM235.90 291.25h10.01v1.30h-10.01zM295.66 298.75h10.01v1.30h-10.01zM285.70 303.75h10.01v1.30h-10.01z" fill="#7260c6"/>
<path d="M245.86 200.75h10.01v1.30h-10.01zM215.98 205.00h10.01v1.30h-10.01zM215.98 212.50h10.01v1.30h-10.01zM315.58 319.25h10.01v1.30h-10.01z" fill="#b4a2de"/>
<path d="M275.74 200.75h10.01v1.30h-10.01zM275.74 206.25h10.01v1.30h-10.01zM235.90 211.25h10.01v1.30h-10.01zM225.94 213.75h10.01v1.30h-10.01zM215.98 222.50h10.01v1.30h-10.01zM255.82 228.75h10.01v1.30h-10.01zM305.62 275.45h10.01v1.30h-10.01zM196.06 323.00h10.01v1.30h-10.01zM196.06 325.50h10.01v1.30h-10.01z" fill="#ded8f0"/>
<path d="M285.70 200.75h10.01v1.30h-10.01zM285.70 208.75h10.01v1.30h-10.01zM275.74 210.00h10.01v1.30h-10.01zM215.98 218.75h10.01v1.30h-10.01zM275.74 222.50h10.01v1.30h-10.01zM245.86 223.75h10.01v1.30h-10.01zM235.90 226.25h10.01v1.30h-10.01zM225.94 227.50h10.01v1.30h-10.01zM275.74 230.00h10.01v1.30h-10.01zM275.74 232.50h10.01v1.55h-10.01zM285.70 232.50h10.01v1.55h-10.01zM235.90 235.25h10.01v1.30h-10.01zM215.98 237.75h10.01v1.30h-10.01zM225.94 240.25h10.01v1.30h-10.01zM235.90 240.25h10.01v1.30h-10.01zM235.90 247.50h10.01v1.30h-10.01zM265.78 248.75h10.01v1.30h-10.01zM275.74 251.25h10.01v1.30h-10.01zM265.78 261.25h10.01v1.30h-10.01zM275.74 268.75h10.01v1.30h-10.01zM285.70 280.45h10.01v1.30h-10.01zM186.10 296.25h10.01v1.30h-10.01zM196.06 298.75h10.01v1.30h-10.01zM206.02 308.75h10.01v1.30h-10.01zM206.02 312.50h10.01v1.30h-10.01zM196.06 313.75h10.01v1.30h-10.01zM206.02 318.00h10.01v1.30h-10.01z" fill="#e4e4e4"/>
<path d="M206.02 202.00h10.01v1.30h-10.01zM196.06 222.50h10.01v1.30h-10.01zM196.06 247.50h10.01v1.30h-10.01zM196.06 253.75h10.01v1.30h-10.01zM206.02 261.25h10.01v1.30h-10.01zM245.86 275.45h10.01v1.30h-10.01zM265.78 275.45h10.01v1.30h-10.01zM245.86 285.00h10.01v1.30h-10.01zM265.78 292.50h10.01v1.30h-10.01zM225.94 306.25h10.01v1.30h-10.01z" fill="#6c60c0"/>
<path d="M215.98 202.00h10.01v1.30h-10.01zM196.06 263.75h10.01v1.30h-10.01zM245.86 296.25h10.01v1.30h-10.01zM265.78 297.50h10.01v1.30h-10.01zM285.70 297.50h10.01v1.30h-10.01zM295.66 305.00h10.01v1.30h-10.01zM285.70 306.25h10.01v1.30h-10.01zM295.66 308.75h10.01v1.30h-10.01zM225.94 312.50h10.01v1.30h-10.01zM285.70 313.75h10.01v1.30h-10.01zM225.94 315.00h10.01v1.30h-10.01zM225.94 320.50h10.01v1.30h-10.01zM305.62 320.50h10.01v1.30h-10.01zM235.90 324.25h10.01v1.30h-10.01zM265.78 331.75h10.01v1.00h-10.01z" fill="#484eb4"/>
<path d="M225.94 202.00h10.01v1.30h-10.01zM206.02 208.75h10.01v1.30h-10.01zM206.02 210.00h10.01v1.30h-10.01zM225.94 276.70h10.01v1.30h-10.01zM215.98 279.20h10.01v1.30h-10.01zM285.70 300.00h10.01v1.30h-10.01zM295.66 312.50h10.01v1.30h-10.01zM275.74 316.25h10.01v1.80h-10.01z" fill="#5454ba"/>
<path d="M235.90 202.00h10.01v1.30h-10.01zM275.74 236.50h10.01v1.30h-10.01zM196.06 280.45h10.01v1.30h-10.01zM295.66 288.75h10.01v1.30h-10.01zM235.90 300.00h10.01v1.30h-10.01zM235.90 321.75h10.01v1.30h-10.01z" fill="#ae9cd8"/>
<path d="M265.78 202.00h10.01v1.30h-10.01zM265.78 208.75h10.01v1.30h-10.01zM265.78 210.00h10.01v1.30h-10.01zM206.02 220.00h10.01v1.30h-10.01zM196.06 225.00h10.01v1.30h-10.01zM196.06 242.75h10.01v1.30h-10.01zM196.06 260.00h10.01v1.30h-10.01zM285.70 286.25h10.01v1.30h-10.01zM215.98 287.50h10.01v1.30h-10.01zM245.86 291.25h10.01v1.30h-10.01zM295.66 297.50h10.01v1.30h-10.01zM265.78 316.25h10.01v1.80h-10.01zM305.62 316.25h10.01v1.80h-10.01zM255.82 325.50h10.01v1.30h-10.01zM285.70 329.25h10.01v1.30h-10.01z" fill="#6054c0"/>
<path d="M285.70 202.00h10.01v1.30h-10.01zM255.82 203.25h10.01v1.80h-10.01zM315.58 205.00h10.01v1.30h-10.01zM285.70 210.00h10.01v1.30h-10.01zM285.70 212.50h10.01v1.30h-10.01zM245.86 218.75h10.01v1.30h-10.01zM285.70 220.00h10.01v1.30h-10.01zM245.86 225.00h10.01v1.30h-10.01zM225.94 226.25h10.01v1.30h-10.01zM275.74 226.25h10.01v1.30h-10.01zM245.86 227.50h10.01v1.30h-10.01zM225.94 237.75h10.01v1.30h-10.01zM235.90 237.75h10.01v1.30h-10.01zM215.98 244.00h10.01v1.05h-10.01zM235.90 244.00h10.01v1.05h-10.01zM275.74 244.00h10.01v1.05h-10.01zM235.90 250.00h10.01v1.30h-10.01zM235.90 251.25h10.01v1.30h-10.01zM235.90 252.50h10.01v1.30h-10.01zM275.74 252.50h10.01v1.30h-10.01zM215.98 258.75h10.01v1.30h-10.01zM206.02 280.45h10.01v1.30h-10.01zM206.02 313.75h10.01v1.30h-10.01zM196.06 316.25h10.01v1.80h-10.01zM206.02 320.50h10.01v1.30h-10.01zM206.02 325.50h10.01v1.30h-10.01z" fill="#cccccc"/>
<path d="M315.58 202.00h10.01v1.30h-10.01zM295.66 208.75h10.01v1.30h-10.01zM245.86 215.00h10.01v1.30h-10.01zM315.58 221.25h10.01v1.30h-10.01zM245.86 222.50h10.01v1.30h-10.01zM215.98 247.50h10.01v1.30h-10.01zM225.94 251.25h10.01v1.30h-10.01zM215.98 253.75h10.01v1.30h-10.01zM235.90 253.75h10.01v1.30h-10.01zM225.94 256.25h10.01v1.30h-10.01zM255.82 260.00h10.01v1.30h-10.01zM315.58 282.95h10.01v1.30h-10.01zM186.10 303.75h10.01v1.30h-10.01zM196.06 321.75h10.01v1.30h-10.01zM196.06 331.75h10.01v1.00h-10.01z" fill="#c6c6c6"/>
<path d="M196.06 203.25h10.01v1.80h-10.01zM225.94 206.25h10.01v1.30h-10.01zM265.78 206.25h10.01v1.30h-10.01zM206.02 215.00h10.01v1.30h-10.01zM265.78 216.25h10.01v1.30h-10.01zM206.02 217.50h10.01v1.30h-10.01zM206.02 241.50h10.01v1.30h-10.01zM265.78 241.50h10.01v1.30h-10.01zM265.78 274.20h10.01v1.30h-10.01zM235.90 276.70h10.01v1.30h-10.01zM225.94 280.45h10.01v1.30h-10.01zM275.74 280.45h10.01v1.30h-10.01zM245.86 281.70h10.01v1.30h-10.01zM275.74 281.70h10.01v1.30h-10.01zM235.90 282.95h10.01v1.30h-10.01zM255.82 284.20h10.01v0.85h-10.01zM275.74 284.20h10.01v0.85h-10.01zM265.78 286.25h10.01v1.30h-10.01zM235.90 287.50h10.01v1.30h-10.01zM255.82 290.00h10.01v1.30h-10.01zM255.82 292.50h10.01v1.30h-10.01zM275.74 292.50h10.01v1.30h-10.01zM235.90 293.75h10.01v1.30h-10.01zM206.02 296.25h10.01v1.30h-10.01zM305.62 300.00h10.01v1.30h-10.01zM265.78 301.25h10.01v1.30h-10.01zM315.58 308.75h10.01v1.30h-10.01zM235.90 316.25h10.01v1.80h-10.01zM225.94 321.75h10.01v1.30h-10.01zM255.82 321.75h10.01v1.30h-10.01zM235.90 326.75h10.01v1.30h-10.01zM235.90 328.00h10.01v1.30h-10.01zM245.86 331.75h10.01v1.00h-10.01z" fill="#9684d2"/>
<path d="M225.94 203.25h10.01v1.80h-10.01zM265.78 223.75h10.01v1.30h-10.01zM225.94 281.70h10.01v1.30h-10.01zM295.66 303.75h10.01v1.30h-10.01z" fill="#8a7ecc"/>
<path d="M235.90 203.25h10.01v1.80h-10.01zM245.86 205.00h10.01v1.30h-10.01zM245.86 210.00h10.01v1.30h-10.01zM206.02 218.75h10.01v1.30h-10.01zM235.90 222.50h10.01v1.30h-10.01zM265.78 225.00h10.01v1.30h-10.01zM235.90 227.50h10.01v1.30h-10.01zM245.86 234.00h10.01v1.30h-10.01zM265.78 234.00h10.01v1.30h-10.01zM235.90 242.75h10.01v1.30h-10.01zM245.86 245.00h10.01v1.30h-10.01zM275.74 256.25h10.01v1.30h-10.01zM245.86 257.50h10.01v1.30h-10.01zM196.06 265.00h10.01v1.30h-10.01zM206.02 265.00h10.01v1.30h-10.01zM255.82 266.25h10.01v1.30h-10.01zM295.66 274.20h10.01v1.30h-10.01zM285.70 275.45h10.01v1.30h-10.01zM295.66 275.45h10.01v1.30h-10.01zM206.02 279.20h10.01v1.30h-10.01zM295.66 280.45h10.01v1.30h-10.01zM206.02 282.95h10.01v1.30h-10.01zM206.02 293.75h10.01v1.30h-10.01zM196.06 302.50h10.01v1.30h-10.01zM206.02 310.00h10.01v1.30h-10.01zM245.86 330.50h10.01v1.30h-10.01z" fill="#f0eaf6"/>
<path d="M245.86 203.25h10.01v1.80h-10.01zM275.74 203.25h10.01v1.80h-10.01zM285.70 205.00h10.01v1.30h-10.01zM285.70 206.25h10.01v1.30h-10.01zM245.86 211.25h10.01v1.30h-10.01zM245.86 228.75h10.01v1.30h-10.01zM295.66 232.50h10.01v1.55h-10.01zM275.74 240.25h10.01v1.30h-10.01zM255.82 246.25h10.01v1.30h-10.01zM215.98 248.75h10.01v1.30h-10.01zM275.74 248.75h10.01v1.30h-10.01zM215.98 256.25h10.01v1.30h-10.01zM235.90 256.25h10.01v1.30h-10.01zM225.94 263.75h10.01v1.30h-10.01zM255.82 271.25h10.01v1.30h-10.01zM275.74 272.50h10.01v0.75h-10.01zM206.02 274.20h10.01v1.30h-10.01zM305.62 274.20h10.01v1.30h-10.01zM315.58 279.20h10.01v1.30h-10.01zM186.10 292.50h10.01v1.30h-10.01zM196.06 295.00h10.01v1.30h-10.01zM206.02 323.00h10.01v1.30h-10.01z" fill="#d2d2d2"/>
<path d="M265.78 203.25h10.01v1.80h-10.01zM265.78 217.50h10.01v1.30h-10.01zM265.78 221.25h10.01v1.30h-10.01zM206.02 239.00h10.01v1.30h-10.01zM196.06 241.50h10.01v1.30h-10.01zM206.02 242.75h10.01v1.30h-10.01zM196.06 270.00h10.01v1.30h-10.01zM245.86 272.50h10.01v0.75h-10.01zM275.74 275.45h10.01v1.30h-10.01zM305.62 276.70h10.01v1.30h-10.01zM225.94 286.25h10.01v1.30h-10.01zM245.86 290.00h10.01v1.30h-10.01zM215.98 292.50h10.01v1.30h-10.01zM265.78 295.00h10.01v1.30h-10.01zM285.70 301.25h10.01v1.30h-10.01zM235.90 303.75h10.01v1.30h-10.01zM235.90 306.25h10.01v1.30h-10.01zM225.94 329.25h10.01v1.30h-10.01z" fill="#907ecc"/>
<path d="M305.62 203.25h10.01v1.80h-10.01zM305.62 205.00h10.01v1.30h-10.01zM295.66 234.00h10.01v1.30h-10.01zM305.62 239.00h10.01v1.30h-10.01zM215.98 257.50h10.01v1.30h-10.01zM285.70 263.75h10.01v1.30h-10.01z" fill="#424242"/>
<path d="M196.06 205.00h10.01v1.30h-10.01zM196.06 236.50h10.01v1.30h-10.01zM206.02 247.50h10.01v1.30h-10.01zM225.94 277.95h10.01v1.30h-10.01zM245.86 286.25h10.01v1.30h-10.01zM235.90 296.25h10.01v1.30h-10.01zM285.70 296.25h10.01v1.30h-10.01zM275.74 305.00h10.01v1.30h-10.01zM285.70 305.00h10.01v1.30h-10.01zM225.94 307.50h10.01v1.30h-10.01zM255.82 307.50h10.01v1.30h-10.01zM265.78 308.75h10.01v1.30h-10.01zM255.82 310.00h10.01v1.30h-10.01zM225.94 311.25h10.01v1.30h-10.01zM305.62 313.75h10.01v1.30h-10.01zM295.66 318.00h10.01v1.30h-10.01zM265.78 320.50h10.01v1.30h-10.01zM265.78 323.00h10.01v1.30h-10.01zM305.62 326.75h10.01v1.30h-10.01zM295.66 330.50h10.01v1.30h-10.01zM285.70 331.75h10.01v1.00h-10.01zM295.66 331.75h10.01v1.00h-10.01zM305.62 331.75h10.01v1.00h-10.01z" fill="#424eb4"/>
<path d="M235.90 205.00h10.01v1.30h-10.01zM255.82 215.00h10.01v1.30h-10.01zM255.82 218.75h10.01v1.30h-10.01zM225.94 221.25h10.01v1.30h-10.01zM245.86 237.75h10.01v1.30h-10.01zM255.82 241.50h10.01v1.30h-10.01zM225.94 244.00h10.01v1.05h-10.01zM245.86 260.00h10.01v1.30h-10.01zM255.82 261.25h10.01v1.30h-10.01zM275.74 267.50h10.01v1.30h-10.01zM206.02 270.00h10.01v1.30h-10.01zM285.70 276.70h10.01v1.30h-10.01zM285.70 284.20h10.01v0.85h-10.01zM186.10 288.75h10.01v1.30h-10.01zM206.02 298.75h10.01v1.30h-10.01zM206.02 303.75h10.01v1.30h-10.01z" fill="#fcfcfc"/>
<path d="M275.74 205.00h10.01v1.30h-10.01zM225.94 232.50h10.01v1.55h-10.01zM275.74 239.00h10.01v1.30h-10.01zM265.78 244.00h10.01v1.05h-10.01zM245.86 268.75h10.01v1.30h-10.01zM206.02 277.95h10.01v1.30h-10.01zM206.02 285.00h10.01v1.30h-10.01zM206.02 288.75h10.01v1.30h-10.01zM235.90 292.50h10.01v1.30h-10.01zM206.02 311.25h10.01v1.30h-10.01z" fill="#eaeaf6"/>
<path d="M315.58 206.25h10.01v1.30h-10.01zM245.86 207.50h10.01v1.30h-10.01zM285.70 213.75h10.01v1.30h-10.01zM265.78 215.00h10.01v1.30h-10.01zM275.74 216.25h10.01v1.30h-10.01zM245.86 217.50h10.01v1.30h-10.01zM275.74 225.00h10.01v1.30h-10.01zM255.82 227.50h10.01v1.30h-10.01zM245.86 230.00h10.01v1.30h-10.01zM255.82 237.75h10.01v1.30h-10.01zM215.98 239.00h10.01v1.30h-10.01zM225.94 239.00h10.01v1.30h-10.01zM235.90 241.50h10.01v1.30h-10.01zM275.74 242.75h10.01v1.30h-10.01zM255.82 244.00h10.01v1.05h-10.01zM215.98 245.00h10.01v1.30h-10.01zM225.94 245.00h10.01v1.30h-10.01zM255.82 250.00h10.01v1.30h-10.01zM255.82 252.50h10.01v1.30h-10.01zM265.78 258.75h10.01v1.30h-10.01zM265.78 262.50h10.01v1.30h-10.01zM315.58 275.45h10.01v1.30h-10.01zM285.70 282.95h10.01v1.30h-10.01zM206.02 300.00h10.01v1.30h-10.01zM196.06 303.75h10.01v1.30h-10.01z" fill="#dedede"/>
<path d="M225.94 207.50h10.01v1.30h-10.01zM275.74 213.75h10.01v1.30h-10.01zM235.90 215.00h10.01v1.30h-10.01zM225.94 222.50h10.01v1.30h-10.01zM265.78 251.25h10.01v1.30h-10.01zM265.78 265.00h10.01v1.30h-10.01zM275.74 266.25h10.01v1.30h-10.01zM196.06 268.75h10.01v1.30h-10.01zM315.58 302.50h10.01v1.30h-10.01zM245.86 308.75h10.01v1.30h-10.01zM245.86 328.00h10.01v1.30h-10.01z" fill="#d2ccea"/>
<path d="M285.70 207.50h10.01v1.30h-10.01zM285.70 218.75h10.01v1.30h-10.01zM285.70 225.00h10.01v1.30h-10.01zM285.70 231.25h10.01v1.30h-10.01zM285.70 242.75h10.01v1.30h-10.01zM225.94 248.75h10.01v1.30h-10.01zM275.74 255.00h10.01v1.30h-10.01zM285.70 266.25h10.01v1.30h-10.01zM206.02 319.25h10.01v1.30h-10.01z" fill="#aeaeae"/>
<path d="M295.66 207.50h10.01v1.30h-10.01zM295.66 218.75h10.01v1.30h-10.01zM305.62 235.25h10.01v1.30h-10.01zM295.66 248.75h10.01v1.30h-10.01zM285.70 250.00h10.01v1.30h-10.01zM305.62 255.00h10.01v1.30h-10.01zM285.70 262.50h10.01v1.30h-10.01zM305.62 265.00h10.01v1.30h-10.01zM295.66 268.75h10.01v1.30h-10.01zM295.66 270.00h10.01v1.30h-10.01zM215.98 271.25h10.01v1.30h-10.01zM305.62 272.50h10.01v0.75h-10.01z" fill="#242424"/>
<path d="M305.62 207.50h10.01v1.30h-10.01zM305.62 217.50h10.01v1.30h-10.01zM305.62 228.75h10.01v1.30h-10.01zM315.58 230.00h10.01v1.30h-10.01zM295.66 231.25h10.01v1.30h-10.01zM305.62 232.50h10.01v1.55h-10.01zM315.58 250.00h10.01v1.30h-10.01zM235.90 257.50h10.01v1.30h-10.01zM235.90 262.50h10.01v1.30h-10.01z" fill="#5a5a5a"/>
<path d="M235.90 208.75h10.01v1.30h-10.01zM196.06 211.25h10.01v1.30h-10.01zM206.02 212.50h10.01v1.30h-10.01zM206.02 221.25h10.01v1.30h-10.01zM206.02 222.50h10.01v1.30h-10.01zM206.02 240.25h10.01v1.30h-10.01zM196.06 244.00h10.01v1.05h-10.01zM196.06 248.75h10.01v1.30h-10.01zM206.02 260.00h10.01v1.30h-10.01zM196.06 262.50h10.01v1.30h-10.01zM245.86 267.50h10.01v1.30h-10.01zM245.86 274.20h10.01v1.30h-10.01zM275.74 276.70h10.01v1.30h-10.01zM255.82 285.00h10.01v1.30h-10.01zM305.62 290.00h10.01v1.30h-10.01zM295.66 291.25h10.01v1.30h-10.01zM255.82 293.75h10.01v1.30h-10.01zM295.66 293.75h10.01v1.30h-10.01zM245.86 307.50h10.01v1.30h-10.01zM245.86 311.25h10.01v1.30h-10.01zM235.90 313.75h10.01v1.30h-10.01zM315.58 331.75h10.01v1.00h-10.01z" fill="#8472cc"/>
<path d="M305.62 208.75h10.01v1.30h-10.01zM305.62 223.75h10.01v1.30h-10.01zM285.70 235.25h10.01v1.30h-10.01zM235.90 245.00h10.01v1.30h-10.01zM225.94 246.25h10.01v1.30h-10.01zM275.74 260.00h10.01v1.30h-10.01zM275.74 261.25h10.01v1.30h-10.01zM225.94 262.50h10.01v1.30h-10.01zM315.58 274.20h10.01v1.30h-10.01zM186.10 290.00h10.01v1.30h-10.01zM186.10 310.00h10.01v1.30h-10.01zM186.10 312.50h10.01v1.30h-10.01zM186.10 331.75h10.01v1.00h-10.01zM206.02 331.75h10.01v1.00h-10.01z" fill="#a2a2a2"/>
<path d="M225.94 210.00h10.01v1.30h-10.01zM215.98 217.50h10.01v1.30h-10.01zM255.82 217.50h10.01v1.30h-10.01zM235.90 225.00h10.01v1.30h-10.01zM245.86 248.75h10.01v1.30h-10.01zM215.98 290.00h10.01v1.30h-10.01zM196.06 301.25h10.01v1.30h-10.01zM245.86 321.75h10.01v1.30h-10.01zM245.86 325.50h10.01v1.30h-10.01z" fill="#d2c6ea"/>
<path d="M235.90 210.00h10.01v1.30h-10.01zM265.78 232.50h10.01v1.55h-10.01zM265.78 236.50h10.01v1.30h-10.01zM245.86 262.50h10.01v1.30h-10.01zM225.94 302.50h10.01v1.30h-10.01z" fill="#a296d8"/>
<path d="M295.66 210.00h10.01v1.30h-10.01zM315.58 211.25h10.01v1.30h-10.01zM225.94 250.00h10.01v1.30h-10.01zM215.98 260.00h10.01v1.30h-10.01zM215.98 261.25h10.01v1.30h-10.01zM235.90 261.25h10.01v1.30h-10.01zM215.98 262.50h10.01v1.30h-10.01zM235.90 267.50h10.01v1.30h-10.01zM285.70 272.50h10.01v0.75h-10.01z" fill="#848484"/>
<path d="M225.94 211.25h10.01v1.30h-10.01zM265.78 230.00h10.01v1.30h-10.01zM245.86 255.00h10.01v1.30h-10.01zM255.82 258.75h10.01v1.30h-10.01zM255.82 263.75h10.01v1.30h-10.01zM255.82 268.75h10.01v1.30h-10.01zM265.78 268.75h10.01v1.30h-10.01zM255.82 281.70h10.01v1.30h-10.01zM206.02 287.50h10.01v1.30h-10.01z" fill="#c6bae4"/>
<path d="M275.74 211.25h10.01v1.30h-10.01zM275.74 215.00h10.01v1.30h-10.01zM275.74 228.75h10.01v1.30h-10.01zM285.70 228.75h10.01v1.30h-10.01zM255.82 253.75h10.01v1.30h-10.01zM275.74 253.75h10.01v1.30h-10.01zM265.78 260.00h10.01v1.30h-10.01zM255.82 262.50h10.01v1.30h-10.01zM206.02 271.25h10.01v1.30h-10.01zM206.02 284.20h10.01v0.85h-10.01zM206.02 307.50h10.01v1.30h-10.01zM196.06 319.25h10.01v1.30h-10.01zM196.06 330.50h10.01v1.30h-10.01z" fill="#d8d8d8"/>
<path d="M285.70 211.25h10.01v1.30h-10.01zM315.58 216.25h10.01v1.30h-10.01zM285.70 217.50h10.01v1.30h-10.01zM275.74 250.00h10.01v1.30h-10.01zM235.90 260.00h10.01v1.30h-10.01zM285.70 267.50h10.01v1.30h-10.01zM186.10 307.50h10.01v1.30h-10.01zM186.10 320.50h10.01v1.30h-10.01z" fill="#a8a8a8"/>
<path d="M305.62 211.25h10.01v1.30h-10.01zM285.70 257.50h10.01v1.30h-10.01z" fill="#181818"/>
<path d="M255.82 212.50h10.01v1.30h-10.01zM265.78 256.25h10.01v1.30h-10.01zM196.06 267.50h10.01v1.30h-10.01zM275.74 274.20h10.01v1.30h-10.01zM255.82 276.70h10.01v1.30h-10.01zM255.82 279.20h10.01v1.30h-10.01z" fill="#baa8de"/>
<path d="M295.66 212.50h10.01v1.30h-10.01zM305.62 231.25h10.01v1.30h-10.01zM315.58 234.00h10.01v1.30h-10.01zM315.58 240.25h10.01v1.30h-10.01zM295.66 241.50h10.01v1.30h-10.01zM315.58 244.00h10.01v1.05h-10.01zM305.62 256.25h10.01v1.30h-10.01zM285.70 258.75h10.01v1.30h-10.01zM215.98 266.25h10.01v1.30h-10.01z" fill="#484848"/>
<path d="M215.98 213.75h10.01v1.30h-10.01zM255.82 232.50h10.01v1.55h-10.01z" fill="#aea2de"/>
<path d="M235.90 213.75h10.01v1.30h-10.01zM255.82 216.25h10.01v1.30h-10.01zM285.70 223.75h10.01v1.30h-10.01zM206.02 268.75h10.01v1.30h-10.01zM265.78 272.50h10.01v0.75h-10.01zM245.86 280.45h10.01v1.30h-10.01zM255.82 280.45h10.01v1.30h-10.01zM196.06 282.95h10.01v1.30h-10.01zM235.90 288.75h10.01v1.30h-10.01z" fill="#e4def0"/>
<path d="M255.82 213.75h10.01v1.30h-10.01zM215.98 220.00h10.01v1.30h-10.01zM255.82 235.25h10.01v1.30h-10.01zM255.82 256.25h10.01v1.30h-10.01zM196.06 286.25h10.01v1.30h-10.01z" fill="#ccc6ea"/>
<path d="M196.06 215.00h10.01v1.30h-10.01z" fill="#968ad2"/>
<path d="M295.66 215.00h10.01v1.30h-10.01zM305.62 220.00h10.01v1.30h-10.01zM285.70 245.00h10.01v1.30h-10.01zM315.58 245.00h10.01v1.30h-10.01zM285.70 251.25h10.01v1.30h-10.01zM285.70 253.75h10.01v1.30h-10.01zM215.98 267.50h10.01v1.30h-10.01zM235.90 271.25h10.01v1.30h-10.01z" fill="#3c3c3c"/>
<path d="M305.62 215.00h10.01v1.30h-10.01zM305.62 227.50h10.01v1.30h-10.01zM305.62 234.00h10.01v1.30h-10.01zM295.66 239.00h10.01v1.30h-10.01zM295.66 242.75h10.01v1.30h-10.01zM295.66 245.00h10.01v1.30h-10.01zM315.58 258.75h10.01v1.30h-10.01zM285.70 260.00h10.01v1.30h-10.01zM315.58 260.00h10.01v1.30h-10.01zM215.98 268.75h10.01v1.30h-10.01z" fill="#2a2a2a"/>
<path d="M196.06 216.25h10.01v1.30h-10.01zM206.02 232.50h10.01v1.55h-10.01zM206.02 255.00h10.01v1.30h-10.01zM196.06 261.25h10.01v1.30h-10.01zM186.10 284.20h10.01v0.85h-10.01zM245.86 284.20h10.01v0.85h-10.01zM305.62 285.00h10.01v1.30h-10.01zM305.62 293.75h10.01v1.30h-10.01zM265.78 303.75h10.01v1.30h-10.01zM305.62 303.75h10.01v1.30h-10.01zM245.86 305.00h10.01v1.30h-10.01zM315.58 312.50h10.01v1.30h-10.01zM305.62 321.75h10.01v1.30h-10.01zM225.94 326.75h10.01v1.30h-10.01zM225.94 328.00h10.01v1.30h-10.01z" fill="#7e6cc6"/>
<path d="M225.94 216.25h10.01v1.30h-10.01zM225.94 223.75h10.01v1.30h-10.01zM265.78 247.50h10.01v1.30h-10.01zM186.10 280.45h10.01v1.30h-10.01zM235.90 301.25h10.01v1.30h-10.01z" fill="#ccc0e4"/>
<path d="M295.66 216.25h10.01v1.30h-10.01zM295.66 225.00h10.01v1.30h-10.01zM315.58 247.50h10.01v1.30h-10.01zM315.58 253.75h10.01v1.30h-10.01zM225.94 267.50h10.01v1.30h-10.01z" fill="#606060"/>
<path d="M305.62 218.75h10.01v1.30h-10.01zM285.70 246.25h10.01v1.30h-10.01zM305.62 248.75h10.01v1.30h-10.01zM305.62 251.25h10.01v1.30h-10.01zM305.62 253.75h10.01v1.30h-10.01zM295.66 263.75h10.01v1.30h-10.01zM235.90 265.00h10.01v1.30h-10.01zM295.66 265.00h10.01v1.30h-10.01zM305.62 266.25h10.01v1.30h-10.01zM305.62 270.00h10.01v1.30h-10.01z" fill="#1e1e1e"/>
<path d="M235.90 220.00h10.01v1.30h-10.01zM265.78 239.00h10.01v1.30h-10.01zM245.86 246.25h10.01v1.30h-10.01zM225.94 274.20h10.01v1.30h-10.01zM206.02 297.50h10.01v1.30h-10.01zM315.58 316.25h10.01v1.80h-10.01z" fill="#d8ccea"/>
<path d="M245.86 220.00h10.01v1.30h-10.01zM265.78 242.75h10.01v1.30h-10.01zM196.06 281.70h10.01v1.30h-10.01zM315.58 286.25h10.01v1.30h-10.01zM225.94 292.50h10.01v1.30h-10.01zM315.58 295.00h10.01v1.30h-10.01zM225.94 303.75h10.01v1.30h-10.01z" fill="#d8d2f0"/>
<path d="M255.82 221.25h10.01v1.30h-10.01z" fill="#eadef6"/>
<path d="M265.78 222.50h10.01v1.30h-10.01zM225.94 291.25h10.01v1.30h-10.01zM245.86 310.00h10.01v1.30h-10.01zM245.86 315.00h10.01v1.30h-10.01zM235.90 325.50h10.01v1.30h-10.01z" fill="#aea2d8"/>
<path d="M305.62 225.00h10.01v1.30h-10.01zM315.58 225.00h10.01v1.30h-10.01zM295.66 228.75h10.01v1.30h-10.01zM305.62 230.00h10.01v1.30h-10.01zM295.66 235.25h10.01v1.30h-10.01zM295.66 240.25h10.01v1.30h-10.01zM305.62 245.00h10.01v1.30h-10.01zM285.70 252.50h10.01v1.30h-10.01zM225.94 268.75h10.01v1.30h-10.01z" fill="#4e4e4e"/>
<path d="M305.62 226.25h10.01v1.30h-10.01zM285.70 248.75h10.01v1.30h-10.01zM295.66 251.25h10.01v1.30h-10.01zM315.58 261.25h10.01v1.30h-10.01zM315.58 262.50h10.01v1.30h-10.01z" fill="#0c0c0c"/>
<path d="M315.58 226.25h10.01v1.30h-10.01zM315.58 241.50h10.01v1.30h-10.01zM295.66 247.50h10.01v1.30h-10.01zM285.70 261.25h10.01v1.30h-10.01zM215.98 270.00h10.01v1.30h-10.01zM285.70 271.25h10.01v1.30h-10.01zM186.10 329.25h10.01v1.30h-10.01z" fill="#545454"/>
<path d="M206.02 227.50h10.01v1.30h-10.01zM265.78 228.75h10.01v1.30h-10.01zM255.82 242.75h10.01v1.30h-10.01zM315.58 291.25h10.01v1.30h-10.01zM196.06 292.50h10.01v1.30h-10.01zM245.86 323.00h10.01v1.30h-10.01z" fill="#b4a8de"/>
<path d="M206.02 230.00h10.01v1.30h-10.01zM265.78 240.25h10.01v1.30h-10.01zM186.10 282.95h10.01v1.30h-10.01zM315.58 285.00h10.01v1.30h-10.01zM315.58 297.50h10.01v1.30h-10.01z" fill="#a290d8"/>
<path d="M215.98 230.00h10.01v1.30h-10.01zM245.86 232.50h10.01v1.55h-10.01zM206.02 291.25h10.01v1.30h-10.01zM315.58 292.50h10.01v1.30h-10.01zM215.98 295.00h10.01v1.30h-10.01zM196.06 326.75h10.01v1.30h-10.01z" fill="#ccc0ea"/>
<path d="M245.86 235.25h10.01v1.30h-10.01zM196.06 310.00h10.01v1.30h-10.01z" fill="#d8d2ea"/>
<path d="M265.78 235.25h10.01v1.30h-10.01zM206.02 236.50h10.01v1.30h-10.01zM295.66 286.25h10.01v1.30h-10.01zM315.58 329.25h10.01v1.30h-10.01z" fill="#c0aee4"/>
<path d="M295.66 237.75h10.01v1.30h-10.01zM305.62 237.75h10.01v1.30h-10.01zM305.62 244.00h10.01v1.05h-10.01zM315.58 252.50h10.01v1.30h-10.01zM295.66 257.50h10.01v1.30h-10.01zM305.62 261.25h10.01v1.30h-10.01zM315.58 265.00h10.01v1.30h-10.01zM295.66 266.25h10.01v1.30h-10.01zM215.98 272.50h10.01v0.75h-10.01z" fill="#121212"/>
<path d="M196.06 239.00h10.01v1.30h-10.01zM235.90 281.70h10.01v1.30h-10.01zM235.90 286.25h10.01v1.30h-10.01zM245.86 318.00h10.01v1.30h-10.01zM255.82 331.75h10.01v1.00h-10.01z" fill="#8472c6"/>
<path d="M295.66 246.25h10.01v1.30h-10.01zM305.62 246.25h10.01v1.30h-10.01zM315.58 246.25h10.01v1.30h-10.01zM295.66 250.00h10.01v1.30h-10.01zM295.66 252.50h10.01v1.30h-10.01zM305.62 252.50h10.01v1.30h-10.01zM295.66 253.75h10.01v1.30h-10.01zM295.66 255.00h10.01v1.30h-10.01zM305.62 257.50h10.01v1.30h-10.01zM315.58 257.50h10.01v1.30h-10.01zM295.66 258.75h10.01v1.30h-10.01zM305.62 258.75h10.01v1.30h-10.01zM295.66 260.00h10.01v1.30h-10.01zM305.62 260.00h10.01v1.30h-10.01zM295.66 261.25h10.01v1.30h-10.01zM295.66 262.50h10.01v1.30h-10.01zM305.62 262.50h10.01v1.30h-10.01zM305.62 263.75h10.01v1.30h-10.01zM315.58 266.25h10.01v1.30h-10.01zM305.62 267.50h10.01v1.30h-10.01zM315.58 267.50h10.01v1.30h-10.01zM315.58 268.75h10.01v1.30h-10.01zM315.58 270.00h10.01v1.30h-10.01zM225.94 271.25h10.01v1.30h-10.01zM295.66 271.25h10.01v1.30h-10.01zM305.62 271.25h10.01v1.30h-10.01zM315.58 271.25h10.01v1.30h-10.01zM315.58 272.50h10.01v0.75h-10.01z" fill="#060606"/>
<path d="M206.02 262.50h10.01v1.30h-10.01zM215.98 280.45h10.01v1.30h-10.01zM215.98 298.75h10.01v1.30h-10.01z" fill="#9084d2"/>
<path d="M186.10 274.20h10.01v1.30h-10.01zM215.98 301.25h10.01v1.30h-10.01z" fill="#e4d8f0"/>
<path d="M235.90 280.45h10.01v1.30h-10.01zM196.06 307.50h10.01v1.30h-10.01z" fill="#ded2f0"/>
<path d="M225.94 282.95h10.01v1.30h-10.01zM215.98 286.25h10.01v1.30h-10.01zM235.90 290.00h10.01v1.30h-10.01zM275.74 295.00h10.01v1.30h-10.01z" fill="#8478cc"/>
<path d="M305.62 291.25h10.01v1.30h-10.01z" fill="#c0aede"/>
<path d="M225.94 293.75h10.01v1.30h-10.01z" fill="#9c90d2"/>
<path d="M255.82 295.00h10.01v1.30h-10.01zM215.98 300.00h10.01v1.30h-10.01zM215.98 303.75h10.01v1.30h-10.01z" fill="#a89cd8"/>
<defs><linearGradient id="cb" x1="0" y1="0" x2="0" y2="1"><stop offset="0.000" stop-color="#060606"/><stop offset="0.160" stop-color="#3c3c3c"/><stop offset="0.300" stop-color="#8a8a8a"/><stop offset="0.460" stop-color="#cccccc"/><stop offset="0.580" stop-color="#fcfcfc"/><stop offset="0.640" stop-color="#eae4f6"/><stop offset="0.740" stop-color="#a290d2"/><stop offset="0.880" stop-color="#6654c0"/><stop offset="1.000" stop-color="#3c4eb4"/></linearGradient></defs>
<rect x="170.90" y="237.30" width="7.90" height="35.10" fill="url(#cb)" stroke="#231f20" stroke-width="0.6"/>
<text x="174.60" y="234.40" font-size="7.0" fill="#231f20" text-anchor="middle" textLength="10.0" lengthAdjust="spacingAndGlyphs">0.3</text>
<text x="179.80" y="279.80" font-size="7.0" fill="#231f20" text-anchor="end" textLength="13.6" lengthAdjust="spacingAndGlyphs">−0.2</text>
<text x="161.00" y="283.80" font-size="8.6" fill="#231f20" textLength="64.2" lengthAdjust="spacingAndGlyphs" transform="rotate(-90 161.00 283.80)">Pearson correlation</text>
<path d="M183.6,194.6 H181.9 V332.4 H183.6" fill="none" stroke="#555" stroke-width="0.6"/>
<line x1="176.20" y1="339.20" x2="176.20" y2="313.76" stroke="#231f20" stroke-width="0.9"/>
<path d="M176.20,310.40 L178.51,314.60 L173.89,314.60Z" fill="#231f20"/>
<line x1="176.20" y1="339.20" x2="202.04" y2="339.20" stroke="#231f20" stroke-width="0.9"/>
<path d="M205.40,339.20 L201.20,341.51 L201.20,336.89Z" fill="#231f20"/>
<text x="171.30" y="338.40" font-size="8.4" fill="#231f20" textLength="22.6" lengthAdjust="spacingAndGlyphs" transform="rotate(-90 171.30 338.40)">Genes</text>
<text x="207.70" y="342.50" font-size="8.8" fill="#231f20" textLength="31.2" lengthAdjust="spacingAndGlyphs">Features</text>
<path d="M186.1,194.3 V173.8 H214.6 V194.3" fill="none" stroke="#c7c8ca" stroke-width="0.8"/>
<path d="M216.3,194.3 V173.8 H284.6 V194.3" fill="none" stroke="#c7c8ca" stroke-width="0.8"/>
<path d="M286.3,194.3 V173.8 H325.4 V194.3" fill="none" stroke="#c7c8ca" stroke-width="0.8"/>
<path d="M198.3,186.6 V175.1 H278.6 V183.6" fill="none" stroke="#111" stroke-width="0.9"/>
<path d="M190.6,194.5 V186.6 H206.2 V190.5" fill="none" stroke="#111" stroke-width="0.9"/>
<path d="M201.1,194.5 V190.5 H211.0 V194.5" fill="none" stroke="#111" stroke-width="0.9"/>
<path d="M246.5,183.6 H310.6 V190.1" fill="none" stroke="#111" stroke-width="0.9"/>
<path d="M291.5,194.5 V190.1 H321.5 V194.5" fill="none" stroke="#111" stroke-width="0.9"/>
<path d="M306.3,190.1 V192.9" fill="none" stroke="#111" stroke-width="0.9"/>
<path d="M301.2,194.5 V192.9 H311.4 V194.5" fill="none" stroke="#111" stroke-width="0.9"/>
<path d="M242.8,183.6 V186.3" fill="none" stroke="#111" stroke-width="0.9"/>
<path d="M234.0,186.3 H251.7 V194.5" fill="none" stroke="#111" stroke-width="0.9"/>
<path d="M234.0,186.3 V190.9" fill="none" stroke="#111" stroke-width="0.9"/>
<path d="M227.2,190.9 H241.0 V194.5" fill="none" stroke="#111" stroke-width="0.9"/>
<path d="M221.2,194.5 V191.9 H231.2 V194.5" fill="none" stroke="#111" stroke-width="0.9"/>
<path d="M251.7,187.1 H268.8 V189.2" fill="none" stroke="#111" stroke-width="0.9"/>
<path d="M261.2,194.5 V189.2 H276.3 V190.9" fill="none" stroke="#111" stroke-width="0.9"/>
<path d="M271.2,194.5 V190.9 H281.2 V194.5" fill="none" stroke="#111" stroke-width="0.9"/>
<path d="M326.2,194.9 H358.4 V332.4 H326.2" fill="none" stroke="#c7c8ca" stroke-width="0.8"/>
<rect x="326.20" y="264.40" width="32.00" height="1.60" fill="#d5d6d8"/>
<rect x="326.20" y="278.30" width="32.00" height="1.60" fill="#d5d6d8"/>
<path d="M326.9 195.74H332.79M326.9 197.32H331.32M326.9 198.80H330.60M326.9 199.96H330.34M330.60 198.80H332.16V199.96H330.34M331.32 197.32H333.71V199.38H332.16M332.79 195.74H334.93V198.35H333.71M326.9 201.21H334.01M326.9 202.81H331.65M326.9 204.29H331.76M331.65 202.81H333.64V204.29H331.76M334.01 201.21H335.82V203.55H333.64M334.93 197.04H336.73V202.38H335.82M326.9 206.08H334.15M326.9 207.85H330.86M326.9 209.31H330.60M330.86 207.85H332.81V209.31H330.60M334.15 206.08H334.99V208.58H332.81M326.9 210.54H328.18M326.9 211.77H329.02M328.18 210.54H330.52V211.77H329.02M326.9 213.19H330.46M330.52 211.15H331.48V213.19H330.46M326.9 214.49H329.41M326.9 215.65H329.08M329.41 214.49H330.69V215.65H329.08M331.48 212.17H332.99V215.07H330.69M326.9 217.16H332.47M326.9 218.77H329.85M326.9 219.95H330.20M329.85 218.77H332.09V219.95H330.20M332.47 217.16H333.83V219.36H332.09M332.99 213.62H335.26V218.26H333.83M334.99 207.33H337.01V215.94H335.26M336.73 199.71H338.40V211.63H337.01M326.9 221.34H327.93M326.9 223.03H327.93M327.93 221.34V223.03M326.9 224.83H327.80M326.9 226.33H327.80M327.80 224.83H328.28V226.33H327.80M327.93 222.18H329.18V225.58H328.28M326.9 227.61H328.19M326.9 230.62H328.19M328.19 227.61V230.62M329.18 223.88H330.32V229.12H328.19M326.9 232.01H327.80M326.9 233.56H327.80M327.80 232.01H329.40V233.56H327.80M326.9 235.40H329.82M329.40 232.78H330.86V235.40H329.82M330.32 226.50H332.57V234.09H330.86M326.9 237.47H328.34M326.9 239.38H327.80M328.34 237.47H329.67V239.38H327.80M326.9 240.77H328.05M326.9 241.97H328.05M328.05 240.77V241.97M326.9 243.39H327.80M326.9 245.03H327.80M327.80 243.39V245.03M328.05 241.37H328.97V244.21H327.80M326.9 246.48H328.18M326.9 247.74H328.18M328.18 246.48V247.74M328.97 242.79H330.58V247.11H328.18M329.67 238.42H331.45V244.95H330.58M332.57 230.29H333.63V241.69H331.45M326.9 249.12H329.95M326.9 250.28H328.91M329.95 249.12H331.25V250.28H328.91M326.9 251.66H331.43M331.25 249.70H332.30V251.66H331.43M326.9 253.45H327.80M326.9 255.02H327.80M327.80 253.45H328.73V255.02H327.80M326.9 256.53H327.80M326.9 258.05H327.80M327.80 256.53H328.80V258.05H327.80M328.73 254.24H330.56V257.29H328.80M326.9 259.43H329.14M326.9 261.03H328.06M329.14 259.43H330.43V261.03H328.06M330.56 255.76H331.96V260.23H330.43M332.30 250.68H333.41V258.00H331.96M333.63 235.99H335.80V254.34H333.41M340.30 205.67V245.16M338.40 205.67H340.30M335.80 245.16H340.30M326.9 262.74H335.08M326.9 264.09H336.00M335.08 262.74H336.89V264.09H336.00M326.9 265.55H336.24M326.9 267.10H335.90M336.24 265.55H337.79V267.10H335.90M336.89 263.41H338.62V266.33H337.79M326.9 268.18H336.65M326.9 269.41H335.67M336.65 268.18H337.55V269.41H335.67M326.9 271.34H336.30M326.9 272.91H335.97M336.30 271.34H337.50V272.91H335.97M337.55 268.80H339.48V272.12H337.50M338.62 264.87H340.30V270.46H339.48M346.40 225.42V267.67M340.30 225.42H346.40M340.30 267.67H346.40M326.9 274.44H331.89M326.9 275.92H329.55M326.9 277.35H329.29M329.55 275.92H331.26V277.35H329.29M331.89 274.44H333.30V276.63H331.26M326.9 278.89H330.68M326.9 280.30H330.28M330.68 278.89H331.78V280.30H330.28M326.9 282.27H329.89M326.9 284.19H329.53M329.89 282.27H330.85V284.19H329.53M331.78 279.60H332.93V283.23H330.85M333.30 275.53H334.69V281.41H332.93M326.9 285.78H329.20M326.9 287.17H329.89M329.20 285.78H331.41V287.17H329.89M326.9 288.56H331.15M331.41 286.48H332.48V288.56H331.15M326.9 290.44H332.12M326.9 292.19H329.38M326.9 293.92H329.33M329.38 292.19H331.47V293.92H329.33M332.12 290.44H333.12V293.06H331.47M332.48 287.52H334.62V291.75H333.12M334.69 278.47H336.00V289.63H334.62M326.9 295.62H331.90M326.9 296.71H329.74M326.9 297.86H329.63M329.74 296.71H331.09V297.86H329.63M331.90 295.62H333.16V297.28H331.09M326.9 299.19H332.45M326.9 300.60H331.63M332.45 299.19H333.90V300.60H331.63M333.16 296.45H335.25V299.90H333.90M326.9 302.20H328.94M326.9 303.46H330.07M328.94 302.20H331.22V303.46H330.07M326.9 304.54H332.11M331.22 302.83H333.60V304.54H332.11M326.9 306.24H328.70M326.9 308.27H328.61M328.70 306.24H329.96V308.27H328.61M326.9 309.80H329.33M326.9 311.17H328.50M329.33 309.80H330.24V311.17H328.50M329.96 307.26H332.10V310.49H330.24M333.60 303.69H334.41V308.87H332.10M335.25 298.17H336.50V306.28H334.41M339.80 284.05V302.23M336.00 284.05H339.80M336.50 302.23H339.80M326.9 312.56H328.16M326.9 313.66H327.80M326.9 314.94H327.80M327.80 313.66H329.08V314.94H327.80M328.16 312.56H330.15V314.30H329.08M326.9 316.64H330.67M330.15 313.43H332.39V316.64H330.67M326.9 318.26H329.72M326.9 319.70H330.25M329.72 318.26H332.03V319.70H330.25M332.39 315.04H334.30V318.98H332.03M326.9 320.95H330.62M326.9 322.23H330.17M330.62 320.95H332.27V322.23H330.17M326.9 323.51H330.89M326.9 324.84H330.69M330.89 323.51H332.96V324.84H330.69M332.27 321.59H334.32V324.17H332.96M326.9 326.15H327.82M326.9 327.30H327.80M327.82 326.15H329.05V327.30H327.80M326.9 328.92H330.35M329.05 326.72H331.23V328.92H330.35M326.9 330.46H330.98M326.9 331.73H330.49M330.98 330.46H332.54V331.73H330.49M331.23 327.82H333.35V331.09H332.54M334.32 322.88H335.53V329.46H333.35M334.30 317.01H336.40V326.17H335.53M343.70 293.14V321.59M339.80 293.14H343.70M336.40 321.59H343.70M357.30 246.54V307.36M346.40 246.54H357.30M343.70 307.36H357.30" fill="none" stroke="#000" stroke-width="0.95"/>
<line x1="391.40" y1="159.20" x2="391.40" y2="207.80" stroke="#231f20" stroke-width="0.9"/>
<line x1="391.40" y1="207.80" x2="424.90" y2="207.80" stroke="#231f20" stroke-width="0.9"/>
<line x1="389.20" y1="195.40" x2="391.40" y2="195.40" stroke="#231f20" stroke-width="0.8"/>
<text x="388.40" y="198.10" font-size="7.6" fill="#231f20" text-anchor="end" textLength="4.3" lengthAdjust="spacingAndGlyphs">2</text>
<line x1="389.20" y1="184.20" x2="391.40" y2="184.20" stroke="#231f20" stroke-width="0.8"/>
<text x="388.40" y="186.90" font-size="7.6" fill="#231f20" text-anchor="end" textLength="4.3" lengthAdjust="spacingAndGlyphs">4</text>
<line x1="389.20" y1="173.00" x2="391.40" y2="173.00" stroke="#231f20" stroke-width="0.8"/>
<text x="388.40" y="175.70" font-size="7.6" fill="#231f20" text-anchor="end" textLength="4.3" lengthAdjust="spacingAndGlyphs">6</text>
<line x1="389.20" y1="161.80" x2="391.40" y2="161.80" stroke="#231f20" stroke-width="0.8"/>
<text x="388.40" y="164.50" font-size="7.6" fill="#231f20" text-anchor="end" textLength="4.3" lengthAdjust="spacingAndGlyphs">8</text>
<line x1="389.20" y1="206.60" x2="391.40" y2="206.60" stroke="#231f20" stroke-width="0.8"/>
<text x="407.90" y="158.00" font-size="8.6" fill="#231f20" text-anchor="middle">Icam1</text>
<rect x="394.10" y="182.52" width="7.40" height="15.68" fill="#d1d2d3"/>
<line x1="397.80" y1="171.88" x2="397.80" y2="206.60" stroke="#555" stroke-width="0.5"/>
<path d="M399.4 181.8h0M397.1 178h0M398.8 199.5h0M398.8 201.1h0M400 184.6h0M400.4 175.1h0M397.3 184.3h0M400.5 205.4h0M400.4 199.1h0M398.3 187.7h0M399.9 180.5h0M397.7 187.1h0M397.1 192.5h0M396.4 190.4h0M399.9 185.9h0M395.9 198.6h0M395.4 187.1h0M399.5 185.2h0M399.3 175.7h0M397.7 187.7h0M399.7 180.4h0M395.3 203.1h0M396.4 181.1h0M396.6 185.9h0M397.3 195.3h0M396 187.2h0M395.4 180.8h0M396.9 191.9h0M400 180h0M400.5 176.5h0M399.2 175.8h0M397.7 175.9h0M396.4 184.7h0M400.4 197.5h0M397.9 180.5h0M399.1 186.5h0M395.2 185.5h0M396.2 183.8h0M399.7 196.1h0M399.5 186.4h0M399.9 198.1h0M398.4 172.6h0M397.4 194h0M398.3 186.9h0M399.8 200h0M396.7 181.5h0M398 181.7h0M396.5 185.1h0M399.3 196.9h0M395.1 174.2h0M398.8 203h0M400.3 200.3h0M395.1 183.7h0M398.3 202.5h0M398.6 185.2h0M399.8 180.3h0M398.3 187.8h0M396.4 184.2h0M397.3 186.8h0M400.4 197.4h0M400.1 206.1h0M395.7 187.1h0M395.5 195.7h0M395.5 185.6h0M395.1 177.8h0M397.5 195.1h0M395.8 185.5h0M399.9 183.4h0M398.7 174.1h0M395.7 199.7h0M398 179.5h0M396.8 189.9h0M397.8 184.2h0M396.2 175.4h0M395.9 182.1h0" stroke="#8d8d8d" stroke-width="2.00" stroke-linecap="round" fill="none"/>
<line x1="393.80" y1="187.28" x2="401.80" y2="187.28" stroke="#231f20" stroke-width="1.0"/>
<rect x="404.20" y="173.00" width="7.40" height="8.96" fill="#a9bfd8"/>
<line x1="407.90" y1="165.72" x2="407.90" y2="206.60" stroke="#555" stroke-width="0.5"/>
<path d="M410.5 174.9h0M409 171.6h0M406.3 179.6h0M407 185.6h0M408.7 167.5h0M408.9 174.5h0M406.6 169.4h0M410.4 185.6h0M406.9 177.3h0M406.5 178.3h0M409.8 179.8h0M406 176.9h0M408.9 177.1h0M406.2 181.6h0M408.4 178.7h0M406.7 182.4h0M407.2 179.4h0M410.4 182.9h0M407.7 171.1h0M407.5 175.8h0M408.6 182.7h0M406.7 179.7h0M406.1 169.9h0M407.3 192.9h0M406.6 182.4h0M406.2 170.2h0M410.5 172.3h0M405.3 188.3h0M409.6 178h0M410.3 171.9h0M409 178.7h0M405.2 180h0M407.9 185.2h0M405.3 179.7h0M408.5 178.4h0M409 170.3h0M406.4 194.2h0M405.1 181h0M408.1 172.9h0M405.6 174.3h0M406.8 177.6h0M407.6 175.2h0M410.1 176.3h0M407.2 173.1h0M405.9 187.8h0M409.5 186.2h0M409.7 174.5h0M408.1 168h0M405.4 176.3h0M406.2 185h0M407.4 174.7h0M408.2 182.6h0M406.4 173.2h0M409.6 177.2h0M409.8 175.4h0M410.3 182.1h0M410 175.5h0M405.2 181h0M408.4 189.2h0M405.6 178.7h0M410.1 184.7h0M409.3 176.9h0M409.4 171h0M406.2 186.8h0M405.4 176.7h0M409.7 174.8h0M408.5 178.1h0M408.6 185.1h0M407.7 176.5h0M409.6 180.3h0M407 191.1h0M406.6 175.8h0M407.1 186.6h0M406.8 177h0M408.6 187.3h0M410.1 171h0M405.5 185.4h0M405.5 179.5h0M408 182h0M408.9 171.8h0M406.2 180.8h0M406.6 186.8h0M405.4 185.7h0M405.3 182h0M407.9 171.7h0M408.9 177.2h0M408.8 180h0M406 171.4h0M405.7 172.3h0M410.3 170.8h0M408.1 172.5h0M407.4 174.8h0M409 167.2h0M409.2 181.3h0M408 180.6h0M405.5 206.6h0M409.7 206.6h0M406.3 204.9h0M405.3 198.2h0M407.1 195.4h0" stroke="#12508c" stroke-width="2.00" stroke-linecap="round" fill="none"/>
<line x1="403.90" y1="177.48" x2="411.90" y2="177.48" stroke="#231f20" stroke-width="1.0"/>
<rect x="414.30" y="169.64" width="7.40" height="7.28" fill="#fcd5a4"/>
<line x1="418.00" y1="163.48" x2="418.00" y2="193.16" stroke="#555" stroke-width="0.5"/>
<path d="M416.5 172.9h0M419.3 180.4h0M419.7 175h0M417.9 169.4h0M415.5 165.4h0M417.3 176.5h0M419.8 173.4h0M418 167.3h0M417.8 180.8h0M417.4 166.3h0M418.7 177.7h0M418.6 171.5h0M419.1 163.7h0M420 167.7h0M419.4 177.1h0M417.3 180.7h0M416.6 182.7h0M419.6 164.7h0M419.6 164h0M420.4 177h0M416.3 168.2h0M419.9 173.2h0M420.2 178.7h0M415.6 178h0M416.9 173.3h0M418.7 180.7h0M416 166.5h0M419.9 183.6h0M416.7 175.9h0M419 168.1h0M416.9 181.7h0M416.4 176.5h0M416.4 174.2h0M418 183.8h0M419.2 174.9h0M416.4 171.7h0M419 176.1h0M417.1 171.5h0M418.8 182.4h0M417.3 175.8h0M416.3 175.3h0M416 171.2h0M415.5 167.6h0M419.1 172.5h0M417.5 174.6h0M415.9 174.1h0M420.1 175.3h0M418.9 176.5h0M415.3 165.3h0M419.3 184h0M418.5 175.1h0M417.7 176.1h0M418 173.8h0M420.6 173.2h0M417.3 167.5h0M418.8 179h0M418.8 180.2h0M417.2 173.5h0M417.1 180.8h0M419.4 173.7h0M418.8 167.4h0M417.8 177.7h0M418.1 168.9h0M416.5 174.2h0M419.6 166.4h0M415.3 174.9h0M418.8 173.2h0M417.7 170.1h0M416.4 179.5h0M418.5 170.5h0M418.5 181.2h0M415.7 175.5h0M417.9 189.2h0M416.1 177.1h0M419.7 169.5h0M417 165h0M417 173.4h0M416.4 179.2h0M415.5 176.8h0M416.2 169.7h0" stroke="#f7901e" stroke-width="2.00" stroke-linecap="round" fill="none"/>
<line x1="414.00" y1="173.56" x2="422.00" y2="173.56" stroke="#231f20" stroke-width="1.0"/>
<line x1="435.00" y1="159.30" x2="435.00" y2="207.80" stroke="#231f20" stroke-width="0.9"/>
<line x1="435.00" y1="207.80" x2="468.50" y2="207.80" stroke="#231f20" stroke-width="0.9"/>
<line x1="432.80" y1="193.50" x2="435.00" y2="193.50" stroke="#231f20" stroke-width="0.8"/>
<text x="432.00" y="196.20" font-size="7.6" fill="#231f20" text-anchor="end" textLength="4.3" lengthAdjust="spacingAndGlyphs">2</text>
<line x1="432.80" y1="180.60" x2="435.00" y2="180.60" stroke="#231f20" stroke-width="0.8"/>
<text x="432.00" y="183.30" font-size="7.6" fill="#231f20" text-anchor="end" textLength="4.3" lengthAdjust="spacingAndGlyphs">4</text>
<line x1="432.80" y1="167.70" x2="435.00" y2="167.70" stroke="#231f20" stroke-width="0.8"/>
<text x="432.00" y="170.40" font-size="7.6" fill="#231f20" text-anchor="end" textLength="4.3" lengthAdjust="spacingAndGlyphs">6</text>
<line x1="432.80" y1="206.40" x2="435.00" y2="206.40" stroke="#231f20" stroke-width="0.8"/>
<text x="451.50" y="158.10" font-size="8.6" fill="#231f20" text-anchor="middle">Cd40</text>
<rect x="437.70" y="206.08" width="7.40" height="0.32" fill="#d1d2d3"/>
<line x1="441.40" y1="206.08" x2="441.40" y2="206.40" stroke="#555" stroke-width="0.5"/>
<path d="M439.8 206.2h0M443.5 206.4h0M440.5 206.1h0M442.3 206.2h0M439.9 206.2h0M442.2 206.2h0M441.1 206.4h0M442.7 206.4h0M441.6 206.3h0M440.7 206.3h0M440.2 206.3h0M441.9 206.2h0M443.3 206.4h0M442.5 206.2h0M441.3 206.3h0M440.4 206.3h0M443.6 206.2h0M443.3 206.4h0M439.4 206.1h0M442.4 206.4h0M442.9 185.1h0M442.4 183.2h0M444 181.2h0M443.5 183.8h0" stroke="#8d8d8d" stroke-width="2.00" stroke-linecap="round" fill="none"/>
<line x1="437.40" y1="206.40" x2="445.40" y2="206.40" stroke="#231f20" stroke-width="1.0"/>
<rect x="447.80" y="205.75" width="7.40" height="0.65" fill="#a9bfd8"/>
<line x1="451.50" y1="205.11" x2="451.50" y2="206.40" stroke="#555" stroke-width="0.5"/>
<path d="M450.6 206.2h0M453.9 206.3h0M450.7 205.6h0M452.2 205.8h0M453.3 205.6h0M450.3 205.7h0M453.1 206h0M448.7 205.2h0M450.6 206.4h0M449.6 205.8h0M450.6 205.7h0M449.9 206.3h0M448.8 206.3h0M453.2 205.5h0M449.7 205.8h0M451.9 206.4h0M451.8 205.9h0M453.5 205.9h0M453.4 205.2h0M452.2 206.1h0M449.6 163.2h0M453 166.4h0M449.2 174.2h0M453.9 177.4h0M450.4 180.6h0M450.1 182.5h0M449.9 185.1h0M450.9 189h0M453.1 192.2h0M453.5 196.1h0M452.9 200h0M452.8 201.9h0" stroke="#12508c" stroke-width="2.00" stroke-linecap="round" fill="none"/>
<line x1="447.50" y1="206.40" x2="455.50" y2="206.40" stroke="#231f20" stroke-width="1.0"/>
<rect x="457.90" y="168.34" width="7.40" height="36.12" fill="#fcd5a4"/>
<line x1="461.60" y1="166.41" x2="461.60" y2="206.40" stroke="#555" stroke-width="0.5"/>
<path d="M464.2 198.6h0M463.5 186.5h0M461.5 196.4h0M463.6 201.2h0M462.2 203h0M459.7 172.3h0M461 193.4h0M463.4 177.3h0M461.4 193h0M459 193.8h0M459.7 173h0M459.8 195.6h0M462.1 199.6h0M462.4 191.2h0M461.3 172.2h0M461.1 182.7h0M464.2 193.6h0M460.7 194h0M462.6 174h0M459.9 169.3h0M461.7 187.4h0M459.8 203.6h0M459.4 200.2h0M460.7 185.7h0M459.4 176.9h0M460.9 173.3h0M462.5 195.2h0M461.9 206h0M463.3 174.4h0M461.5 189.1h0M459.3 199.6h0M462.9 190.3h0M461.1 195.4h0M463 189.1h0M464.3 170.7h0M461.7 178.4h0M460.2 185.8h0M460.8 199.7h0M461.6 203h0M460.6 181.6h0M459.4 201.4h0M461 188.3h0M462.5 186.7h0M463.4 167.5h0M463.1 196.1h0M463.8 197h0M463.3 191.4h0M461.1 171.2h0M462.4 187.2h0M459.1 196h0M463.2 196.5h0M462.8 205.2h0M460.3 177.2h0M461.4 197.3h0M460.3 183.3h0M463.3 205.6h0M461.2 174.9h0M463.2 202.7h0M464 190.1h0M463.2 191.4h0M460.9 185.3h0M460.7 193.8h0M464.1 173.6h0M463.9 190.2h0M459.9 185.4h0M460.8 179.6h0M463.2 192.9h0M463 203.3h0M460.4 166.6h0M461.3 201.9h0M464.2 172.4h0M459.3 167.5h0M460.3 192.3h0M462.5 177.4h0M463.9 181.6h0M464.1 204.8h0M461.4 185.1h0M463.2 202.8h0M464.2 192.3h0M460.6 196.8h0" stroke="#f7901e" stroke-width="2.00" stroke-linecap="round" fill="none"/>
<line x1="457.60" y1="187.37" x2="465.60" y2="187.37" stroke="#231f20" stroke-width="1.0"/>
<line x1="479.60" y1="159.30" x2="479.60" y2="207.80" stroke="#231f20" stroke-width="0.9"/>
<line x1="479.60" y1="207.80" x2="513.10" y2="207.80" stroke="#231f20" stroke-width="0.9"/>
<line x1="477.40" y1="196.08" x2="479.60" y2="196.08" stroke="#231f20" stroke-width="0.8"/>
<text x="476.60" y="198.78" font-size="7.6" fill="#231f20" text-anchor="end" textLength="4.3" lengthAdjust="spacingAndGlyphs">2</text>
<line x1="477.40" y1="185.16" x2="479.60" y2="185.16" stroke="#231f20" stroke-width="0.8"/>
<text x="476.60" y="187.86" font-size="7.6" fill="#231f20" text-anchor="end" textLength="4.3" lengthAdjust="spacingAndGlyphs">4</text>
<line x1="477.40" y1="174.24" x2="479.60" y2="174.24" stroke="#231f20" stroke-width="0.8"/>
<text x="476.60" y="176.94" font-size="7.6" fill="#231f20" text-anchor="end" textLength="4.3" lengthAdjust="spacingAndGlyphs">6</text>
<line x1="477.40" y1="163.32" x2="479.60" y2="163.32" stroke="#231f20" stroke-width="0.8"/>
<text x="476.60" y="166.02" font-size="7.6" fill="#231f20" text-anchor="end" textLength="4.3" lengthAdjust="spacingAndGlyphs">8</text>
<line x1="477.40" y1="207.00" x2="479.60" y2="207.00" stroke="#231f20" stroke-width="0.8"/>
<text x="496.10" y="158.10" font-size="8.6" fill="#231f20" text-anchor="middle">Tnfaip3</text>
<rect x="482.30" y="175.88" width="7.40" height="30.03" fill="#d1d2d3"/>
<line x1="486.00" y1="174.79" x2="486.00" y2="207.00" stroke="#555" stroke-width="0.5"/>
<path d="M483.3 197.4h0M486.6 197.3h0M486.4 205h0M487.7 205.9h0M484.1 185.3h0M487 204.7h0M485.7 202.2h0M486.1 203.3h0M487.9 205.6h0M486.1 187.8h0M485.6 202.3h0M486.8 176.1h0M484 185.2h0M488.1 202.1h0M486.1 185.1h0M483.4 206h0M485.9 204.1h0M488.5 202.6h0M488.7 206.2h0M485.6 200h0M484.7 206h0M488.4 178h0M484.8 206.7h0M483.3 202.4h0M484.6 202.7h0M485.8 204.8h0M487 202.4h0M483.6 203.1h0M485.1 206.3h0M487.3 204.5h0M485.1 204.3h0M484.2 206.1h0M487.2 202.7h0M485.6 182h0M487.1 205.1h0M485.9 196.5h0M487.7 192.5h0M486.1 202.6h0M488.7 175.1h0M487.8 202.1h0M487.2 188.1h0M485.9 205.7h0M486.6 195.4h0M485.3 206.3h0M483.6 196.7h0M488.2 184.7h0M487.7 205.4h0M487.5 203.8h0M488 205.4h0M486.3 177.6h0M488.8 180h0M485.9 202.8h0M488.7 202.9h0M483.7 202.3h0M485.3 183.3h0M486.4 178.3h0M487.8 187.8h0M486.1 204.1h0M487.6 205.4h0M485.3 205.9h0M487 181.6h0M487.7 206h0M486.6 188.3h0M483.3 204.1h0M486.9 205.4h0M483.2 203.1h0M484.9 204.9h0M483.8 184.5h0M487.5 191.3h0M484.1 205.3h0M487.2 181.5h0M483.6 206.4h0M484.4 205.6h0M487.1 202.4h0M488.4 203h0" stroke="#8d8d8d" stroke-width="2.00" stroke-linecap="round" fill="none"/>
<line x1="482.00" y1="201.54" x2="490.00" y2="201.54" stroke="#231f20" stroke-width="1.0"/>
<rect x="492.40" y="177.52" width="7.40" height="9.83" fill="#a9bfd8"/>
<line x1="496.10" y1="168.78" x2="496.10" y2="207.00" stroke="#555" stroke-width="0.5"/>
<path d="M494.8 178.8h0M496.4 172.5h0M494.4 178.2h0M496.8 189.8h0M496.3 176.1h0M497 182.1h0M498.2 182.8h0M497.8 174.6h0M498.8 191.3h0M494.6 182.8h0M498.6 174.5h0M495.8 173.5h0M495.4 178.7h0M495.8 185.7h0M498.5 180.2h0M498.6 194.3h0M497.8 172h0M495 183.9h0M494 186.7h0M494.4 187.6h0M497.1 182h0M497.2 188.3h0M493.7 189.2h0M493.3 189.1h0M498.9 184.2h0M495.2 178.9h0M493.5 180.4h0M495.9 187.1h0M493.8 176.5h0M497.9 184.4h0M496.3 187.8h0M496.7 189.3h0M498.5 185.8h0M494 186.3h0M494.5 171.5h0M497.7 198h0M496.7 173.5h0M495.8 170.4h0M495.3 169.7h0M496.8 187.6h0M498.6 188.3h0M498.6 172.2h0M498.4 177.5h0M498.8 180.8h0M494 188.5h0M493.5 185.1h0M497.9 190.3h0M494.7 174.1h0M496.2 186h0M495.9 174.1h0M498.8 182.2h0M495.8 195.1h0M494.1 178.3h0M494.4 187.8h0M498.4 180.6h0M497.9 186.2h0M494.1 189.2h0M498.7 185.4h0M495.4 174h0M497.4 190.3h0M496.5 189.1h0M498.1 192.2h0M496 187.1h0M493.5 175.6h0M496.4 176.9h0M498.1 178.5h0M495.6 179h0M497.9 169.8h0M495.8 169.9h0M495.3 169.2h0M495.3 188.5h0M494.6 187.1h0M496.1 176.4h0M498.7 176.9h0M496.6 186.4h0M497.6 184.8h0M494.3 175.2h0M495.4 184.3h0M496.5 187.8h0M495.4 180.6h0M493.3 186.7h0M498.2 178.4h0M494 181.4h0M497 185.3h0M498.8 188.6h0M494.9 174.5h0M494.8 188.5h0M495.2 182.5h0M496.3 185.5h0M498.8 183.2h0M494.1 185.7h0M494.7 174.6h0M498.3 182.5h0M494.9 189.5h0M497 190.6h0" stroke="#12508c" stroke-width="2.00" stroke-linecap="round" fill="none"/>
<line x1="492.10" y1="183.52" x2="500.10" y2="183.52" stroke="#231f20" stroke-width="1.0"/>
<rect x="502.50" y="175.33" width="7.40" height="8.74" fill="#fcd5a4"/>
<line x1="506.20" y1="163.32" x2="506.20" y2="207.00" stroke="#555" stroke-width="0.5"/>
<path d="M508.4 175h0M506.8 179.2h0M506 179.4h0M504.6 169.7h0M508.2 177.5h0M508.2 171.6h0M508.8 184.7h0M506.7 182.4h0M508.6 178.6h0M508.4 182.6h0M507.1 179.7h0M505.3 180h0M506.8 177.8h0M505.3 187.3h0M508 179.9h0M506.5 180.3h0M508.3 175.2h0M508.4 177.9h0M507.6 178.6h0M504.5 167.9h0M505.3 167.6h0M503.9 170.4h0M505.3 177.3h0M504.3 188.5h0M505.1 177.1h0M507.8 186.1h0M504.1 164.2h0M508.5 177.1h0M508.6 186.1h0M507.7 193.9h0M504.7 173.9h0M505 172.8h0M506 169.6h0M506.9 186.1h0M508.6 185.6h0M503.5 188.7h0M503.9 181.2h0M508 175.5h0M503.5 176.8h0M508.4 182.3h0M504.4 176h0M508.9 171.5h0M506 174.6h0M506.8 189.7h0M508 174.7h0M508 192.7h0M505.7 170.7h0M506 178.9h0M507.8 172.4h0M504.8 190.6h0M505.1 174.5h0M508.3 174.3h0M508.3 173.9h0M508 188.9h0M505.3 176.9h0M505.3 178.4h0M504 172.1h0M508.1 176.5h0M503.7 179.5h0M504.4 164.6h0M503.5 182.5h0M506 182h0M509 178.4h0M503.8 197.8h0M504.8 178.9h0M504.9 169.7h0M507.3 179.1h0M505.4 178.6h0M504.4 182.7h0M507.3 182.4h0M508.4 181.6h0M504.3 173.6h0M503.8 175.1h0M505.7 182.3h0M508.6 171.2h0M503.7 184.3h0M504.2 180h0M507 178.6h0M507.7 179.5h0M505.9 177.7h0M503.7 207h0M506.5 207h0M504 205.9h0M503.8 198.8h0M503.7 196.1h0" stroke="#f7901e" stroke-width="2.00" stroke-linecap="round" fill="none"/>
<line x1="502.20" y1="179.15" x2="510.20" y2="179.15" stroke="#231f20" stroke-width="1.0"/>
<line x1="391.40" y1="221.20" x2="391.40" y2="268.00" stroke="#231f20" stroke-width="0.9"/>
<line x1="391.40" y1="268.00" x2="424.90" y2="268.00" stroke="#231f20" stroke-width="0.9"/>
<line x1="389.20" y1="255.68" x2="391.40" y2="255.68" stroke="#231f20" stroke-width="0.8"/>
<text x="388.40" y="258.38" font-size="7.6" fill="#231f20" text-anchor="end" textLength="4.3" lengthAdjust="spacingAndGlyphs">2</text>
<line x1="389.20" y1="245.36" x2="391.40" y2="245.36" stroke="#231f20" stroke-width="0.8"/>
<text x="388.40" y="248.06" font-size="7.6" fill="#231f20" text-anchor="end" textLength="4.3" lengthAdjust="spacingAndGlyphs">4</text>
<line x1="389.20" y1="235.04" x2="391.40" y2="235.04" stroke="#231f20" stroke-width="0.8"/>
<text x="388.40" y="237.74" font-size="7.6" fill="#231f20" text-anchor="end" textLength="4.3" lengthAdjust="spacingAndGlyphs">6</text>
<line x1="389.20" y1="224.72" x2="391.40" y2="224.72" stroke="#231f20" stroke-width="0.8"/>
<text x="388.40" y="227.42" font-size="7.6" fill="#231f20" text-anchor="end" textLength="4.3" lengthAdjust="spacingAndGlyphs">8</text>
<line x1="389.20" y1="266.00" x2="391.40" y2="266.00" stroke="#231f20" stroke-width="0.8"/>
<text x="407.90" y="220.00" font-size="8.6" fill="#231f20" text-anchor="middle">Nfkbia</text>
<rect x="394.10" y="235.04" width="7.40" height="7.22" fill="#d1d2d3"/>
<line x1="397.80" y1="226.78" x2="397.80" y2="253.10" stroke="#555" stroke-width="0.5"/>
<path d="M395.2 242.7h0M399.1 236.5h0M396.2 240h0M399 247.6h0M399 237.4h0M400.6 237.3h0M396 233.4h0M397.3 237h0M399.4 244.9h0M397.5 236.6h0M396 232h0M398.8 227.9h0M399.4 239.4h0M397.5 237.9h0M397.1 239.4h0M395.7 232.4h0M397.3 236.6h0M399.7 237.9h0M397 240.7h0M400.3 231.7h0M397 234.5h0M397.7 242.5h0M399.4 238.8h0M400.1 241.8h0M399.7 246.1h0M397.4 235.8h0M397.5 242h0M395.7 238.4h0M398 235.5h0M399.6 242.5h0M396.1 234.6h0M396.8 241.2h0M395.4 237.7h0M397.5 241.3h0M397.7 244.3h0M400.5 249.2h0M398.8 242.5h0M400.1 242.6h0M396.1 240.6h0M397.5 237.3h0M398.9 242.1h0M395.4 232h0M398.2 234.7h0M398.5 237.7h0M395.2 237.6h0M396.1 249.5h0M399.4 242.9h0M395.9 240.3h0M398.6 227.9h0M397.4 241.8h0M397.2 236.3h0M399.9 237.6h0M397.2 242.5h0M399.9 237.3h0M399.6 235.8h0M398.1 239.7h0M395.6 241.2h0M396.9 236.3h0M400.3 237h0M396.5 243.1h0M398.3 241.3h0M396.1 237.2h0M399.1 241.4h0M398.9 230.6h0M400 244h0M398.3 243.6h0M395.6 233.3h0M399.5 240.2h0M398.2 241.3h0M400.3 233.2h0M397.9 241.2h0M396.8 248.1h0M397.5 240h0M398.1 234.4h0M398.9 238.5h0M398.5 265h0M399.8 261.9h0M398 264.5h0" stroke="#8d8d8d" stroke-width="2.00" stroke-linecap="round" fill="none"/>
<line x1="393.80" y1="239.17" x2="401.80" y2="239.17" stroke="#231f20" stroke-width="1.0"/>
<rect x="404.20" y="227.82" width="7.40" height="7.22" fill="#a9bfd8"/>
<line x1="407.90" y1="224.72" x2="407.90" y2="246.39" stroke="#555" stroke-width="0.5"/>
<path d="M407.2 228.5h0M409.2 232.2h0M408.6 234.5h0M407.4 241.6h0M405.8 228.9h0M406.1 233.8h0M408.5 232.7h0M407.9 225.7h0M408.1 237.9h0M409.3 228.7h0M408.3 226.8h0M410 236.7h0M410.3 225.1h0M408 233.6h0M407.1 230.8h0M407.9 225.7h0M406.5 241.9h0M406.1 231h0M409.1 244.2h0M407.6 229.4h0M405.2 237.2h0M407.3 228.4h0M406.9 230.2h0M405.4 227.7h0M405.2 227.3h0M408.5 242.3h0M409.6 230.4h0M409.8 237.2h0M408.4 232.5h0M406.4 231.9h0M408.7 228.5h0M406.6 226.9h0M406.4 227h0M406.9 229.9h0M405.9 234.6h0M405.7 231.8h0M410.6 230.4h0M405.6 229.4h0M410.5 241.3h0M409 228.7h0M409.3 239.3h0M405.7 228.7h0M408.9 233.5h0M406.2 240.9h0M407.9 229.6h0M407.6 237.5h0M410.2 228.3h0M405.7 230.5h0M405.1 232.3h0M408.4 226.7h0M408 236.5h0M408.7 235.1h0M405.6 232.2h0M407.2 228.3h0M409.1 232.7h0M408.4 232.3h0M406.9 234.2h0M405.1 234.7h0M405.3 240.5h0M410.1 238.8h0M406.6 233.2h0M405.5 227.5h0M406.7 236.1h0M406.3 232.3h0M408.1 234.6h0M405.4 227.8h0M408.1 237.4h0M408.7 228.7h0M408.1 228.8h0M408.4 236.6h0M406.5 234.6h0M407.3 231.9h0M409.3 233.7h0M406.7 225.7h0M409.7 233.5h0M406.2 229.4h0M407.8 235.7h0M410.1 232.7h0M408.8 241.4h0M406.6 230h0M407.1 237h0M406.7 230.4h0M409.3 228.2h0M407.1 228.1h0M409.8 232.3h0M409 227.8h0M409.8 241.8h0M408.1 243.5h0M406.7 231.2h0M408.9 244.9h0M407.5 225.5h0M405.4 234.1h0M407.6 229.7h0M406.1 231h0M405.5 229.4h0M406.6 255.7h0M410.4 250.5h0M408.8 247.9h0" stroke="#12508c" stroke-width="2.00" stroke-linecap="round" fill="none"/>
<line x1="403.90" y1="231.43" x2="411.90" y2="231.43" stroke="#231f20" stroke-width="1.0"/>
<rect x="414.30" y="227.30" width="7.40" height="5.68" fill="#fcd5a4"/>
<line x1="418.00" y1="223.17" x2="418.00" y2="242.78" stroke="#555" stroke-width="0.5"/>
<path d="M418.1 235h0M417.6 227.9h0M420.7 234.1h0M416.2 226.5h0M420.3 230.9h0M418.3 229h0M415.8 234.4h0M418.4 233.9h0M416.3 231.7h0M418 229.3h0M417.9 237.6h0M419.5 228.4h0M420.3 231.2h0M415.6 227.7h0M420.1 231.9h0M420.4 226.8h0M416 227.4h0M415.7 231.5h0M417.8 231.9h0M415.4 236.6h0M415.9 238.2h0M418.1 228.8h0M416.4 237.4h0M418.6 228.1h0M416.4 226.9h0M418.9 230.3h0M418.7 226h0M415.6 238.9h0M419 230.8h0M420.4 224.5h0M420.8 238.3h0M415.4 236.8h0M419.1 232.2h0M417 229.7h0M417.5 228.3h0M417.8 228.9h0M415.5 232.1h0M418.7 230.1h0M415.9 231.3h0M420 232.7h0M415.8 223.3h0M418.7 228.5h0M418.3 236.6h0M415.4 228.6h0M415.8 233.7h0M418 232.1h0M417.4 226.5h0M416.1 231.7h0M415.8 233.1h0M416.5 224.8h0M419.8 227.2h0M416 223.6h0M419.4 233.1h0M415.8 236.1h0M419.8 228.3h0M419.5 228.3h0M420.1 232.2h0M417.4 229.9h0M420.7 237.4h0M417.5 229.6h0M418.7 230.9h0M419.8 230.6h0M416 228.3h0M415.5 229.3h0M419.1 224.6h0M416.5 228.7h0M416.4 223.4h0M418 229.4h0M416.2 237.6h0M416.7 225.5h0M416.3 235.8h0M415.7 224.7h0M419.8 230.3h0M419.9 234.1h0M419.3 229.3h0M417.7 235.5h0M420.4 233.8h0M418.2 232.6h0M418.3 227.2h0M415.3 225.8h0" stroke="#f7901e" stroke-width="2.00" stroke-linecap="round" fill="none"/>
<line x1="414.00" y1="230.40" x2="422.00" y2="230.40" stroke="#231f20" stroke-width="1.0"/>
<line x1="435.00" y1="221.20" x2="435.00" y2="268.00" stroke="#231f20" stroke-width="0.9"/>
<line x1="435.00" y1="268.00" x2="468.50" y2="268.00" stroke="#231f20" stroke-width="0.9"/>
<line x1="432.80" y1="255.90" x2="435.00" y2="255.90" stroke="#231f20" stroke-width="0.8"/>
<text x="432.00" y="258.60" font-size="7.6" fill="#231f20" text-anchor="end" textLength="4.3" lengthAdjust="spacingAndGlyphs">2</text>
<line x1="432.80" y1="245.70" x2="435.00" y2="245.70" stroke="#231f20" stroke-width="0.8"/>
<text x="432.00" y="248.40" font-size="7.6" fill="#231f20" text-anchor="end" textLength="4.3" lengthAdjust="spacingAndGlyphs">4</text>
<line x1="432.80" y1="235.50" x2="435.00" y2="235.50" stroke="#231f20" stroke-width="0.8"/>
<text x="432.00" y="238.20" font-size="7.6" fill="#231f20" text-anchor="end" textLength="4.3" lengthAdjust="spacingAndGlyphs">6</text>
<line x1="432.80" y1="225.30" x2="435.00" y2="225.30" stroke="#231f20" stroke-width="0.8"/>
<text x="432.00" y="228.00" font-size="7.6" fill="#231f20" text-anchor="end" textLength="4.3" lengthAdjust="spacingAndGlyphs">8</text>
<line x1="432.80" y1="266.10" x2="435.00" y2="266.10" stroke="#231f20" stroke-width="0.8"/>
<text x="451.50" y="220.00" font-size="8.6" fill="#231f20" text-anchor="middle">Malt1</text>
<rect x="437.70" y="238.05" width="7.40" height="7.65" fill="#d1d2d3"/>
<line x1="441.40" y1="232.44" x2="441.40" y2="255.90" stroke="#555" stroke-width="0.5"/>
<path d="M443.2 244.4h0M441.6 238.8h0M442 249.6h0M442 253.5h0M444.1 245.4h0M440.3 245.5h0M441.8 240.9h0M442.7 244h0M442.4 241.5h0M443.7 243.6h0M438.8 244.1h0M443.1 235.2h0M438.8 242.7h0M440.4 245.1h0M440.6 246.6h0M443.1 242.1h0M443.6 248.7h0M441.7 251.3h0M441.7 239.2h0M442.3 237.6h0M438.7 243.7h0M440.7 242.9h0M441.1 244.8h0M438.9 237.2h0M440.3 246.3h0M440.2 243.4h0M439.3 246.2h0M439.7 240.8h0M440.7 251h0M442.3 238.3h0M443.4 240.9h0M440.4 254.3h0M443 237.8h0M442.6 243.8h0M439.2 240.5h0M439.7 250.1h0M443.5 246.4h0M439.4 246.5h0M442.1 235.3h0M441.9 245.4h0M443.1 239.5h0M442.9 243.1h0M443.2 243.9h0M439.4 239.6h0M442.6 243.2h0M443.6 247.9h0M442.3 244.2h0M444 237.2h0M439.1 246.6h0M441.2 241.6h0M444 249.5h0M440.3 241.8h0M440.5 237.9h0M440.3 241.6h0M440.7 249.8h0M441 243.3h0M441.4 249.3h0M440 246.9h0M441.4 252.8h0M443.8 236.7h0M440.6 241.3h0M440 248.4h0M443.7 250.8h0M442.6 246.2h0M443 243h0M443.7 237.3h0M444.1 248.4h0M440.3 242.1h0M438.6 235.4h0M442.7 239.8h0M442.3 247.3h0M440.8 250.1h0M443.7 244.2h0M443.1 243.5h0M441.8 240.4h0M442 266.1h0M440.9 265.1h0M439.6 260h0" stroke="#8d8d8d" stroke-width="2.00" stroke-linecap="round" fill="none"/>
<line x1="437.40" y1="242.13" x2="445.40" y2="242.13" stroke="#231f20" stroke-width="1.0"/>
<rect x="447.80" y="236.52" width="7.40" height="8.67" fill="#a9bfd8"/>
<line x1="451.50" y1="227.85" x2="451.50" y2="258.45" stroke="#555" stroke-width="0.5"/>
<path d="M452.8 243.8h0M451.1 230.6h0M448.8 248.4h0M450.5 240.8h0M448.8 249.1h0M452.5 252.8h0M454.1 238.9h0M451.9 239.1h0M452.6 240.5h0M451.9 245.3h0M454.1 247.6h0M449.6 244.1h0M451.9 245.3h0M450.6 248.7h0M451.3 247.7h0M449.9 235.6h0M453.1 229.2h0M450.6 245.7h0M450.2 250.5h0M453.5 238.1h0M448.8 244.6h0M449.7 232.3h0M453.9 240.9h0M452.4 239.6h0M449.8 254.4h0M449.4 248.1h0M452.5 243h0M453.4 249.1h0M454.3 247.5h0M454 247.1h0M452.9 234.2h0M449.2 241.2h0M453.1 238.4h0M451.1 237.3h0M451.7 239.1h0M448.8 243.8h0M448.8 239.1h0M451.6 239.1h0M452.3 250.1h0M450.2 243.9h0M454.1 238.3h0M449.1 251.7h0M453.6 234.1h0M453.9 235.7h0M449.2 249h0M453.3 249.7h0M452.1 232.6h0M451.1 246.6h0M451.1 241.4h0M451.8 232.9h0M453.9 246.4h0M452.9 238.7h0M451.3 240.2h0M451.3 251.4h0M449.7 239.2h0M451.8 248h0M453.5 237.9h0M452.3 235h0M452.1 234.1h0M451.2 245.9h0M454.2 237.6h0M453.5 238.9h0M451.6 232.3h0M452.4 237.1h0M453.2 247.7h0M450.1 247.2h0M452.2 245.9h0M450.3 243.5h0M453 250.2h0M450.4 240h0M454.1 243h0M452.6 241h0M451.7 242.8h0M451.9 251.2h0M452 246.6h0M450.2 234.3h0M448.8 230.3h0M451.2 238.4h0M450.3 246.2h0M451.3 250.8h0M449.9 254.5h0M449.9 238.6h0M454.2 241.6h0M450.8 240.8h0M452.9 236h0M449.5 237.9h0M449.2 240.3h0M452.6 236.2h0M451.1 232.8h0M453.2 235.8h0M448.8 229.2h0M451.5 250.1h0M452 245.4h0M449.9 234.7h0M452.7 249.2h0M449.8 266.1h0M449.3 266.1h0" stroke="#12508c" stroke-width="2.00" stroke-linecap="round" fill="none"/>
<line x1="447.50" y1="241.11" x2="455.50" y2="241.11" stroke="#231f20" stroke-width="1.0"/>
<rect x="457.90" y="231.42" width="7.40" height="7.14" fill="#fcd5a4"/>
<line x1="461.60" y1="222.75" x2="461.60" y2="248.25" stroke="#555" stroke-width="0.5"/>
<path d="M462.4 236.1h0M461.6 234.1h0M460.8 233.6h0M463.2 242.6h0M460.6 229.7h0M459.9 233h0M461.1 231.2h0M460.8 236.9h0M463.4 231.8h0M460 228.1h0M461 242.3h0M463.2 229.3h0M461.4 229.7h0M460.7 234.3h0M459.6 235.5h0M460.8 236h0M461.8 234.3h0M463.2 236.1h0M464.4 232.5h0M461.8 238.4h0M461.6 234.1h0M463 235.5h0M461.4 240.1h0M460.2 229.2h0M462.7 231.6h0M463.5 243.4h0M460 232.8h0M463.6 235.1h0M459.1 239h0M459.9 241.3h0M460.9 229.4h0M463.9 228.4h0M461.5 236.3h0M460.7 238.7h0M460.2 238h0M461.4 239.2h0M461.9 233.2h0M462.1 239.3h0M463.8 234.9h0M459.5 235.5h0M462.8 233.8h0M464.2 225.9h0M462.2 229.4h0M462.8 242.7h0M463.3 223.8h0M463.8 234.8h0M460.6 230h0M461.3 230.5h0M463.5 238.5h0M459.7 239h0M461.3 243.2h0M464.2 237.7h0M461 232.7h0M461.2 224.5h0M461.2 234.3h0M461.5 243.3h0M463.1 239.1h0M459.4 224.3h0M461.4 236.2h0M461.2 237.1h0M464.2 236.4h0M463.6 240.4h0M460.4 237.8h0M460.6 234.2h0M464.4 234.4h0M458.9 237.9h0M462.7 230.8h0M458.9 223.1h0M460.4 246.8h0M462.4 230.9h0M462.6 237.2h0M462.4 231.9h0M460.1 239.1h0M461 239.6h0M463.6 229.8h0M460.4 227.3h0M461.8 232.9h0M461.9 228.5h0M463.6 232.3h0M463.3 235h0" stroke="#f7901e" stroke-width="2.00" stroke-linecap="round" fill="none"/>
<line x1="457.60" y1="234.99" x2="465.60" y2="234.99" stroke="#231f20" stroke-width="1.0"/>
<line x1="479.80" y1="221.20" x2="479.80" y2="268.00" stroke="#231f20" stroke-width="0.9"/>
<line x1="479.80" y1="268.00" x2="513.30" y2="268.00" stroke="#231f20" stroke-width="0.9"/>
<line x1="477.60" y1="254.50" x2="479.80" y2="254.50" stroke="#231f20" stroke-width="0.8"/>
<text x="476.80" y="257.20" font-size="7.6" fill="#231f20" text-anchor="end" textLength="4.3" lengthAdjust="spacingAndGlyphs">2</text>
<line x1="477.60" y1="243.00" x2="479.80" y2="243.00" stroke="#231f20" stroke-width="0.8"/>
<text x="476.80" y="245.70" font-size="7.6" fill="#231f20" text-anchor="end" textLength="4.3" lengthAdjust="spacingAndGlyphs">4</text>
<line x1="477.60" y1="231.50" x2="479.80" y2="231.50" stroke="#231f20" stroke-width="0.8"/>
<text x="476.80" y="234.20" font-size="7.6" fill="#231f20" text-anchor="end" textLength="4.3" lengthAdjust="spacingAndGlyphs">6</text>
<line x1="477.60" y1="266.00" x2="479.80" y2="266.00" stroke="#231f20" stroke-width="0.8"/>
<text x="496.30" y="220.00" font-size="8.6" fill="#231f20" text-anchor="middle">Cd14</text>
<rect x="482.50" y="238.40" width="7.40" height="25.30" fill="#d1d2d3"/>
<line x1="486.20" y1="225.75" x2="486.20" y2="266.00" stroke="#555" stroke-width="0.5"/>
<path d="M483.6 257.1h0M487.2 246.1h0M486.5 253.7h0M487.5 237.4h0M486.5 246h0M485 252h0M485.5 230.4h0M484.1 264h0M485.7 234.3h0M486.2 242.5h0M484.1 251.6h0M483.7 253.7h0M486.9 228.8h0M487 251.5h0M487.7 253.5h0M486 245.4h0M483.9 233.2h0M486.3 242.1h0M485.1 244.7h0M488.5 261.9h0M484.6 264.7h0M487.9 247h0M487 241.4h0M485.1 236.9h0M486.7 256.6h0M483.8 239.7h0M484.9 234.9h0M487.4 249.6h0M483.6 247.3h0M486.5 242.3h0M488.5 240.4h0M488.8 255.3h0M487.7 254.3h0M488 236.9h0M485.2 242.3h0M485.4 254h0M484.9 252.9h0M483.8 231.1h0M483.9 230.6h0M483.7 237.2h0M484.6 250.6h0M485.3 263.7h0M485.5 249.4h0M486.1 240.1h0M488.1 257.7h0M485.4 261.2h0M486 260.7h0M487.9 247h0M485.9 227.4h0M487.4 239.9h0M488.8 264.2h0M488.4 255.1h0M485 248h0M488.1 243.2h0M488.6 226.2h0M484.7 237.3h0M484.2 250.7h0M487.5 248.7h0M487.1 243.5h0M484.6 259.8h0M488.9 260h0M486 241.1h0M488.9 239.7h0M486.2 246.2h0M487.4 265.9h0M484.2 252.2h0M487.9 230.5h0M485.9 260.1h0M484.6 235.5h0M485.8 238.4h0M487.1 228h0M488.4 265.3h0M487.7 233.9h0M488.5 246.4h0M487.7 230.9h0" stroke="#8d8d8d" stroke-width="2.00" stroke-linecap="round" fill="none"/>
<line x1="482.20" y1="249.90" x2="490.20" y2="249.90" stroke="#231f20" stroke-width="1.0"/>
<rect x="492.60" y="236.10" width="7.40" height="14.38" fill="#a9bfd8"/>
<line x1="496.30" y1="224.03" x2="496.30" y2="266.00" stroke="#555" stroke-width="0.5"/>
<path d="M494.2 246.1h0M495.1 248.2h0M498.3 238.9h0M497.4 233.5h0M495.1 249.6h0M494.2 226.9h0M494 247.9h0M495.2 240.2h0M493.9 256.2h0M494.3 239.9h0M499.1 231h0M495.3 246.5h0M498.2 248h0M493.8 255.8h0M494.4 228.8h0M493.8 243.7h0M496.5 242.3h0M498.4 241.9h0M498.3 231.6h0M495.5 246.4h0M498 229.9h0M495.7 245.4h0M496.4 231.5h0M495.1 224.6h0M495.4 252.8h0M497.1 243.4h0M495.7 254.2h0M494.6 260h0M495.4 249.7h0M493.7 241.2h0M495.6 233.4h0M498.6 235.6h0M496.6 234.2h0M495 249.3h0M496.1 227.6h0M496.5 253h0M494.3 231h0M496.5 255.2h0M495 249.9h0M494.1 253h0M494.8 238.8h0M495.4 232h0M497.5 232h0M493.8 247.5h0M496.2 235.4h0M496.7 234.2h0M498.2 250h0M494.3 231.2h0M497.9 233.7h0M495.4 251.6h0M494.2 237.2h0M497.3 252.9h0M497.5 250.9h0M499.1 236.1h0M494.9 248.9h0M497.4 235.2h0M498.8 260.8h0M496.5 244.2h0M497.4 242h0M494.2 235.9h0M495.1 232h0M495.7 235.2h0M494.5 251.9h0M494.2 243h0M495.6 228.3h0M497.1 237.4h0M496.3 264.8h0M496.4 249.9h0M496.4 246.2h0M497.7 254.5h0M497.6 247.9h0M495.4 242.8h0M494.1 238.8h0M494.3 237.3h0M495.5 249.6h0M495.8 233.5h0M497.4 252.9h0M494.1 243.8h0M494.7 236.6h0M497.7 244.9h0M498.3 245.1h0M495 246.7h0M496.6 239h0M496.6 247.3h0M494.9 255.7h0M496.3 254.6h0M493.8 260.6h0M498.8 254.4h0M494.9 230.2h0M498.6 246.8h0M498.5 247.9h0M495.8 236.2h0M494.4 242.2h0M495.1 235.5h0M498.7 236.2h0" stroke="#12508c" stroke-width="2.00" stroke-linecap="round" fill="none"/>
<line x1="492.30" y1="244.15" x2="500.30" y2="244.15" stroke="#231f20" stroke-width="1.0"/>
<rect x="502.70" y="231.50" width="7.40" height="10.93" fill="#fcd5a4"/>
<line x1="506.40" y1="224.60" x2="506.40" y2="266.00" stroke="#555" stroke-width="0.5"/>
<path d="M508 231h0M504.8 234.9h0M506.4 237.9h0M506 229.3h0M507 228.1h0M508.9 238.1h0M504.8 226.5h0M504 242.7h0M507.9 229.3h0M504.9 236.9h0M506.7 239.7h0M505.1 232.5h0M508.4 236.7h0M507.1 231.3h0M508.2 229h0M505.6 243.7h0M504.7 243.3h0M507.3 234.9h0M504.6 242.2h0M504 242.4h0M509.1 232.2h0M508.3 236.5h0M504.1 232.6h0M505.9 248.2h0M504.1 240h0M503.9 244.9h0M506.9 238.4h0M508.1 238.3h0M509 247h0M508.7 248.1h0M505.8 244.1h0M503.8 243.5h0M507.3 242h0M506.3 249.8h0M504.3 240.4h0M504.9 235h0M504.5 244.5h0M508.8 245.6h0M505.4 235.4h0M509.1 237.9h0M506.8 252.1h0M507.6 245h0M507.9 224.9h0M504.9 233.7h0M508.3 246h0M508.8 248.6h0M504.1 248.5h0M505.4 240.2h0M505.1 235.8h0M507 242.4h0M508 236.2h0M508.5 235h0M506.3 233.6h0M509.2 225.8h0M507.2 230h0M507.6 243.1h0M506.1 238h0M507.1 243.5h0M506.9 228.5h0M508.1 229.4h0M506.5 237.6h0M505.4 234.5h0M505.2 237.4h0M505.6 237.9h0M505.1 239.9h0M506.7 241.4h0M509.1 238.9h0M509.2 229.4h0M505.1 237.8h0M505.9 248.2h0M506.8 230.7h0M505.5 233.7h0M504 255.9h0M504.8 242.1h0M508.5 250.2h0M506.1 231.2h0M503.9 231.2h0M506.9 248.9h0M505 237.2h0M508.6 232.5h0" stroke="#f7901e" stroke-width="2.00" stroke-linecap="round" fill="none"/>
<line x1="502.40" y1="237.25" x2="510.40" y2="237.25" stroke="#231f20" stroke-width="1.0"/>
<line x1="391.40" y1="280.60" x2="391.40" y2="327.30" stroke="#231f20" stroke-width="0.9"/>
<line x1="391.40" y1="327.30" x2="424.90" y2="327.30" stroke="#231f20" stroke-width="0.9"/>
<line x1="389.20" y1="325.60" x2="391.40" y2="325.60" stroke="#231f20" stroke-width="0.8"/>
<text x="388.40" y="328.30" font-size="7.6" fill="#231f20" text-anchor="end" textLength="4.3" lengthAdjust="spacingAndGlyphs">0</text>
<line x1="389.20" y1="314.78" x2="391.40" y2="314.78" stroke="#231f20" stroke-width="0.8"/>
<text x="388.40" y="317.48" font-size="7.6" fill="#231f20" text-anchor="end" textLength="4.3" lengthAdjust="spacingAndGlyphs">2</text>
<line x1="389.20" y1="303.96" x2="391.40" y2="303.96" stroke="#231f20" stroke-width="0.8"/>
<text x="388.40" y="306.66" font-size="7.6" fill="#231f20" text-anchor="end" textLength="4.3" lengthAdjust="spacingAndGlyphs">4</text>
<line x1="389.20" y1="293.14" x2="391.40" y2="293.14" stroke="#231f20" stroke-width="0.8"/>
<text x="388.40" y="295.84" font-size="7.6" fill="#231f20" text-anchor="end" textLength="4.3" lengthAdjust="spacingAndGlyphs">6</text>
<line x1="389.20" y1="282.32" x2="391.40" y2="282.32" stroke="#231f20" stroke-width="0.8"/>
<text x="388.40" y="285.02" font-size="7.6" fill="#231f20" text-anchor="end" textLength="4.3" lengthAdjust="spacingAndGlyphs">8</text>
<text x="407.90" y="279.40" font-size="8.6" fill="#231f20" text-anchor="middle">Traf1</text>
<rect x="394.10" y="321.27" width="7.40" height="4.33" fill="#d1d2d3"/>
<line x1="397.80" y1="321.27" x2="397.80" y2="325.60" stroke="#555" stroke-width="0.5"/>
<path d="M398.6 325.1h0M397.7 325.2h0M399.3 325.2h0M395.1 322.8h0M400.1 325.5h0M396.4 323.6h0M396.7 325.3h0M399.1 321.8h0M397.8 325.2h0M397 321.5h0M395.5 325.3h0M399 323.9h0M397.6 322.1h0M396.7 325.4h0M397.3 325.2h0M398.2 325.1h0M400.4 325.3h0M398.5 325.3h0M396.8 323.9h0M395.7 325.2h0M396.6 325.4h0M396 321.9h0M396.1 325.5h0M399.2 322.7h0M397.1 325.2h0M396.8 314.8h0M395.9 312.1h0M399.1 309.4h0M400 307.7h0M398.9 305.6h0M396.4 302.9h0M397.5 301.8h0M395.6 299.1h0" stroke="#8d8d8d" stroke-width="2.00" stroke-linecap="round" fill="none"/>
<line x1="393.80" y1="325.06" x2="401.80" y2="325.06" stroke="#231f20" stroke-width="1.0"/>
<rect x="404.20" y="296.39" width="7.40" height="17.31" fill="#a9bfd8"/>
<line x1="407.90" y1="282.32" x2="407.90" y2="325.60" stroke="#555" stroke-width="0.5"/>
<path d="M408 306.6h0M408.1 298.5h0M407.3 324.3h0M407.6 304.7h0M410.5 308.1h0M407.3 291.1h0M407.4 322.5h0M408.2 321.4h0M410.1 296.8h0M408.5 320.7h0M410.6 317.1h0M407.1 301.9h0M409.5 299.2h0M409.7 297.6h0M410.2 296.7h0M410.7 283.7h0M408.1 292h0M406.6 305.1h0M408.1 310.9h0M408.7 308h0M405.7 295.3h0M409 313.5h0M409.2 301.3h0M406.6 297.5h0M406.8 291.4h0M409 306.7h0M405.1 316.7h0M410.2 301.2h0M409.2 303.5h0M408 301.8h0M408.2 308h0M406.9 313.9h0M409.6 303.4h0M406.4 306.3h0M408.9 302.3h0M405.1 306h0M405.3 303.5h0M410.3 300.4h0M405.1 303.8h0M405.6 314h0M409.3 315h0M408.1 297.5h0M405.9 325.4h0M410 317h0M405.7 310.9h0M407.6 308.7h0M408.8 287.2h0M409.6 297.6h0M408.9 319.2h0M407.9 299.8h0M405.8 297.8h0M406.4 298.6h0M408.2 321.9h0M407.9 311.8h0M406.8 293.4h0M410.6 287.2h0M409.3 319.2h0M410.3 314.2h0M406.3 287.2h0M410.4 306.8h0M410.4 298.5h0M408.1 294.5h0M410.3 311.6h0M410.5 311.1h0M410.3 312.2h0M406.4 318.2h0M406.3 297.5h0M405.4 304.1h0M410.1 303.6h0M405.9 311.3h0M407.9 301.9h0M405.2 315.3h0M409.5 294.4h0M410 317.5h0M410.2 287.5h0M406.6 301.6h0M406.2 319.3h0M409 314.1h0M408.1 319.2h0M405.8 305.1h0M408.5 305.7h0M407.3 308.4h0M409.1 306h0M409.1 296.5h0M407.2 307.7h0M406.2 305.2h0M405.3 302.6h0M410.3 298.4h0M405.1 317.5h0M408.5 303.8h0M408.9 294.5h0M410.4 297.3h0M408.8 317.4h0M410.6 288.9h0M410.5 302.1h0" stroke="#12508c" stroke-width="2.00" stroke-linecap="round" fill="none"/>
<line x1="403.90" y1="305.04" x2="411.90" y2="305.04" stroke="#231f20" stroke-width="1.0"/>
<rect x="414.30" y="291.52" width="7.40" height="12.98" fill="#fcd5a4"/>
<line x1="418.00" y1="282.32" x2="418.00" y2="325.60" stroke="#555" stroke-width="0.5"/>
<path d="M420.2 302.5h0M416.5 305.2h0M415.5 306.3h0M420.1 290.1h0M419.1 294.2h0M417.8 286.1h0M415.8 293.1h0M419.6 312.3h0M415.3 288.8h0M419.6 305.8h0M420.5 290.3h0M417.3 288.6h0M417 293.3h0M419.7 314.8h0M415.7 299.1h0M416.6 296.9h0M420 300.8h0M416.8 305.7h0M418.8 290.3h0M418.5 296.5h0M419.1 304.1h0M416.4 297.9h0M416.9 299.4h0M417.3 311.1h0M420.5 307.1h0M416 300.8h0M419 305.3h0M419.6 289.3h0M420.7 304.1h0M416 282.7h0M415.9 299.6h0M418.4 286.9h0M419.7 307.7h0M418.8 299.7h0M419.2 282.5h0M417.7 287.6h0M420.1 300.1h0M418 290.1h0M418.8 292.2h0M415.4 314.1h0M418.8 310.4h0M415.9 310h0M416.2 294.7h0M420.5 297.6h0M416.6 284.1h0M420.2 305.9h0M420.2 303.2h0M416 298.3h0M418.7 314.8h0M415.4 310h0M415.7 285.7h0M419 288.4h0M415.2 295.3h0M419 304.6h0M420.3 292.4h0M416.5 293.3h0M420.5 302.7h0M418.9 321.1h0M415.4 296h0M416.7 296.7h0M416.7 303.3h0M416.4 303.9h0M417.7 296.4h0M415.9 294.8h0M418.8 291.1h0M419.4 320.4h0M417.4 308.5h0M415.7 294.6h0M418.7 305.9h0M417.1 305.8h0M416.8 292.1h0M419.3 301.1h0M419.2 305.7h0M415.7 292.5h0M419.3 299.8h0M420.3 291.1h0M418.7 296.7h0M416.9 299.4h0M416.6 300.6h0M417.4 309h0M417.7 306.2h0M418.3 299.9h0M420.3 305h0M415.8 287.8h0M418.4 311.2h0" stroke="#f7901e" stroke-width="2.00" stroke-linecap="round" fill="none"/>
<line x1="414.00" y1="299.09" x2="422.00" y2="299.09" stroke="#231f20" stroke-width="1.0"/>
<line x1="397.80" y1="327.30" x2="397.80" y2="329.50" stroke="#231f20" stroke-width="0.8"/>
<text x="400.70" y="330.70" font-size="8.0" fill="#231f20" text-anchor="end" textLength="17.0" lengthAdjust="spacingAndGlyphs" transform="rotate(-90 400.70 330.70)">−TNF</text>
<line x1="407.90" y1="327.30" x2="407.90" y2="329.50" stroke="#231f20" stroke-width="0.8"/>
<text x="410.80" y="330.70" font-size="8.0" fill="#1b5693" text-anchor="end" textLength="13.6" lengthAdjust="spacingAndGlyphs" transform="rotate(-90 410.80 330.70)">TRA</text>
<line x1="418.00" y1="327.30" x2="418.00" y2="329.50" stroke="#231f20" stroke-width="0.8"/>
<text x="420.90" y="330.70" font-size="8.0" fill="#f7901e" text-anchor="end" textLength="15.2" lengthAdjust="spacingAndGlyphs" transform="rotate(-90 420.90 330.70)">OSC</text>
<line x1="435.00" y1="280.60" x2="435.00" y2="327.30" stroke="#231f20" stroke-width="0.9"/>
<line x1="435.00" y1="327.30" x2="468.50" y2="327.30" stroke="#231f20" stroke-width="0.9"/>
<line x1="432.80" y1="325.30" x2="435.00" y2="325.30" stroke="#231f20" stroke-width="0.8"/>
<text x="432.00" y="328.00" font-size="7.6" fill="#231f20" text-anchor="end" textLength="4.3" lengthAdjust="spacingAndGlyphs">0</text>
<line x1="432.80" y1="313.74" x2="435.00" y2="313.74" stroke="#231f20" stroke-width="0.8"/>
<text x="432.00" y="316.44" font-size="7.6" fill="#231f20" text-anchor="end" textLength="4.3" lengthAdjust="spacingAndGlyphs">2</text>
<line x1="432.80" y1="302.18" x2="435.00" y2="302.18" stroke="#231f20" stroke-width="0.8"/>
<text x="432.00" y="304.88" font-size="7.6" fill="#231f20" text-anchor="end" textLength="4.3" lengthAdjust="spacingAndGlyphs">4</text>
<line x1="432.80" y1="290.62" x2="435.00" y2="290.62" stroke="#231f20" stroke-width="0.8"/>
<text x="432.00" y="293.32" font-size="7.6" fill="#231f20" text-anchor="end" textLength="4.3" lengthAdjust="spacingAndGlyphs">6</text>
<text x="451.50" y="279.40" font-size="8.6" fill="#231f20" text-anchor="middle">Tnf</text>
<rect x="437.70" y="292.35" width="7.40" height="29.48" fill="#d1d2d3"/>
<line x1="441.40" y1="287.73" x2="441.40" y2="325.30" stroke="#555" stroke-width="0.5"/>
<path d="M443 324.9h0M442.5 309.5h0M438.7 305.5h0M439.9 310.8h0M439.1 288.7h0M443.7 307.6h0M441.5 305.4h0M443.3 322.3h0M440.1 314.5h0M443.4 303.4h0M439.1 308.3h0M441.4 321.9h0M442.5 299.3h0M442.9 301.9h0M440.7 311.7h0M440.3 304.1h0M442.8 290.1h0M443.9 296.4h0M440.4 322.2h0M438.7 303.9h0M439.7 318.8h0M441.7 322.7h0M440.5 297.8h0M440.8 307.5h0M439.6 324h0M440 324.1h0M442 300.5h0M441.1 309.8h0M439.9 289.7h0M438.7 300.9h0M440.9 308.6h0M441.9 317.4h0M440.1 324h0M442.6 292.4h0M442.3 317.5h0M439.4 303.9h0M440.9 311.3h0M440.5 289.7h0M441.9 297.6h0M444.1 300.2h0M440.5 315h0M438.8 304.6h0M441.7 298.2h0M443.7 302.4h0M439.1 302h0M438.7 319.6h0M440.9 296.7h0M443.5 296.8h0M442.5 312.6h0M440.5 307.2h0M443.7 304.5h0M440.8 292h0M438.8 318.3h0M440.6 300.8h0M439 307.9h0M438.9 295.5h0M440.4 295.8h0M441 317.6h0M441 304.6h0M443.9 304.9h0M441.5 318.9h0M442.7 299.9h0M438.7 300.4h0M443.6 293.8h0M440.3 304.3h0M442.6 296.3h0M439.3 309.5h0M441.7 319.3h0M439.5 317.9h0M443.3 294.3h0M440.9 318.4h0M444 294.9h0M443.2 288.7h0M440 309.7h0M440.1 313.4h0" stroke="#8d8d8d" stroke-width="2.00" stroke-linecap="round" fill="none"/>
<line x1="437.40" y1="306.23" x2="445.40" y2="306.23" stroke="#231f20" stroke-width="1.0"/>
<rect x="447.80" y="293.51" width="7.40" height="9.25" fill="#a9bfd8"/>
<line x1="451.50" y1="281.95" x2="451.50" y2="315.47" stroke="#555" stroke-width="0.5"/>
<path d="M450.7 298h0M450.4 303.9h0M454.2 298.6h0M450.7 297h0M450.3 292.1h0M449 306.2h0M451.3 299.1h0M449.7 297.4h0M454.2 292.9h0M453.7 301.2h0M451.4 295.2h0M451.3 293.2h0M450 298.1h0M453.9 295h0M448.7 301.3h0M448.8 309.2h0M449.3 295.1h0M450.1 289.6h0M449.9 295.2h0M453.4 297.8h0M449.9 301.3h0M452.5 292.7h0M452.2 306.1h0M452.8 307.8h0M448.8 285.8h0M453.8 307.8h0M451.4 307.9h0M449.2 295.6h0M453 302.9h0M452.4 297.4h0M450.7 296.9h0M452.8 296.4h0M451.2 296.4h0M451.7 298.1h0M451.3 302.8h0M453.1 299.4h0M453.3 299.7h0M450.7 296.6h0M453.8 295.9h0M453.3 294.4h0M452.6 291h0M452.6 302.8h0M451.1 298.2h0M452 285.1h0M453.1 302.6h0M452.8 291.6h0M451.2 290.6h0M448.8 305.3h0M451.7 290.1h0M450.5 297h0M450.6 292.5h0M450.7 293.7h0M451.3 289.9h0M451.6 303.9h0M453.2 294.9h0M452.8 289.4h0M450.9 309.2h0M453.7 296h0M450.2 296.8h0M452.3 303.2h0M452.6 301.5h0M451 292.4h0M452.7 290h0M453.8 298.6h0M452.7 304.1h0M451.1 297.8h0M449.3 301.9h0M452.7 292.1h0M452.1 305.1h0M451.7 307.3h0M448.9 302.7h0M448.9 303.9h0M449.3 301.1h0M449.1 296.6h0M454.3 288.6h0M451.1 307.5h0M453.7 305.6h0M451 300.7h0M453.4 290.2h0M448.9 295.1h0M449.8 290.1h0M452.8 299.6h0M451.8 303.4h0M450.4 292.4h0M449.2 285.9h0M453.6 301.2h0M451.8 292.4h0M451.7 308h0M451.6 304.9h0M453.3 292.6h0M449.5 305.9h0M450.3 296.5h0M450.6 300.6h0M451.6 302.4h0M449.8 285.9h0M450.4 321.8h0" stroke="#12508c" stroke-width="2.00" stroke-linecap="round" fill="none"/>
<line x1="447.50" y1="298.71" x2="455.50" y2="298.71" stroke="#231f20" stroke-width="1.0"/>
<rect x="457.90" y="288.89" width="7.40" height="9.83" fill="#fcd5a4"/>
<line x1="461.60" y1="284.84" x2="461.60" y2="310.85" stroke="#555" stroke-width="0.5"/>
<path d="M460.8 287.7h0M460.7 290.1h0M458.9 292.8h0M459.6 289.4h0M460.5 288.3h0M462.7 304.3h0M464.3 299.4h0M464.2 302.1h0M461.8 290.7h0M463.9 291.3h0M462.1 291.7h0M460.2 285.7h0M462.2 293.9h0M461.1 293h0M463.9 297.6h0M460.6 302.6h0M458.9 303.8h0M459.4 298.5h0M462.4 289.5h0M462 293.5h0M461.4 292.9h0M463.4 286.4h0M462.9 288.4h0M462.8 287.4h0M460.4 293.3h0M462.5 290.1h0M462.9 292.2h0M459.2 291.5h0M459 294.4h0M461.3 286.8h0M462.5 295.2h0M460.2 295.1h0M460.4 286.8h0M460.2 305.4h0M462.1 294.3h0M463.9 302.2h0M459.1 289.9h0M461.3 290.7h0M460.5 298.4h0M461.4 285.3h0M459.2 288.7h0M463 293h0M462.7 307.3h0M462 291.5h0M459.1 299.7h0M459.4 299.6h0M460.4 306.1h0M459.1 288.7h0M460.2 307.2h0M462.2 294.2h0M464 299h0M459.2 291h0M459.6 288.5h0M461.2 289.1h0M463 291.9h0M459.6 297.1h0M461.2 299.9h0M459.4 285.4h0M464.3 285.1h0M461.4 296.9h0M461.6 298h0M459.7 304.1h0M460.1 292h0M461.9 299.2h0M459.9 287.5h0M459.8 288.1h0M459 290.5h0M459.6 292.3h0M462 306h0M460.9 287.2h0M460.4 296.9h0M460.9 300.2h0M459.3 295.6h0M460.4 300.2h0M463.1 297.6h0M461.8 298.1h0M463.4 300.6h0M459.9 308.6h0M464.3 296h0M464.2 292.6h0" stroke="#f7901e" stroke-width="2.00" stroke-linecap="round" fill="none"/>
<line x1="457.60" y1="292.93" x2="465.60" y2="292.93" stroke="#231f20" stroke-width="1.0"/>
<line x1="441.40" y1="327.30" x2="441.40" y2="329.50" stroke="#231f20" stroke-width="0.8"/>
<text x="444.30" y="330.70" font-size="8.0" fill="#231f20" text-anchor="end" textLength="17.0" lengthAdjust="spacingAndGlyphs" transform="rotate(-90 444.30 330.70)">−TNF</text>
<line x1="451.50" y1="327.30" x2="451.50" y2="329.50" stroke="#231f20" stroke-width="0.8"/>
<text x="454.40" y="330.70" font-size="8.0" fill="#1b5693" text-anchor="end" textLength="13.6" lengthAdjust="spacingAndGlyphs" transform="rotate(-90 454.40 330.70)">TRA</text>
<line x1="461.60" y1="327.30" x2="461.60" y2="329.50" stroke="#231f20" stroke-width="0.8"/>
<text x="464.50" y="330.70" font-size="8.0" fill="#f7901e" text-anchor="end" textLength="15.2" lengthAdjust="spacingAndGlyphs" transform="rotate(-90 464.50 330.70)">OSC</text>
<line x1="479.40" y1="280.60" x2="479.40" y2="327.30" stroke="#231f20" stroke-width="0.9"/>
<line x1="479.40" y1="327.30" x2="512.90" y2="327.30" stroke="#231f20" stroke-width="0.9"/>
<line x1="477.20" y1="315.70" x2="479.40" y2="315.70" stroke="#231f20" stroke-width="0.8"/>
<text x="476.40" y="318.40" font-size="7.6" fill="#231f20" text-anchor="end" textLength="4.3" lengthAdjust="spacingAndGlyphs">2</text>
<line x1="477.20" y1="302.60" x2="479.40" y2="302.60" stroke="#231f20" stroke-width="0.8"/>
<text x="476.40" y="305.30" font-size="7.6" fill="#231f20" text-anchor="end" textLength="4.3" lengthAdjust="spacingAndGlyphs">4</text>
<line x1="477.20" y1="289.50" x2="479.40" y2="289.50" stroke="#231f20" stroke-width="0.8"/>
<text x="476.40" y="292.20" font-size="7.6" fill="#231f20" text-anchor="end" textLength="4.3" lengthAdjust="spacingAndGlyphs">6</text>
<text x="495.90" y="279.40" font-size="8.6" fill="#231f20" text-anchor="middle">Birc3</text>
<rect x="482.10" y="296.71" width="7.40" height="9.17" fill="#d1d2d3"/>
<line x1="485.80" y1="286.23" x2="485.80" y2="318.98" stroke="#555" stroke-width="0.5"/>
<path d="M486.9 297.8h0M485.1 296.5h0M485.6 297.8h0M488.6 304.6h0M487.5 310.8h0M485.6 305.3h0M485.9 294h0M483 298.1h0M485.1 294.2h0M484 307.3h0M483.9 291h0M485.5 309.2h0M487.9 304.6h0M488 301.1h0M484.3 296.9h0M483.7 315h0M483.1 302.1h0M485.7 312.7h0M487.8 302.6h0M488.4 308h0M487.4 302.2h0M488.5 297.5h0M486.9 310.6h0M485.3 307h0M484.5 294h0M486 307.6h0M488.3 300.6h0M484.8 307.6h0M484 297.9h0M488.5 294.6h0M486.7 306h0M487.1 298h0M486.3 307.5h0M488.3 306.4h0M483 295.6h0M485.6 286.9h0M488 302h0M486.2 310.6h0M485.2 292.3h0M487.9 298.6h0M484.6 298.1h0M487.5 302.1h0M487.2 298.1h0M487.3 302.1h0M487.4 305.5h0M483.7 301.7h0M484.4 296.2h0M484.9 305.7h0M488.4 295.7h0M487.8 306.1h0M486.8 293.6h0M483.3 297.2h0M485.2 297.2h0M484.6 296.6h0M486.7 302.9h0M488 298h0M484.7 306.7h0M485.9 290.2h0M484.5 310.5h0M483.1 299.9h0M486.3 302h0M483.4 306.7h0M488.4 310.9h0M484.9 300.6h0M487 296.7h0M486.4 299h0M487 289.1h0M485.3 293.7h0M483.1 295.9h0M484.4 302.5h0M486.2 302.5h0M486.7 305.8h0M484.5 310.5h0M487.2 307.6h0M486.2 298.6h0M486.9 322.9h0" stroke="#8d8d8d" stroke-width="2.00" stroke-linecap="round" fill="none"/>
<line x1="481.80" y1="301.62" x2="489.80" y2="301.62" stroke="#231f20" stroke-width="1.0"/>
<rect x="492.20" y="292.12" width="7.40" height="7.20" fill="#a9bfd8"/>
<line x1="495.90" y1="282.95" x2="495.90" y2="314.39" stroke="#555" stroke-width="0.5"/>
<path d="M498.1 290.7h0M493.9 299.1h0M498.2 294.4h0M497.5 296.4h0M493.8 296.6h0M496.9 293.9h0M497.4 296.9h0M497.2 297.5h0M496.4 297h0M493.3 295.6h0M497.8 291.3h0M494.5 301.4h0M494.2 295.9h0M497.1 301.1h0M495.1 293.8h0M493.7 292.2h0M493.8 301.7h0M498.2 303h0M494 300.1h0M494.3 297.8h0M497.1 303h0M496.7 289.8h0M493.5 288.7h0M496.7 299.6h0M495.9 291.4h0M495.5 293.1h0M496.7 300.4h0M494.3 296.4h0M494.4 300.2h0M496.2 294.1h0M495.9 290.9h0M496.7 294.5h0M493.6 294h0M494.2 297.1h0M497.6 295.8h0M496.6 299.2h0M495.8 297.4h0M498.1 298h0M495.7 300.4h0M494.6 294.3h0M495.4 297.6h0M494 297.5h0M495.7 300.1h0M497.4 302.2h0M493.8 296h0M495 294.3h0M495.5 290.1h0M494.6 298.4h0M494.3 299.9h0M496.7 287.1h0M494.4 291.7h0M493.5 296.3h0M498.4 297.5h0M497.1 290h0M498.1 296h0M493.4 291.1h0M494.7 292h0M496.2 293.1h0M497.4 300.7h0M493.3 296.2h0M497.6 296.1h0M496.2 303.8h0M498.6 289.2h0M495.9 297.4h0M493.2 297.9h0M495.1 298.5h0M497.4 291.5h0M495.5 289.8h0M496.1 291.3h0M496.2 289.7h0M496 303h0M493.6 294.7h0M494.2 296.6h0M497.9 297.3h0M496.6 302.3h0M495.2 296.4h0M493.7 294.8h0M497.7 292.2h0M493.6 295.4h0M494.1 300.2h0M496.8 296.6h0M494.9 287.8h0M494.6 289.7h0M494.7 297.7h0M494.7 299.4h0M498.6 288.1h0M497.7 295.9h0M498.7 299.6h0M495.5 303.7h0M493.4 294.3h0M495.6 300.7h0M495.3 293.1h0M496.3 297.3h0M496.6 297.8h0M497.9 298.4h0M495.7 324.2h0" stroke="#12508c" stroke-width="2.00" stroke-linecap="round" fill="none"/>
<line x1="491.90" y1="296.05" x2="499.90" y2="296.05" stroke="#231f20" stroke-width="1.0"/>
<rect x="502.30" y="292.12" width="7.40" height="5.24" fill="#fcd5a4"/>
<line x1="506.00" y1="287.54" x2="506.00" y2="309.81" stroke="#555" stroke-width="0.5"/>
<path d="M504.2 289.8h0M508.4 292.9h0M506.2 293.4h0M507.4 296.5h0M504 301h0M504 296.1h0M505.7 292.4h0M506.6 291.1h0M506.7 298.2h0M503.3 294.1h0M503.6 292.9h0M505.8 292.8h0M506.4 296.9h0M506.1 295.2h0M507.4 289.3h0M505.5 295.6h0M503.8 297.2h0M507.6 290.7h0M506.2 300.6h0M503.7 287.8h0M506.1 299.7h0M506.2 297.5h0M503.9 295h0M505.2 298.6h0M508.2 294.6h0M506.8 297.6h0M507.8 296.9h0M506.8 296.3h0M506.9 299.7h0M507.9 293.7h0M507.5 292.2h0M506.1 293.6h0M506.3 293.8h0M506.4 301.9h0M503.9 301h0M504.7 291.2h0M503.5 292h0M504 297.3h0M506.2 296.3h0M504 293.2h0M504.7 295.2h0M505.3 290.7h0M503.8 299h0M507 290.7h0M508.5 295.4h0M505.5 293.1h0M505 296.3h0M503.8 302h0M505.2 292.6h0M508.2 297.3h0M508 291.4h0M507.8 299.8h0M507.3 296.9h0M503.3 292h0M505.5 298.3h0M505.1 297.6h0M504.8 293h0M508.2 293.2h0M507.1 290h0M507.5 293h0M504 288.7h0M506.2 293.3h0M507.9 295.8h0M505.5 292.1h0M506.4 295.8h0M503.4 291h0M506.6 289.9h0M505.7 300.8h0M506.5 294h0M506.9 291.8h0M506.6 292.2h0M505.7 299.6h0M507.4 290.8h0M503.3 292.8h0M503.4 291.7h0M504.1 294.4h0M504.1 293.6h0M505.5 292.2h0M505.5 291.6h0M504.2 292.4h0M508.3 313.7h0" stroke="#f7901e" stroke-width="2.00" stroke-linecap="round" fill="none"/>
<line x1="502.00" y1="294.74" x2="510.00" y2="294.74" stroke="#231f20" stroke-width="1.0"/>
<line x1="485.80" y1="327.30" x2="485.80" y2="329.50" stroke="#231f20" stroke-width="0.8"/>
<text x="488.70" y="330.70" font-size="8.0" fill="#231f20" text-anchor="end" textLength="17.0" lengthAdjust="spacingAndGlyphs" transform="rotate(-90 488.70 330.70)">−TNF</text>
<line x1="495.90" y1="327.30" x2="495.90" y2="329.50" stroke="#231f20" stroke-width="0.8"/>
<text x="498.80" y="330.70" font-size="8.0" fill="#1b5693" text-anchor="end" textLength="13.6" lengthAdjust="spacingAndGlyphs" transform="rotate(-90 498.80 330.70)">TRA</text>
<line x1="506.00" y1="327.30" x2="506.00" y2="329.50" stroke="#231f20" stroke-width="0.8"/>
<text x="508.90" y="330.70" font-size="8.0" fill="#f7901e" text-anchor="end" textLength="15.2" lengthAdjust="spacingAndGlyphs" transform="rotate(-90 508.90 330.70)">OSC</text>
<text x="377.60" y="295.90" font-size="8.8" fill="#231f20" textLength="96.9" lengthAdjust="spacingAndGlyphs" transform="rotate(-90 377.60 295.90)">log<tspan font-size="6" dy="1.6">2</tspan><tspan dy="-1.6">(normalized reads) [a.u.]</tspan></text>
<rect x="57.20" y="369.00" width="22.40" height="8.80" fill="#fff" stroke="#555" stroke-width="0.8"/>
<text x="68.40" y="375.80" font-size="7.4" fill="#231f20" text-anchor="middle" textLength="19.6" lengthAdjust="spacingAndGlyphs">−TNF</text>
<line x1="40.50" y1="379.40" x2="95.40" y2="379.40" stroke="#444" stroke-width="1.1"/>
<rect x="46.90" y="382.00" width="19.30" height="7.70" fill="#3a5ba8"/>
<text x="56.55" y="388.40" font-size="7.4" fill="#fff" text-anchor="middle" textLength="14.5" lengthAdjust="spacingAndGlyphs">TRA</text>
<rect x="68.50" y="382.00" width="19.70" height="7.70" fill="#f7901e"/>
<text x="78.35" y="388.40" font-size="7.4" fill="#231f20" text-anchor="middle" textLength="15.5" lengthAdjust="spacingAndGlyphs">OSC</text>
<rect x="57.50" y="463.60" width="21.80" height="7.60" fill="#e5168b"/>
<text x="68.40" y="469.90" font-size="7.4" fill="#fff" text-anchor="middle" textLength="19.0" lengthAdjust="spacingAndGlyphs">+TNF</text>
<line x1="40.50" y1="473.50" x2="95.40" y2="473.50" stroke="#444" stroke-width="1.1"/>
<rect x="51.60" y="476.20" width="14.40" height="7.40" fill="#fff" stroke="#231f20" stroke-width="0.8"/>
<text x="58.80" y="482.40" font-size="7.4" fill="#231f20" text-anchor="middle" textLength="11.4" lengthAdjust="spacingAndGlyphs">GM</text>
<rect x="68.60" y="476.20" width="9.30" height="7.40" fill="#39b54a"/>
<text x="73.25" y="482.40" font-size="7.4" fill="#231f20" text-anchor="middle" textLength="6.0" lengthAdjust="spacingAndGlyphs">M</text>
<rect x="37.50" y="392.40" width="64.20" height="62.90" fill="none" stroke="#231f20" stroke-width="1.0"/>
<line x1="65.50" y1="392.40" x2="65.50" y2="455.30" stroke="#444" stroke-width="0.9"/>
<line x1="37.50" y1="413.10" x2="101.70" y2="413.10" stroke="#444" stroke-width="0.9"/>
<line x1="34.60" y1="452.30" x2="37.50" y2="452.30" stroke="#231f20" stroke-width="0.8"/>
<text x="32.60" y="455.10" font-size="7.8" fill="#231f20" text-anchor="end" textLength="4.4" lengthAdjust="spacingAndGlyphs">0</text>
<line x1="34.60" y1="437.94" x2="37.50" y2="437.94" stroke="#231f20" stroke-width="0.8"/>
<text x="32.60" y="440.74" font-size="7.8" fill="#231f20" text-anchor="end" textLength="4.4" lengthAdjust="spacingAndGlyphs">2</text>
<line x1="34.60" y1="423.58" x2="37.50" y2="423.58" stroke="#231f20" stroke-width="0.8"/>
<text x="32.60" y="426.38" font-size="7.8" fill="#231f20" text-anchor="end" textLength="4.4" lengthAdjust="spacingAndGlyphs">4</text>
<line x1="34.60" y1="409.22" x2="37.50" y2="409.22" stroke="#231f20" stroke-width="0.8"/>
<text x="32.60" y="412.02" font-size="7.8" fill="#231f20" text-anchor="end" textLength="4.4" lengthAdjust="spacingAndGlyphs">6</text>
<line x1="34.60" y1="394.86" x2="37.50" y2="394.86" stroke="#231f20" stroke-width="0.8"/>
<text x="32.60" y="397.66" font-size="7.8" fill="#231f20" text-anchor="end" textLength="4.4" lengthAdjust="spacingAndGlyphs">8</text>
<path d="M51.2 412.1h0M52.7 414.3h0M51.9 422.4h0M54.9 431.9h0M62.5 435.1h0M72.4 426.7h0M73.9 422.4h0M73.9 415h0M67.3 404.8h0M68.7 407h0M70.2 410.7h0M71.7 402.6h0M73.9 401.9h0M76.1 404.1h0M78.2 401.2h0M79 399h0M80.4 398.2h0M81.9 397.5h0M82.6 401.2h0M85.6 398.2h0M86.3 406.3h0" stroke="#f7901e" stroke-width="3.00" stroke-linecap="round" fill="none"/>
<path d="M40.2 408.5h0M40.2 415h0M40.2 417.2h0M40.2 419.4h0M40.2 421.3h0M40.2 423.1h0M40.2 426h0M40.2 431.9h0M40.2 436.7h0M40.2 452.3h0M44.6 414.3h0M52.7 408.5h0M56.3 407.4h0M57 420.2h0M60 427.2h0M62.5 433.6h0M56.3 452.3h0M62.2 411.4h0M61.4 415h0M62.9 417.2h0M63.6 419.4h0M65.1 404.8h0M65.8 414.3h0M66.5 417.2h0M67.3 421.6h0M68.3 423.1h0M69.5 416.5h0M70.2 427.5h0M65.1 415.8h0M62.9 413.6h0M73.9 415h0M75.3 423.1h0M78.2 411.4h0M79.7 434.1h0M80.4 420.2h0M84.8 415h0M90.7 415h0M85.6 402.6h0M88.5 401.9h0M91.4 404.1h0M93.6 399h0M94.3 400.4h0M89.2 409.2h0M81.9 415h0M76.8 418.7h0M72.4 410.7h0M70.9 407h0M73.9 405.5h0M78.2 407h0M68 411.4h0M69.5 413.6h0M76.8 415h0M80.4 412.9h0M83.4 405.5h0" stroke="#12508c" stroke-width="3.00" stroke-linecap="round" fill="none"/>
<path d="M87.7 404.1h0M89.2 401.9h0M89.9 394.6h0M91.4 399.7h0M92.9 401.2h0M94.3 399.7h0M95.1 400.4h0M73.9 411.4h0M75.3 409.9h0M71.7 409.2h0M68.7 409.9h0M69.5 406.3h0M66.5 408.5h0M65.1 407.7h0M76.8 405.5h0M79.7 403.4h0M81.2 407h0M70.9 404.1h0M75.3 407h0M87.7 399h0M83.4 400.4h0" stroke="#f7901e" stroke-width="3.00" stroke-linecap="round" fill="none"/>
<rect x="37.50" y="486.40" width="64.20" height="63.60" fill="none" stroke="#231f20" stroke-width="1.0"/>
<line x1="65.50" y1="486.40" x2="65.50" y2="550.00" stroke="#444" stroke-width="0.9"/>
<line x1="37.50" y1="507.60" x2="101.70" y2="507.60" stroke="#444" stroke-width="0.9"/>
<line x1="34.60" y1="547.00" x2="37.50" y2="547.00" stroke="#231f20" stroke-width="0.8"/>
<text x="32.60" y="549.80" font-size="7.8" fill="#231f20" text-anchor="end" textLength="4.4" lengthAdjust="spacingAndGlyphs">0</text>
<line x1="34.60" y1="532.64" x2="37.50" y2="532.64" stroke="#231f20" stroke-width="0.8"/>
<text x="32.60" y="535.44" font-size="7.8" fill="#231f20" text-anchor="end" textLength="4.4" lengthAdjust="spacingAndGlyphs">2</text>
<line x1="34.60" y1="518.28" x2="37.50" y2="518.28" stroke="#231f20" stroke-width="0.8"/>
<text x="32.60" y="521.08" font-size="7.8" fill="#231f20" text-anchor="end" textLength="4.4" lengthAdjust="spacingAndGlyphs">4</text>
<line x1="34.60" y1="503.92" x2="37.50" y2="503.92" stroke="#231f20" stroke-width="0.8"/>
<text x="32.60" y="506.72" font-size="7.8" fill="#231f20" text-anchor="end" textLength="4.4" lengthAdjust="spacingAndGlyphs">6</text>
<line x1="34.60" y1="489.56" x2="37.50" y2="489.56" stroke="#231f20" stroke-width="0.8"/>
<text x="32.60" y="492.36" font-size="7.8" fill="#231f20" text-anchor="end" textLength="4.4" lengthAdjust="spacingAndGlyphs">8</text>
<line x1="39.40" y1="550.00" x2="39.40" y2="552.60" stroke="#231f20" stroke-width="0.8"/>
<text x="39.40" y="562.40" font-size="7.8" fill="#231f20" text-anchor="middle" textLength="4.4" lengthAdjust="spacingAndGlyphs">0</text>
<line x1="54.24" y1="550.00" x2="54.24" y2="552.60" stroke="#231f20" stroke-width="0.8"/>
<text x="54.24" y="562.40" font-size="7.8" fill="#231f20" text-anchor="middle" textLength="4.4" lengthAdjust="spacingAndGlyphs">2</text>
<line x1="69.08" y1="550.00" x2="69.08" y2="552.60" stroke="#231f20" stroke-width="0.8"/>
<text x="69.08" y="562.40" font-size="7.8" fill="#231f20" text-anchor="middle" textLength="4.4" lengthAdjust="spacingAndGlyphs">4</text>
<line x1="83.92" y1="550.00" x2="83.92" y2="552.60" stroke="#231f20" stroke-width="0.8"/>
<text x="83.92" y="562.40" font-size="7.8" fill="#231f20" text-anchor="middle" textLength="4.4" lengthAdjust="spacingAndGlyphs">6</text>
<line x1="98.76" y1="550.00" x2="98.76" y2="552.60" stroke="#231f20" stroke-width="0.8"/>
<text x="98.76" y="562.40" font-size="7.8" fill="#231f20" text-anchor="middle" textLength="4.4" lengthAdjust="spacingAndGlyphs">8</text>
<path d="M39.9 500.3h0M39.9 502.5h0M39.9 505.4h0M39.9 507.6h0M39.9 509.8h0M39.9 512h0M39.9 513.4h0M39.9 516.4h0M39.9 518.5h0M39.9 520.3h0M39.9 522.2h0M39.9 524.4h0M39.9 528.8h0M39.9 547.1h0M45.8 547.1h0M56.3 547.1h0M58.9 547.1h0M63.9 547.1h0M67.3 547.1h0M66.5 547.1h0M75.6 547.1h0M75.6 541.9h0M47.5 497.4h0M46.8 509h0M54.1 504.7h0M55.1 508h0M57.8 505.4h0M60 501h0M60.7 503.2h0M62.9 503.9h0M65.1 500.3h0M64.4 517.1h0M61.4 527.6h0M64.4 530h0" stroke="#231f20" stroke-width="3.75" stroke-linecap="round" fill="none"/>
<path d="M39.9 500.3h0M39.9 502.5h0M39.9 505.4h0M39.9 507.6h0M39.9 509.8h0M39.9 512h0M39.9 513.4h0M39.9 516.4h0M39.9 518.5h0M39.9 520.3h0M39.9 522.2h0M39.9 524.4h0M39.9 528.8h0M39.9 547.1h0M45.8 547.1h0M56.3 547.1h0M58.9 547.1h0M63.9 547.1h0M67.3 547.1h0M66.5 547.1h0M75.6 547.1h0M75.6 541.9h0M47.5 497.4h0M46.8 509h0M54.1 504.7h0M55.1 508h0M57.8 505.4h0M60 501h0M60.7 503.2h0M62.9 503.9h0M65.1 500.3h0M64.4 517.1h0M61.4 527.6h0M64.4 530h0" stroke="#fff" stroke-width="2.25" stroke-linecap="round" fill="none"/>
<path d="M68.3 500.3h0M70.6 500.3h0M68.3 504.7h0M72.4 503.9h0M73.9 505.4h0M77.1 507.1h0M79 500.3h0M79.7 497.4h0M80.4 501h0M81.9 496.6h0M83.4 495.5h0M84.8 497.4h0M86.3 498.1h0M87.7 494.4h0M87 504.7h0M92.9 495.2h0M76.8 506.1h0M85.6 496.6h0" stroke="#39b54a" stroke-width="3.00" stroke-linecap="round" fill="none"/>
<text x="19.60" y="498.00" font-size="8.6" fill="#231f20" textLength="68.6" lengthAdjust="spacingAndGlyphs" transform="rotate(-90 19.60 498.00)">log<tspan font-size="6" dy="1.6">2</tspan><tspan dy="-1.6">(CD115) [a.u.]</tspan></text>
<text x="41.30" y="574.60" font-size="8.6" fill="#231f20" textLength="56.2" lengthAdjust="spacingAndGlyphs">log<tspan font-size="6" dy="1.6">2</tspan><tspan dy="-1.6">(CD14) [a.u.]</tspan></text>
<rect x="162.50" y="385.00" width="80.80" height="8.90" fill="#000"/>
<text x="165.00" y="392.20" font-size="7.8" fill="#fff" textLength="75.0" lengthAdjust="spacingAndGlyphs">TRA vs. OSC: p&lt;0.05</text>
<rect x="162.50" y="395.00" width="98.50" height="18.30" fill="#29a8df"/>
<text x="165.00" y="402.60" font-size="7.8" fill="#231f20" textLength="93.5" lengthAdjust="spacingAndGlyphs">TRA vs. OSC: p&lt;0.05 and</text>
<text x="165.00" y="411.00" font-size="7.8" fill="#231f20" textLength="64.5" lengthAdjust="spacingAndGlyphs">M vs. GM: p&gt;0.05</text>
<clipPath id="fclip"><rect x="162.3" y="414.7" width="96.09999999999997" height="98.09999999999997"/></clipPath><g clip-path="url(#fclip)">
<path d="M198.7 505.4h0.8M248.9 453.2h0.8M239.8 479.8h0.8M244.8 447h0.8M176.8 454.8h0.8M231.6 467.7h0.8M204.1 462.1h0.8M189.3 448.4h0.8M194.9 496.8h0.8M184.1 505.4h0.8M215.6 500.8h0.8M206.7 506.2h0.8M203.3 423.2h0.8M211.9 489.4h0.8M242.8 489.8h0.8M190.3 477h0.8M194.8 488.3h0.8M244.9 502.3h0.8M230.4 484.5h0.8M184 466h0.8M234.4 492.3h0.8M222.5 491.6h0.8M189.9 503.1h0.8M173.7 421.1h0.8M238.9 429.8h0.8M204 495.5h0.8M244 474.4h0.8M193.1 449.7h0.8M170.7 490.7h0.8M215.3 422.4h0.8M170.9 438.2h0.8M230.5 457h0.8M177.8 473.5h0.8M185.6 469h0.8M172.3 499h0.8M198.7 445.1h0.8M192.4 465.8h0.8M220.3 453.3h0.8M185.8 502.4h0.8M246.9 474.1h0.8M183.2 450.8h0.8M176.4 469.5h0.8M246.9 446.7h0.8M206.2 504.3h0.8M184.9 498.2h0.8M242.3 448.5h0.8M238.4 424.5h0.8M179.8 470.6h0.8M173.4 426.3h0.8M215.2 479.5h0.8M231.6 465.1h0.8M179.1 446.7h0.8M170 451h0.8M244.4 453h0.8M208.4 483h0.8M231.4 465.9h0.8M219.6 420.3h0.8M195.8 496.3h0.8M238.1 426.1h0.8M232.7 491.5h0.8M208.9 447.3h0.8M249.9 496.7h0.8M172.9 463.4h0.8M192.5 466.8h0.8M234.2 433.3h0.8M186.9 495.8h0.8M188.6 467.5h0.8M210.8 435.9h0.8M217.7 438h0.8M171.3 463.8h0.8M188.9 485.1h0.8M243.4 503.6h0.8M202.4 486.9h0.8M175.8 477.7h0.8M183 482.7h0.8M195.6 458.9h0.8M221.7 467.5h0.8M219.5 504.4h0.8M172.1 432.5h0.8M195.8 464.6h0.8M232.1 436.9h0.8M176.6 462.6h0.8M195.6 438.9h0.8M205.4 423.6h0.8M229.5 461.5h0.8M196.7 478.4h0.8M197.4 434.1h0.8M197.7 433.3h0.8M196.1 494.2h0.8M196.4 457.3h0.8M188.4 423.5h0.8M203.2 444.6h0.8M199 452.1h0.8M241.2 492h0.8M207.6 440h0.8M198.4 458.1h0.8M172.8 470.6h0.8M241.3 433.7h0.8M193.5 451.5h0.8M195.3 435.2h0.8M205.1 466.4h0.8M238.7 455.9h0.8M195.4 447.6h0.8M235.8 419h0.8M180.9 430.3h0.8M195.9 479.6h0.8M219.6 421.2h0.8M219.8 430.4h0.8M194.1 449.2h0.8M213.4 436.4h0.8M230.2 473h0.8M211 446.9h0.8M231.2 486h0.8M210.9 447.3h0.8M187.7 445.8h0.8M208.2 488.4h0.8M228.3 505.5h0.8M248.2 450.1h0.8M238 454h0.8M198.3 457.2h0.8M194.7 444.4h0.8M200.6 497.7h0.8M172.4 484.3h0.8M223.1 497.7h0.8M210.5 467.1h0.8M226.5 468.8h0.8M205.1 493.1h0.8M196.7 488.6h0.8M206.2 427.3h0.8M218.5 433.5h0.8M222.7 504.1h0.8M238.9 495.7h0.8M248.8 421.7h0.8M245.3 494.6h0.8M178.9 422.8h0.8M235.1 462.1h0.8M186.7 463.1h0.8M233.9 502.4h0.8M199.8 492.2h0.8M221.2 449.8h0.8M242.2 488.9h0.8M222.4 447.4h0.8M233.8 431h0.8M173 448.8h0.8M218.1 481.1h0.8M249.6 480.2h0.8M203.5 427h0.8M195.6 451.5h0.8M245.8 463h0.8M246.4 486.1h0.8M175.3 433.2h0.8M202 469.2h0.8M233.1 508.3h0.8M188.8 502.7h0.8M249.9 498.3h0.8M218.9 443.2h0.8M202.9 432.7h0.8M196 434.6h0.8M174.5 463.7h0.8M227.3 426.4h0.8M221.7 452.4h0.8M196.8 482.7h0.8M211.4 503.8h0.8M226.8 454.4h0.8M225 420.5h0.8M172.8 487.5h0.8M185.9 435.8h0.8M171.4 492.8h0.8M246.3 435.8h0.8M228.9 490.5h0.8M189.8 450.5h0.8M188.9 491.6h0.8M225.9 445.9h0.8M227.9 470.2h0.8M218.3 483.7h0.8M225.9 422.7h0.8M247.9 506.4h0.8M236.3 426.5h0.8M238.1 438.1h0.8M196.4 471.8h0.8M191.5 460.8h0.8M226.3 457h0.8M227.3 483.3h0.8M247.7 447.5h0.8M233.9 447.5h0.8M236.9 441.5h0.8M225.4 431h0.8M233.6 443.6h0.8M219 418.5h0.8M200.7 463h0.8M231.3 500.6h0.8M243.6 447.1h0.8M228.3 452.7h0.8M228.3 453.3h0.8M177.8 424h0.8M189.2 482h0.8M212.1 494.2h0.8M221.5 479.9h0.8M226.5 428.9h0.8M245.9 447.5h0.8M171.7 438h0.8M196.6 455h0.8M195.2 490.2h0.8M192.9 441.9h0.8M198.8 498h0.8M245.4 426.2h0.8M242.9 456.3h0.8M200.9 496.4h0.8M238.9 489.9h0.8M188.8 455.2h0.8M209.7 485.2h0.8M171.8 433.8h0.8M217.4 469.8h0.8M216 426.1h0.8M192.7 436.9h0.8M224.7 493h0.8M217 440h0.8M227.9 461.2h0.8M192 453.6h0.8M204 473.4h0.8M217.4 418.5h0.8M194.4 488.4h0.8M202.9 452.4h0.8M184.4 468.7h0.8M220.9 491.3h0.8M178.6 460.8h0.8M193.7 423.9h0.8M224.5 505.9h0.8M170.7 426.4h0.8M171.1 478.9h0.8M224.2 493h0.8M186.8 477.5h0.8M184.8 484.5h0.8M249.7 421h0.8M216.9 492.7h0.8M220.4 481.5h0.8M233.6 506.3h0.8M195.6 504h0.8M170.6 464.4h0.8M217.4 500.4h0.8M242.8 436.9h0.8M218.3 479.3h0.8M216.3 421.8h0.8M245.6 451.7h0.8M232.4 492.6h0.8M183.5 419.2h0.8M229.9 484.4h0.8M197.2 492.3h0.8M170.9 466.3h0.8M241.2 497.2h0.8" stroke="#c8c8c8" stroke-width="0.8" fill="none"/>
<path d="M206.9 432.1h0.9M200.6 456.2h0.9M200.6 433h0.9M202 459.3h0.9M202.4 439.2h0.9M214.6 412.2h0.9M208.5 435.2h0.9M198.4 471.2h0.9M211.2 447.2h0.9M207 446.3h0.9M204.6 432.2h0.9M216.6 425.3h0.9M198.7 468.4h0.9M204 448.1h0.9M201.9 490.6h0.9M210 449h0.9M195.6 471.1h0.9M207 460.7h0.9M210.1 451.8h0.9M201.8 469.5h0.9M212.2 446.2h0.9M207.6 454.1h0.9M201.1 481.1h0.9M198.8 450.9h0.9M206.6 457.3h0.9M206.8 460.8h0.9M204.7 462.5h0.9M208.6 454.1h0.9M203 441.8h0.9M209.9 437.3h0.9M209.4 425.7h0.9M208.2 449.2h0.9M209.8 436.7h0.9M202.9 452.6h0.9M204.7 453.1h0.9M207.9 435.6h0.9M219.3 438.7h0.9M203.3 448.6h0.9M210.9 430.6h0.9M204.8 457.5h0.9M205 431.8h0.9M210.7 436h0.9M208.3 439.6h0.9M189.6 478.6h0.9M206.6 448.2h0.9M216.8 429.7h0.9M208.9 448h0.9M211.6 460.6h0.9M204.7 442.4h0.9M203.5 433.2h0.9M197.2 478.9h0.9M215.7 426.2h0.9M194.5 478.2h0.9M198.5 451.3h0.9M211.8 422.1h0.9M203.5 434.3h0.9M208 452.2h0.9M213.6 448.7h0.9M206.3 442.3h0.9M215.1 465.1h0.9M204.1 482.1h0.9M198.1 454h0.9M200.3 473.9h0.9M198.1 486.7h0.9M218.8 422.6h0.9M202.3 454.4h0.9M205.4 454.2h0.9M195.1 456.3h0.9M208.2 452.3h0.9M217.3 433.3h0.9M195.2 449.5h0.9M198.2 475.9h0.9M204.6 452.6h0.9M199.3 481.1h0.9M204.8 441.4h0.9M207.2 460.6h0.9M213.4 441.9h0.9M209.2 441.7h0.9M205.6 460h0.9M206.5 456h0.9M208.9 444.4h0.9M197.9 457.1h0.9M212.6 430.5h0.9M206.9 451.6h0.9M205.4 463.2h0.9M210.7 443.9h0.9M217.9 441.4h0.9M202.3 467.6h0.9M210.9 442.2h0.9M202.3 449.6h0.9M204.7 459.8h0.9M201.9 464.9h0.9M208.7 480.8h0.9M200.3 428.2h0.9M217.7 437.9h0.9M204.4 461.9h0.9M198.3 456.3h0.9M199.7 454.9h0.9M203.2 455.5h0.9M204.9 444.3h0.9M214.4 461h0.9M215.9 426.4h0.9M215.7 446.1h0.9M197.5 468.9h0.9M213.4 453.4h0.9M196.8 476.9h0.9M211 437h0.9M206.4 472.1h0.9M207.7 457h0.9M204.4 460h0.9M212.9 438.5h0.9M209.3 458.4h0.9M203.2 451.6h0.9M208 463.3h0.9M192.4 478.8h0.9M206.2 445.3h0.9M185.8 484.3h0.9M198.3 466.1h0.9M214.2 436.5h0.9M185.9 463.4h0.9M210.2 433.4h0.9M213.8 444.3h0.9M207.3 439.5h0.9M216.5 419h0.9M209.8 452.3h0.9M218.4 441.3h0.9M217.7 442h0.9M194.5 478.9h0.9M201.6 454.6h0.9M215.1 424.7h0.9M213.1 451.8h0.9M190.9 475.3h0.9M209.1 446.8h0.9M203.7 464.1h0.9M207.2 439.6h0.9M196.4 461h0.9M203.4 430.9h0.9M215.2 441h0.9M211.2 443.9h0.9M207.6 471.1h0.9M204.3 454.3h0.9M204.1 450.1h0.9M210.8 439.9h0.9M199.4 464.3h0.9M208.7 437.2h0.9M210 450.9h0.9M205.6 453.6h0.9M208.5 427.9h0.9M203.4 445.7h0.9M204.2 457.3h0.9M210.7 439h0.9M214.6 467.7h0.9M203.4 449.5h0.9M212 463.4h0.9M211.2 442.4h0.9M211.4 447.4h0.9M205.8 440.3h0.9M205.8 446.7h0.9M208.7 431.9h0.9M218.8 438.4h0.9M197.7 471h0.9M209.3 443.6h0.9M204.6 442.5h0.9M209.4 460.7h0.9M211.7 457.8h0.9M204.9 451.4h0.9M204.7 444.7h0.9M216.2 438.8h0.9M201.8 464h0.9M200.6 451.6h0.9M202.5 459.9h0.9M204.6 448.1h0.9M207.8 428.3h0.9M195.8 473.1h0.9M207.5 436.8h0.9M203.5 436.4h0.9M204.4 433.1h0.9M193.1 450.2h0.9M203.3 429h0.9M200.6 450.4h0.9M199.8 455.9h0.9M192.4 465.9h0.9M192.4 477.5h0.9M201.2 445h0.9M214.6 446.1h0.9M200 462.3h0.9M213.3 457.5h0.9M201.8 459.8h0.9M206.8 455.9h0.9M208.7 424.4h0.9M215.4 451.6h0.9M204.6 461.1h0.9M208.8 427.1h0.9M211.5 428.4h0.9M212.1 442h0.9M206 450.3h0.9M209.7 455.5h0.9M204.1 445.7h0.9M222.2 453.1h0.9M203.3 442.2h0.9M196.1 456.1h0.9M197.6 459.1h0.9M205.4 446.2h0.9M211.3 437.8h0.9M211.2 450.7h0.9M201.4 459.3h0.9M206.7 461.5h0.9M206.5 452.8h0.9M198.4 467.4h0.9M202.7 469.5h0.9M209.6 459.2h0.9M191.5 490.3h0.9M216.5 430.3h0.9M207.3 445.1h0.9M216.8 429.1h0.9M196.1 455.4h0.9M202 465.9h0.9M198 443.1h0.9M194.4 478.2h0.9M200 460.8h0.9M214.6 436.3h0.9M206.8 460.6h0.9M210.1 444.2h0.9M211.1 459.9h0.9M208 449.4h0.9M190.6 462h0.9M213.2 455h0.9M205.6 460.4h0.9M210 462.3h0.9M208.2 425.3h0.9M201.2 437.7h0.9M197.4 465.3h0.9M208.7 452.6h0.9M193.8 468.5h0.9M200.3 428.7h0.9M199.3 456.8h0.9M209.7 457.5h0.9M193.7 478.6h0.9M205.4 453.1h0.9M217 420.2h0.9M193.8 471.9h0.9M205.2 460.5h0.9M199.4 453.7h0.9M222.2 435.2h0.9M202.5 468.5h0.9M196 468.5h0.9M200.8 460.4h0.9M209.1 412.6h0.9M207.6 462h0.9M203.6 460.1h0.9M195.9 454.9h0.9M223 449h0.9M202.6 452.8h0.9M197.8 482.2h0.9M206.8 447.6h0.9M197.7 455.5h0.9M203.6 451h0.9M213.4 424.2h0.9M202.7 450h0.9M213 443.3h0.9M220.2 407.4h0.9M205.5 452h0.9M205.2 445.2h0.9M197.9 463.4h0.9M192.4 477.5h0.9M202.5 459.6h0.9M204 475h0.9M213.8 425.9h0.9M211.2 436.7h0.9M200.9 449.8h0.9M209.5 436.1h0.9M204.5 448.6h0.9M212 432h0.9M197.9 438.4h0.9M222.1 424.8h0.9M201.6 446.9h0.9M206.9 438.1h0.9M205.2 449.3h0.9M200 462.6h0.9M204.5 457.6h0.9M210.9 445h0.9M199.5 458.9h0.9M201.1 461.7h0.9M221.8 430.5h0.9M190.6 473.5h0.9M206.2 455.5h0.9M202.2 446.6h0.9M206.1 456.5h0.9M211.4 445.5h0.9M197 428h0.9M211.3 464.2h0.9M205.5 426.3h0.9M197.4 484.6h0.9M208.6 467.9h0.9M200 453.4h0.9M201.8 476.1h0.9M203.2 433.6h0.9M196.6 452.2h0.9M201.3 485.7h0.9M201.2 464.7h0.9M191.3 459.1h0.9M210.7 438.9h0.9M205 430.3h0.9M214.9 431.4h0.9M201 465.2h0.9M202.6 458.2h0.9M205.5 427.6h0.9M210.7 441.1h0.9M211.5 448.8h0.9M212.2 439.3h0.9M213 452h0.9M209.6 453.3h0.9M215.9 419.1h0.9M209.6 449.7h0.9M197.9 454.3h0.9M209.1 480.5h0.9M211.7 457.7h0.9M215.6 453.3h0.9M214.8 436.8h0.9M196 457.8h0.9M211.2 446.5h0.9M206.2 435.4h0.9M204.1 450h0.9M205.7 452.3h0.9M201.9 454.4h0.9M199.7 451.5h0.9M198.8 471.7h0.9M202.8 455.2h0.9M199.8 462.8h0.9M202 479.9h0.9M213.2 453.5h0.9M202.7 467.3h0.9M210.8 435.2h0.9M200.4 457h0.9M202.3 458.8h0.9M202.1 463.3h0.9M197.9 436.1h0.9M198.9 438.8h0.9M205.5 484.7h0.9M202.8 473h0.9M194.7 462.7h0.9M199 448.3h0.9M203 461.9h0.9M195.1 474.2h0.9M210.1 457.3h0.9M208.9 443.4h0.9M193 469h0.9M204.3 451.3h0.9M194.3 446.9h0.9M194.9 444.3h0.9M198.4 473.9h0.9M201.3 450.6h0.9M200.7 453h0.9M211 449.9h0.9M207.6 449.7h0.9M207.7 458.3h0.9M206.7 451.9h0.9M196.1 448.7h0.9M216.1 439.5h0.9M204.2 453.8h0.9M206.7 433.3h0.9M212.7 466.4h0.9M197.9 457.5h0.9M209.9 423.6h0.9M203 480h0.9M208 438.6h0.9M212.9 450.1h0.9M206.6 473.9h0.9M218.4 424.4h0.9M197 476.7h0.9M206.4 460h0.9M201.9 426.8h0.9M204.4 441.2h0.9M198.7 457.3h0.9M205.8 437.3h0.9M198.9 470.9h0.9M206.9 468h0.9M209.5 443.8h0.9M208.7 439.5h0.9M202.3 461.3h0.9M206 449.8h0.9M215 444h0.9M211 429.1h0.9M206.7 432.7h0.9M218.6 449.8h0.9M205.2 449.2h0.9M201.8 455.9h0.9M214.2 432.5h0.9M202.1 458.6h0.9M213.3 446.1h0.9M201.8 444.3h0.9M192.5 439h0.9M204.8 465.2h0.9M194.4 458.5h0.9M201.4 464.3h0.9M213.9 451.4h0.9M194.2 463.9h0.9M207 443.6h0.9M202.6 447.7h0.9M205.6 452.2h0.9M212.1 443.4h0.9M207.8 435.6h0.9M210.2 430.1h0.9M212.2 462.3h0.9M200 438.1h0.9M207.1 434h0.9M196.2 462.7h0.9M217.5 448.2h0.9M208.9 455.5h0.9M198.7 458.9h0.9M211.1 469.7h0.9M205.8 448.8h0.9M211.8 443.5h0.9M215.5 446.8h0.9M207.9 452.1h0.9M197.3 463.7h0.9M214.7 420.4h0.9M198.8 439.1h0.9M211.3 444.8h0.9M213.1 442.9h0.9M206.2 442.4h0.9M208.1 418.8h0.9M205.3 451.2h0.9M211.8 430.3h0.9M201.3 494.8h0.9M197.9 455.7h0.9M209.9 430h0.9M213.8 435.7h0.9M208.8 437.4h0.9M207.4 446.1h0.9M205.2 442.8h0.9M209.1 450.4h0.9M199.7 451.3h0.9M206.3 435.5h0.9M205.9 439.1h0.9M215.5 449.7h0.9M203 449.9h0.9M207.7 460h0.9M200.4 454.8h0.9M211 453.7h0.9M210.7 430.2h0.9M212.3 444.9h0.9M199 476.4h0.9M211.4 454.7h0.9M212.7 475.5h0.9M218.8 449.1h0.9M209.1 453.5h0.9M211.6 443.9h0.9M212.3 442.9h0.9M208.7 445.1h0.9M203.5 435.2h0.9M208.4 452.6h0.9M204.4 460.5h0.9M209.8 430.4h0.9M196 477h0.9M207.9 457.5h0.9M207.3 453.1h0.9M202.7 469.7h0.9M192.3 491h0.9M203.8 462.5h0.9M218.7 433.5h0.9M206.3 464.2h0.9M194.7 469.6h0.9M210 458.9h0.9M204 448h0.9M196.1 465.9h0.9M211.6 442.2h0.9M205.7 478.7h0.9M211 458.4h0.9M200.2 444.7h0.9M200.8 454.7h0.9M203.7 446.1h0.9M198.4 444.8h0.9M213.2 427.6h0.9M205.2 450.1h0.9M208.9 453.7h0.9M198.5 441.1h0.9M217.2 455.4h0.9M210.1 456.5h0.9M200.5 458.4h0.9M203.8 454.1h0.9M217.7 443.8h0.9M204.5 447h0.9M210.5 432.9h0.9M200.1 485.5h0.9M199.8 485.3h0.9M200 443.8h0.9M210.6 443.5h0.9M215 414.2h0.9M206.1 465.3h0.9M204.2 419.6h0.9M195.3 441h0.9M201.4 446.3h0.9M204.3 455.2h0.9M204.9 451.2h0.9M205.8 455.3h0.9M214.8 425.8h0.9M197.1 457.2h0.9M211.1 442.8h0.9M210.2 438.4h0.9M210.1 429.7h0.9M206 480.2h0.9M209.1 472.1h0.9M205.5 452.5h0.9M201.6 464.2h0.9M216.4 431.3h0.9M205.3 469.2h0.9M198.4 462.9h0.9M204.3 459.8h0.9M201.6 458.3h0.9M199.6 445.4h0.9M197.2 454.5h0.9M209.6 425h0.9M202.4 449.3h0.9M204.9 469.2h0.9M206.7 431.5h0.9M224 439.9h0.9M205.5 438.4h0.9M207.8 455.9h0.9M214.8 448h0.9M216.5 427.9h0.9M218.2 439.2h0.9M199.2 473.2h0.9M200.6 454.8h0.9M210.5 437h0.9M222 418.6h0.9M222.7 431.9h0.9M201.8 449.9h0.9M211.6 436.7h0.9M217.4 416.1h0.9M203.6 439.7h0.9M206.1 439.3h0.9M207.4 461.4h0.9M194.4 460.7h0.9M202.6 472.1h0.9M197.6 453.5h0.9M201.6 463.6h0.9M208.8 458.9h0.9M200.6 480.5h0.9M213.4 430.5h0.9M210 432.9h0.9M216.9 432.4h0.9M185.9 483.4h0.9M206.9 435.9h0.9M208 416.8h0.9M206.9 450h0.9M212.5 421.6h0.9M207.8 459.8h0.9M203.7 436.5h0.9M216.7 438.9h0.9M195.7 461.9h0.9M202.4 456.9h0.9M211.8 438.1h0.9M212.3 447.4h0.9M196.8 473.7h0.9M211.7 459.8h0.9M203.9 444.6h0.9M209.3 446.8h0.9M213.9 427.8h0.9M211.4 443.6h0.9M220.4 452.6h0.9M211.7 451.3h0.9M211.7 453.3h0.9M193.6 457.1h0.9M206.8 421h0.9M215.2 445.7h0.9M210.8 443.4h0.9M210 443.1h0.9M204.9 445h0.9M198.6 445.1h0.9M203.1 465.8h0.9M202.3 438.7h0.9M205.6 449.4h0.9M202.9 451h0.9M201 476.1h0.9M209.4 442.2h0.9M207.8 460.5h0.9M205.1 449.2h0.9M208.9 434.9h0.9M199.1 462.2h0.9M209.7 461.6h0.9M205.8 456.9h0.9M197.9 466.6h0.9M210.3 445h0.9M208 460.9h0.9M219.5 419.6h0.9M210.2 436.6h0.9M208.8 438.6h0.9M209.2 436.3h0.9M209.9 455.5h0.9M203.3 452.3h0.9M204.3 424.3h0.9M205.9 437.2h0.9M195.5 467.5h0.9M206.1 450.9h0.9M199.5 465.3h0.9M206.5 450.6h0.9M213.5 456h0.9M205.5 444.3h0.9M195.9 452.6h0.9M205.9 468.7h0.9M212.2 443.8h0.9M213.4 446.9h0.9M205.7 483.5h0.9M212.6 477.8h0.9M203.2 466.4h0.9M224 444.7h0.9M232.2 417.5h0.9M208.9 446.1h0.9M208.1 447.3h0.9M208.1 442.3h0.9M208.4 452.8h0.9M226.1 430.4h0.9M208.9 430.6h0.9M198.9 458.8h0.9M205.3 449.9h0.9M210.6 423.2h0.9M209.1 446.5h0.9M195.7 474.1h0.9M209 448.2h0.9M213 438.6h0.9M217.1 449h0.9M207.9 426h0.9M211.9 416.3h0.9M203.6 439.6h0.9M213.6 421.8h0.9M204.1 437.5h0.9M212 466.7h0.9M196.6 430.8h0.9M209.8 442.8h0.9M204.5 464h0.9M208.4 439.9h0.9M202.6 449.7h0.9M202.5 458.8h0.9M207.6 454.4h0.9M193.1 458.7h0.9M202.9 447.2h0.9M195.7 463.4h0.9M217.8 450.6h0.9M201.2 452.1h0.9M206.1 449.3h0.9M206.1 456h0.9M198.7 458h0.9M204.8 424.4h0.9M209.2 449.4h0.9M219.3 448.2h0.9M207.7 449.3h0.9M205 464.6h0.9M201.4 459.4h0.9M200.1 453.7h0.9M200 471.5h0.9M210.4 452.2h0.9M208.2 436.4h0.9M218.2 415.5h0.9M203.8 465h0.9M194.2 450.3h0.9M199.6 461.6h0.9M219.4 431.2h0.9M207.4 417.7h0.9M208 469.9h0.9M189.8 444.8h0.9M213.3 451.2h0.9M198.6 461h0.9M207.9 467.4h0.9M207.6 455.8h0.9M201.6 468.1h0.9M194.5 486h0.9M207.4 457.9h0.9M202.2 452h0.9M206 456.6h0.9M192.2 473.2h0.9M199.5 461.4h0.9M212.2 452.7h0.9M204.2 461.4h0.9M188.1 490.1h0.9M210.4 443.8h0.9M203.8 426.3h0.9M207 434.4h0.9M201.1 439.2h0.9M211.4 447.5h0.9M210.6 434.6h0.9M203.3 461.1h0.9M202.4 470.1h0.9M195.4 486.8h0.9M213.7 483.5h0.9M201.1 461.1h0.9M209.4 451.6h0.9M210.9 432.2h0.9M211.1 455.5h0.9M207.2 442.7h0.9M204.5 446.8h0.9M208.9 441.8h0.9M208.6 463.4h0.9M198 457.8h0.9M206.9 457.6h0.9M197.5 464.2h0.9M211.7 448.8h0.9M208.7 463.4h0.9M200.1 477.5h0.9M209.6 455.8h0.9M204.2 456.4h0.9M215 439.7h0.9M202.7 432.1h0.9M198.7 457.9h0.9M201.3 453.2h0.9M194.2 457.8h0.9M200.7 476.8h0.9M209.1 446.7h0.9M207.5 458.5h0.9M193.1 462.6h0.9M204.3 441.7h0.9M209.9 449.7h0.9M205.1 466h0.9M201.6 435h0.9M194.2 452.3h0.9M207.1 428.9h0.9M203.8 435.7h0.9M203.1 452.3h0.9M204.2 461.5h0.9M212.4 438.1h0.9M204.6 471.2h0.9M204.4 441.6h0.9M200.9 460.5h0.9M224.2 429.8h0.9M209.5 451.1h0.9M204.4 464.9h0.9M205.9 439.1h0.9M207.4 431.4h0.9M210.5 404.4h0.9M203.6 451.2h0.9M196.5 471.4h0.9M194.2 454.8h0.9M201 457.8h0.9M214.6 433.4h0.9M210.5 425.8h0.9M214.2 430h0.9M211.6 441.8h0.9M203.8 440.5h0.9M212.7 440.6h0.9M211.4 441.3h0.9M213.9 437.2h0.9M207.7 460.5h0.9M203.3 443.2h0.9M200.7 454.4h0.9M211 435.2h0.9M213.5 442.6h0.9M191.9 479.2h0.9M207.7 471.4h0.9M203.9 439.2h0.9M209.2 454.5h0.9M208.7 443.7h0.9M192.4 473.3h0.9M204.1 457.1h0.9M213.1 471.9h0.9M206.2 440.9h0.9M199.2 448.1h0.9M195.7 446.4h0.9M210.1 452.2h0.9M198.5 431h0.9M208.9 431.1h0.9M206.6 448.1h0.9M198.2 465.8h0.9M207.5 453.3h0.9M215.5 425.6h0.9M193.9 464.9h0.9M198.8 472.6h0.9M209.8 449.7h0.9M206.7 435.8h0.9M217.1 459.2h0.9M205.1 460.2h0.9M210.6 457.4h0.9M202.5 449.3h0.9M213 457h0.9M198.9 465.5h0.9M197.7 468h0.9M209.1 439.5h0.9M210.7 452.7h0.9M197.3 470.5h0.9M194.4 451.3h0.9M200.1 458.8h0.9M206.5 452.5h0.9M204 446.8h0.9M194.3 456.7h0.9M211 466.4h0.9M213.6 443.9h0.9M204 453.7h0.9M209.6 453h0.9M191.9 467.6h0.9M208.3 444.2h0.9M200.3 457h0.9M203.8 421.5h0.9M197.6 453.1h0.9M204.8 437.3h0.9M208.2 435.4h0.9M195.6 443.6h0.9M204 462h0.9M200.5 435.8h0.9M206.6 437.1h0.9M213.2 453h0.9M204.6 462h0.9M197.9 458.9h0.9M205.5 443.8h0.9M204.3 476.6h0.9M207.5 464h0.9M205.8 438.1h0.9M214.3 441.2h0.9M206.1 445.1h0.9M215.9 438.7h0.9M205.5 441.5h0.9M208.5 435.5h0.9M205.6 458.8h0.9M196.8 456.3h0.9M212.2 446.9h0.9M207.4 452.2h0.9M211.4 449h0.9M208.5 445.8h0.9M199.1 455.3h0.9M201.4 473h0.9M207 468.7h0.9M212.1 433.9h0.9M218.6 432.6h0.9M208.9 449.1h0.9M208.3 429.2h0.9M211.9 453.6h0.9M203.4 449.9h0.9M199.9 458.9h0.9M208.6 438.9h0.9M197.4 455.7h0.9M211.2 439.6h0.9M200.6 453.3h0.9M207.1 451.7h0.9M193 472.1h0.9M186.6 466h0.9M217.7 422h0.9M204.7 443h0.9M211.6 443.1h0.9M211 445.9h0.9M221.1 431.6h0.9M204.2 466.9h0.9M195.6 453.3h0.9M201.7 478.2h0.9M215 442.6h0.9M205.8 427.6h0.9M196.1 473h0.9M207.9 458.4h0.9M208.5 449.7h0.9M209.6 451.2h0.9M199.9 471.8h0.9M189.8 478h0.9M195.3 466.7h0.9M211.5 443.2h0.9M217.1 426.1h0.9M213.3 445.7h0.9M203.2 452.7h0.9M205.2 449.3h0.9M214.2 450.6h0.9M196.7 434h0.9M200.4 433.9h0.9M201.3 454.2h0.9M204.7 455.1h0.9M200.4 450.5h0.9M210.4 452.4h0.9M194.7 447.7h0.9M214.8 421.1h0.9M218.7 436.9h0.9M197.7 472.6h0.9M211 443.2h0.9M209.2 469.2h0.9M201.2 455.9h0.9M210.6 471.4h0.9M198 459.6h0.9M200.7 478h0.9M212.4 451.2h0.9M213 462.8h0.9M205.6 449.1h0.9M203.5 446.1h0.9M201.2 452.7h0.9M208.9 430.2h0.9M209.1 446.6h0.9M208.1 447.3h0.9M200.3 456.9h0.9M202.1 468.2h0.9M213.7 430.8h0.9M207.5 446.2h0.9M196.6 491.8h0.9M205.9 438.5h0.9M213.4 455.1h0.9M197 459.3h0.9M209.5 454.7h0.9M199.3 460.5h0.9M205.3 449.8h0.9M206.3 424.9h0.9M193.4 470h0.9M211.6 441.5h0.9M209.7 435.8h0.9M204.3 440.6h0.9M190.6 487.1h0.9M213.7 430.1h0.9M190.1 481.8h0.9M210.1 438.6h0.9M204.8 455.9h0.9M207.8 443.3h0.9M215 422.5h0.9M213.4 444.5h0.9M200.2 466.9h0.9M189.9 464.4h0.9M210.5 447.7h0.9M199.1 452.5h0.9M210.3 451.9h0.9M203.4 443.3h0.9M203.1 445.7h0.9M210.9 449.8h0.9M201.7 454.9h0.9M207 454.8h0.9M198.8 438.2h0.9M222.5 447.4h0.9M201.9 444.1h0.9M215.4 423.5h0.9M205.5 431.2h0.9M210.2 459.6h0.9M200.5 455.4h0.9M210.7 448h0.9M208.7 457.5h0.9M206.9 451.2h0.9M211.3 437.3h0.9M204.9 442.4h0.9M202.7 459.3h0.9M207.6 444.9h0.9M210.3 437.7h0.9M209.4 441.3h0.9M215.2 435.5h0.9M210.8 447.9h0.9M206.8 462.8h0.9M212.8 455.8h0.9M208.6 440.5h0.9M199.4 425.5h0.9M209.3 434.7h0.9M204.8 436.3h0.9M201.5 469.6h0.9M204.4 470.7h0.9M205.5 438.4h0.9M201.9 434.5h0.9M209.5 439.8h0.9M204.1 465.6h0.9M205.4 448.8h0.9M198.5 469.4h0.9M212.9 448.1h0.9M200.4 446.2h0.9M218.4 432.6h0.9M189.1 448.5h0.9M213.9 435.7h0.9M206.2 462.1h0.9M191.3 464.4h0.9M201.6 457.6h0.9M215.2 443.8h0.9M201.4 460.8h0.9M208.2 457.9h0.9M210.2 446h0.9M206 460.6h0.9M194.9 471.2h0.9M197.5 458.3h0.9M208 436.1h0.9M210 446.8h0.9M202.5 469.6h0.9M211.8 439.9h0.9M204.5 454.6h0.9M207.7 470.5h0.9M212.4 431.3h0.9M203.1 433.1h0.9M194 469.1h0.9M201.6 442h0.9M211.3 460.5h0.9M208.7 426.9h0.9M208.5 476.3h0.9M202.7 457.5h0.9M193.3 479.4h0.9M204.2 463.6h0.9M211.1 422.6h0.9M202.1 455.4h0.9M194.5 462.1h0.9M203.5 481.4h0.9M209 447.9h0.9M198.6 446.7h0.9M203.1 460.8h0.9M208.9 455.3h0.9M195.3 475.2h0.9M197.3 478.6h0.9M197.6 478.3h0.9M210.5 426.5h0.9M213.3 424.2h0.9M204.2 462.2h0.9M211.8 461.5h0.9M202 469.8h0.9M197.5 472.6h0.9M202.6 450.3h0.9M207.1 447h0.9M207.1 447h0.9M213.5 442.9h0.9M201.8 449.9h0.9M198.9 452h0.9M195.4 448.2h0.9M190.2 484.9h0.9M187.8 483.4h0.9M185.3 463.6h0.9M207 464.4h0.9M218.8 423.6h0.9M184.3 477.1h0.9M217 436.7h0.9M195.1 452.4h0.9M216.4 463h0.9M198.8 474.3h0.9M197 447.5h0.9M209.4 450.5h0.9M218.6 448.1h0.9M182.5 488.6h0.9M212.8 444.5h0.9M204.1 465.1h0.9M200.6 475.6h0.9M207.8 454.8h0.9M212.1 445.9h0.9M197.8 492.4h0.9M203.9 472.2h0.9M199 465.6h0.9M213.2 465.4h0.9M187 471.9h0.9M187.8 465.8h0.9M194.5 462.8h0.9M179.5 473.4h0.9M214.9 458.3h0.9M201.7 470.7h0.9M193 479h0.9M215.4 461.9h0.9M194.3 448h0.9M196.2 460.6h0.9M210 461.1h0.9M197.5 470.7h0.9M197 455h0.9M210.8 452.7h0.9M194.7 464.7h0.9M184.4 476.5h0.9M207.7 465.8h0.9M212.1 440.1h0.9M196.4 447.7h0.9M195.5 480.5h0.9M211 460.8h0.9M197 489.4h0.9M200 465.3h0.9M201.5 463.7h0.9M188.9 493.5h0.9M210.5 442.9h0.9M200.9 460.6h0.9M197.1 454h0.9M194.3 454.7h0.9M184.6 473.6h0.9M196 470.4h0.9M190.6 477.9h0.9M193.8 502.1h0.9M210.3 452.2h0.9M216.9 439.4h0.9M208.5 444.5h0.9M192.4 471h0.9M216.9 450.8h0.9M194.1 465.3h0.9M197.4 463.8h0.9M187.9 468.8h0.9M204.7 440.6h0.9M204.4 449.8h0.9M206.1 455.9h0.9M222 439.1h0.9M223.5 460.6h0.9M199.3 449.3h0.9M196.9 450.7h0.9M196.2 468.9h0.9M190 476.4h0.9M197.9 441.2h0.9M189 490.3h0.9M201 470.2h0.9M204.8 463.4h0.9M206.9 477.3h0.9M194.5 457.2h0.9M193 471.6h0.9M201.2 458h0.9M212.2 455.6h0.9M210.7 468.7h0.9M223.6 434.7h0.9M205.8 468.9h0.9M194.5 456.7h0.9M209.2 452.9h0.9M206 460.8h0.9M197.2 444.6h0.9M193.1 489.2h0.9M205.1 455.9h0.9M204.7 458.8h0.9M187.5 470.3h0.9M203.2 463.3h0.9M206.4 468.7h0.9M208 429.5h0.9M197.8 462.7h0.9M207.1 441.7h0.9M205.2 455.2h0.9M208.2 454.4h0.9M184.7 484.8h0.9M209.8 449.6h0.9M189.2 476.2h0.9M190.7 472.8h0.9M212.3 452h0.9M197.4 470.8h0.9M201.3 470.9h0.9M191.9 456.9h0.9M204.9 445.8h0.9M191 475.8h0.9M191.7 459h0.9M193.4 472.3h0.9M201 448.3h0.9M192.4 457.5h0.9M212.3 461.4h0.9M196.3 455.6h0.9M201.3 467.9h0.9M199.8 460.5h0.9M215.1 463h0.9M202.5 470h0.9M210.3 474.1h0.9M209.1 457.6h0.9M181.1 490.4h0.9M194.7 460.4h0.9M200.3 455.9h0.9M205.8 437h0.9M196.1 463.9h0.9M203 470.4h0.9M202.2 456.3h0.9M211.1 456.9h0.9M193.3 471.6h0.9M202.8 468.9h0.9M208.5 486.5h0.9M200.2 474.9h0.9M204.8 444.2h0.9M204.3 475.2h0.9M205.5 446.9h0.9M205.4 439.6h0.9M215.5 428.4h0.9M199.7 471.7h0.9M228.1 436.1h0.9M226.3 444.3h0.9M212.2 460.5h0.9M206.7 465.3h0.9M180.3 486.1h0.9M199.8 448.2h0.9M224.6 436.4h0.9M194.7 450.5h0.9M212.1 447.7h0.9M199 458.3h0.9M218.1 449.3h0.9M204.5 469h0.9M202.5 447.2h0.9M196 470.7h0.9M219.4 457.6h0.9M190.8 467h0.9M204.9 442.3h0.9M191.1 468.1h0.9M203.1 422.9h0.9M207.6 438.3h0.9M201.1 456.6h0.9M197.6 473.8h0.9M206.9 456.5h0.9M213.9 460.3h0.9M215.2 434.9h0.9M195.1 445.3h0.9M184.9 463.8h0.9M197.1 457.5h0.9M197.6 456.5h0.9M192.2 456.8h0.9M211.3 441.9h0.9M218 470.5h0.9M190.8 462.6h0.9M195.5 469.4h0.9M197 476h0.9M200.8 468.9h0.9M203.3 438.3h0.9M206.3 485.8h0.9M200.7 467.3h0.9M192.1 472.7h0.9M197.2 480h0.9M207.5 446.9h0.9M189.1 481.1h0.9M213.4 434h0.9M206.8 458.7h0.9M204.7 443.8h0.9M197.5 472.4h0.9M191.6 460.1h0.9M204.3 464.9h0.9M194.5 463.7h0.9M206.8 457.6h0.9M216.1 451.9h0.9M208.3 442.4h0.9M195.2 464.5h0.9M202.1 448.1h0.9M189.3 469.2h0.9M216.5 460.7h0.9M202.8 434.3h0.9M207.3 454.6h0.9" stroke="#b5b5b5" stroke-width="0.9" fill="none"/>
<path d="M210.6 433.1h1.1M186.9 451.3h1.1M191 445.8h1.1M184.5 436.6h1.1M190.5 442h1.1M193.5 429.9h1.1M197 447.4h1.1M194.1 443.8h1.1M204.8 442.7h1.1M215.6 438.5h1.1M187.5 450.9h1.1M196.3 448.4h1.1M198.1 439.7h1.1M194.6 436.1h1.1M186.6 450.8h1.1M191.4 440.1h1.1M197.8 440.8h1.1M200.6 434.3h1.1M194.6 449.9h1.1M195.8 451.8h1.1M198.2 443h1.1M176.5 454.7h1.1M191.6 448.2h1.1M192.8 448.3h1.1M198.3 438.4h1.1M176.9 460h1.1M193.9 442h1.1M185.1 450h1.1M194 438.9h1.1M183.6 457.9h1.1M194.7 441.6h1.1M197.9 439h1.1M190.6 445.2h1.1M189.5 446.6h1.1M194.2 447.4h1.1M197.8 443.1h1.1M195.8 446.1h1.1M195 440.2h1.1M192.8 445.2h1.1M188.3 442.1h1.1M183.3 447.2h1.1M186.3 433.4h1.1M170.6 447.9h1.1M196.3 441.6h1.1M190.7 445.3h1.1M195.9 450.1h1.1M196.2 435.4h1.1M198.4 457.1h1.1M189.2 439.1h1.1M188.2 447h1.1M188.6 451.3h1.1M204 429.6h1.1M195.2 442.8h1.1M200.2 437.6h1.1M197.8 439.3h1.1M190 437.2h1.1M195.7 444.2h1.1M193.1 442.6h1.1M198.9 437.9h1.1M206.4 436.7h1.1M195.9 439.3h1.1M190.1 443.4h1.1M190.5 451.4h1.1M196.8 429.3h1.1M193.9 450.9h1.1M185.3 445.2h1.1M205.6 429.8h1.1M188.2 444.9h1.1M193.6 431.9h1.1M191.7 451.1h1.1M188.3 442.8h1.1M204.4 437.9h1.1M186.7 449.7h1.1M195.6 449.7h1.1M194.3 435.2h1.1M197 439.3h1.1M194.4 455.6h1.1M190.8 443.4h1.1M193.9 446.2h1.1M202.3 440.8h1.1M181.7 452.6h1.1M184.7 441.8h1.1M194 444.9h1.1M188.6 459.6h1.1M176.3 455.6h1.1M186.8 440.9h1.1M190.4 440.8h1.1M203.2 441.9h1.1M195.7 439.4h1.1M186.9 454.8h1.1M198.9 446.7h1.1M203.3 435.9h1.1M194.4 446.2h1.1M194.8 443.8h1.1M176.6 444.8h1.1M182.9 448.4h1.1M202.1 439.3h1.1M198.8 448.7h1.1M200.4 449h1.1M186.9 441.8h1.1M186.6 448h1.1M206 435.7h1.1M179 441.6h1.1M205.7 438.3h1.1M196.8 438.4h1.1M197.3 438.4h1.1M194.4 438.5h1.1M181.7 452.1h1.1M190.8 445.3h1.1M191.2 451h1.1M192.3 448h1.1M201.8 433.2h1.1M196.9 438.9h1.1M199.7 431.1h1.1M192.8 430.2h1.1M187 444.9h1.1M195.4 441.1h1.1M195 439.6h1.1M193.2 434.5h1.1M182.7 448.3h1.1M200.4 433.9h1.1M188.9 440.9h1.1M188.6 439.7h1.1M190.2 442.7h1.1M197.7 437h1.1M199.8 447.8h1.1M178.9 447.9h1.1M185.8 449.1h1.1M194.4 443.2h1.1M187.9 448.4h1.1M199.8 438.5h1.1M181.9 438.8h1.1M188.9 447.9h1.1M197 441.4h1.1M182.7 443.6h1.1M185.2 435.1h1.1M200.8 444.9h1.1M203.7 443.7h1.1M197.9 445.3h1.1M181.3 448.3h1.1M183.5 447.2h1.1M190.2 443.7h1.1M198 431.5h1.1M184.1 450h1.1M196.3 447.3h1.1M191.5 452.4h1.1M194.5 454.2h1.1M181.3 443.5h1.1M182.5 445.4h1.1M204.9 435.4h1.1M197.1 445.4h1.1M196.5 438.8h1.1M198.8 436.7h1.1M194.6 448.5h1.1M197.3 453.8h1.1M207.9 445.9h1.1M203.1 436.2h1.1M192.9 440.2h1.1M183.1 445.7h1.1M202 445.4h1.1M195.3 456.9h1.1M204.7 442.2h1.1M188.6 439.6h1.1M182.2 451.1h1.1M188.8 448.5h1.1M185.7 443.7h1.1M195.9 437.2h1.1M181.2 446.4h1.1M198.1 440.5h1.1M190.5 444.7h1.1M175.9 447.2h1.1M193 444.2h1.1M206.1 435.2h1.1M200.1 435.9h1.1M193.5 442.7h1.1M188.1 451.6h1.1M198.5 444.7h1.1M195.5 434.5h1.1M184.4 436h1.1M194.1 445.4h1.1M199.2 436.9h1.1M199.4 442.4h1.1M186.9 443.9h1.1M196.9 444h1.1M194.3 433.2h1.1M185.6 436.3h1.1M191 444.3h1.1M186.3 456.6h1.1M196.7 432h1.1M196.8 440.6h1.1M197.9 444.1h1.1M192.2 455.8h1.1M190.3 435.5h1.1M180.7 442.5h1.1M186 442.6h1.1M185.7 441.2h1.1M180.6 446.6h1.1M188 451.1h1.1M182.2 438h1.1M203.9 440.7h1.1M191.4 434.2h1.1M200 436.3h1.1M186.3 440.2h1.1M175 440.9h1.1M187.7 435.6h1.1M193.6 441.9h1.1M193 440.4h1.1M198.8 430.7h1.1M189.7 449.2h1.1M190.2 430.4h1.1M203.7 440.5h1.1M199.5 445.2h1.1M192.2 445.8h1.1M186 446.8h1.1M170.9 454.3h1.1M189.4 440.2h1.1M183.6 445.8h1.1M199.3 439.5h1.1M187.1 439.5h1.1M194.5 437.5h1.1M199.9 441.5h1.1M194.2 433.6h1.1M198.8 446.5h1.1M196.9 436.8h1.1M195.6 443.4h1.1M189.2 450.9h1.1M190.8 451.9h1.1M188.6 454.9h1.1M205.8 429.2h1.1M187.9 446.9h1.1M189.5 452.5h1.1M192.6 447h1.1M201.1 445.7h1.1M187.5 449.4h1.1M194.6 444.6h1.1M201.9 438.1h1.1M198 437h1.1M198.9 438.1h1.1M200.5 445h1.1M201.9 424h1.1M195 441h1.1M185 439.3h1.1M187.3 443.5h1.1M191.7 448.1h1.1M202.6 444.3h1.1M190.6 438.7h1.1M187 444.6h1.1M206.3 438.8h1.1M195.1 444.6h1.1M198.4 430h1.1M190.9 455.7h1.1M189.2 448.3h1.1M197.1 442.3h1.1M183.1 441.2h1.1M200.7 444.6h1.1M189.5 434.9h1.1M198.5 426.9h1.1M185.5 456.3h1.1M183.7 451.5h1.1M187.8 452.8h1.1M184.9 460.8h1.1M193 450.8h1.1M198.9 435.8h1.1M193.4 449.4h1.1M189.3 442.5h1.1M196.2 446.6h1.1M190.3 440.4h1.1M203.8 444.1h1.1M185.9 448.4h1.1M182.5 444.8h1.1M176.9 448.8h1.1M201.2 436.8h1.1M190 435.7h1.1M193.8 442h1.1M189.1 435.4h1.1M182.5 445.5h1.1M200.5 443.1h1.1M188.2 448.5h1.1M190.6 434.7h1.1M195.7 434h1.1M210.2 423.1h1.1M181.9 448h1.1M189.7 449.3h1.1M195.4 434.7h1.1M199.6 437.3h1.1M189.6 450h1.1M190.4 445.1h1.1M182.3 441.9h1.1M200.2 421.8h1.1M179.1 448.3h1.1M201.5 434.1h1.1M182.3 451.2h1.1M198.9 448.7h1.1M190.9 444.3h1.1M199.8 445.6h1.1M189.9 446h1.1M179.8 441.4h1.1M193.8 445.9h1.1M194.5 445.4h1.1M201.5 441.7h1.1" stroke="#29a8df" stroke-width="1.1" fill="none"/>
<path d="M169.6 449.5h1.1M175.7 449.2h1.1M199.6 461.3h1.1M186.7 451.6h1.1M172.7 454.6h1.1M180.4 479.6h1.1M196.9 444.2h1.1M194.7 436.3h1.1M180.1 444.1h1.1M173.9 456.6h1.1M189.8 433.7h1.1M178.6 463.6h1.1M210.3 446.2h1.1M164.3 439.9h1.1M180.5 463.1h1.1M178 464.4h1.1M197.2 442.4h1.1M186.7 409.4h1.1M189.2 446.8h1.1M199.7 435.8h1.1M198.2 441.1h1.1M194.2 435.8h1.1M172.5 463.5h1.1M176.6 453.7h1.1M171.1 446.7h1.1M204.8 443.6h1.1M179.7 468.7h1.1M191.2 443.7h1.1M193.2 454.9h1.1M184.7 441.1h1.1M184.3 450h1.1M186.8 443.5h1.1M202.5 420.1h1.1M183.3 460.3h1.1M188.8 443.8h1.1M183.4 468.4h1.1M177.3 442h1.1M186.9 422.6h1.1M187.2 443.7h1.1M206.6 448.9h1.1M183.1 454.9h1.1M170.2 456.3h1.1M197.5 440.7h1.1M169.5 451.1h1.1M188.6 444.9h1.1M184.8 454h1.1M189.1 429.9h1.1M192.8 446.3h1.1M174.9 455.2h1.1M171.8 450.7h1.1M169 451.3h1.1M194 455.1h1.1M177.8 453.8h1.1M201.4 454.2h1.1M181.3 455.5h1.1M193 445.6h1.1M172.7 455.6h1.1M184.7 445.7h1.1M180.2 456.5h1.1M184 443.2h1.1M211.8 438.8h1.1M191.5 440h1.1M176.7 435.9h1.1M177 460.4h1.1M200.2 435.3h1.1M185.6 446.3h1.1M192.5 430.6h1.1M190.1 447.3h1.1M182.3 435.6h1.1M173.9 472h1.1M168.2 444.9h1.1M189.3 445.6h1.1M200 449.6h1.1M170.9 438.1h1.1M181.8 464.2h1.1M180.4 462.2h1.1M177.1 442.4h1.1M191.4 443.2h1.1M186.7 434.2h1.1M179.9 447.6h1.1M172.6 472.8h1.1M204.4 451.6h1.1M185.8 429.4h1.1M191.7 443.4h1.1M185.2 448.4h1.1M171.5 459.6h1.1M177.7 463.7h1.1M182.8 441.1h1.1M180.4 469.1h1.1M187.2 454h1.1" stroke="#29a8df" stroke-width="1.1" fill="none"/>
<path d="M215.5 459.7h1.1M213.6 454.1h1.1M215.1 467.6h1.1M204.1 463.7h1.1M216 455.2h1.1M225.3 465.9h1.1M230.8 460h1.1M217.7 462.1h1.1M232.8 468.9h1.1M205.9 446.4h1.1M211.8 452.3h1.1M216.7 465.4h1.1M216.6 462.8h1.1M217.1 457.8h1.1M213.6 465.5h1.1M215.2 471.5h1.1M213.5 458.3h1.1M214.8 460.8h1.1M208.4 453.7h1.1M224.6 453.2h1.1M235.1 464.2h1.1M207.2 452.1h1.1M210.5 451.4h1.1M211.7 466.3h1.1M227.4 466h1.1M232.9 464.8h1.1M221.6 460.7h1.1M221.8 460.9h1.1M218 468.7h1.1M226.3 468.9h1.1M213.6 460.6h1.1M221.8 453.4h1.1M211.6 457.8h1.1M209.9 454.7h1.1M209.5 464h1.1M208 459.8h1.1M211.8 460.9h1.1M219.2 459.3h1.1M231 463.3h1.1M224.5 466.6h1.1M229.7 471.7h1.1M213.4 457h1.1M233.4 467.9h1.1M199.5 455.1h1.1M219.9 469.3h1.1M214.2 464.6h1.1M210.4 459h1.1M226.4 462h1.1M221.2 466.8h1.1M228.2 464.9h1.1M227.4 463.2h1.1M222.4 457.6h1.1M216.3 469.3h1.1M224 458.2h1.1M214.1 450.4h1.1M220.4 466.9h1.1M212 460h1.1M218.4 459.4h1.1M219.8 466.8h1.1M210.8 459.9h1.1M224 463.8h1.1M215 458.5h1.1M211.1 457.3h1.1M208.3 451.8h1.1M217.8 458.7h1.1M199.1 449.9h1.1M218.9 469.4h1.1M230.2 458.3h1.1M220.2 459.2h1.1M209.8 462.8h1.1M209.2 467h1.1M227.3 461.1h1.1M223.7 459.7h1.1M219.7 459.8h1.1M217.1 467.9h1.1M219.3 459.1h1.1M215.3 466.1h1.1M217.3 456.4h1.1M219.3 454.8h1.1M203.4 456.8h1.1M215.2 458.1h1.1M210.5 462.5h1.1M204 455.2h1.1M213 464.3h1.1M219.6 459.6h1.1M218.5 457h1.1M214.3 456.8h1.1M218.5 463.4h1.1M212.3 457.1h1.1M219.9 461.6h1.1M208.3 455h1.1M220.2 467.9h1.1M236.5 460.9h1.1M230.9 480h1.1M212 458.8h1.1M219.1 460.4h1.1M217.2 469.7h1.1M206.2 456.6h1.1M219.5 463.6h1.1M224 455.9h1.1M217.5 463.2h1.1M233.9 462.7h1.1M223.5 458.9h1.1M219.7 470.2h1.1M205.3 454.4h1.1M224.1 466.7h1.1M215.2 458.1h1.1M207.8 458.1h1.1M204.7 452.1h1.1M222.9 463.8h1.1M219.9 452h1.1M215 461.9h1.1M224.1 458.3h1.1M212.5 453.1h1.1M206.9 454.2h1.1M214.2 452.2h1.1M229.5 461.4h1.1M216.1 462.5h1.1M213 464.2h1.1M224.7 465.2h1.1M227.5 460.4h1.1M223.5 462.8h1.1M220 460.5h1.1M210.9 451.8h1.1M218.9 449.8h1.1M224.1 456.1h1.1M213.7 462.3h1.1M219.9 460.1h1.1M223.2 459.1h1.1M211.8 452.9h1.1M215.8 452.5h1.1M213.2 462.4h1.1M225.2 465.7h1.1M221.1 459h1.1M217.4 460.2h1.1M230.1 470.8h1.1M215.4 458.4h1.1M219 459.7h1.1M221.2 460.5h1.1M232.6 465.1h1.1M209.3 459.4h1.1M221.9 454.5h1.1M221.7 468.5h1.1M219.1 463.8h1.1M213.7 472.8h1.1M210.8 453.7h1.1M214.6 466.2h1.1M233.9 459.1h1.1M221.9 466h1.1M217.4 463.5h1.1M216.2 467.9h1.1M211.9 463.1h1.1M226.6 455.6h1.1M214.7 455.3h1.1M223.5 460h1.1M209 464.6h1.1M213 456.7h1.1M214.3 455.1h1.1M211.8 459.5h1.1M214.5 468.3h1.1M239.3 466.4h1.1M224.7 459.6h1.1M212.3 447.6h1.1M220.7 462.1h1.1M214.9 461.7h1.1M200.4 450h1.1M217 466h1.1M208.3 464.2h1.1M222 473.5h1.1M200.6 453.2h1.1M212.5 454.8h1.1M216 450.2h1.1M218 459.1h1.1M221.7 466.8h1.1M216.5 462.4h1.1M210.7 460.9h1.1M231 461.8h1.1M205.5 453.2h1.1M217 458.6h1.1M214 452.5h1.1M212.4 460h1.1M218.6 454.5h1.1M219.3 450h1.1M203.6 443h1.1M222.8 461.9h1.1M207.9 456h1.1M224 460.2h1.1M221.1 466.7h1.1M216.2 466.1h1.1M199.6 459h1.1M211 460.4h1.1M225.6 473.9h1.1M210.3 462.3h1.1M219.9 461.8h1.1M213.7 462.8h1.1M200.6 457.6h1.1M211.4 450.1h1.1M204.7 453.6h1.1M227.8 462.7h1.1M213.4 464h1.1M222.8 474.7h1.1M223.9 457h1.1M201.8 460.7h1.1M202.8 448.5h1.1M225.3 465h1.1M213.9 455.2h1.1M215.3 462.8h1.1M210.1 454.4h1.1M227.8 472.9h1.1M216.8 458.6h1.1M224.9 477.4h1.1M225.8 470h1.1M214.4 462.6h1.1M215.9 456.7h1.1M220.6 459.1h1.1M223.1 454.2h1.1M219.6 460.7h1.1M220.7 457.2h1.1M216.8 453.1h1.1M210.3 449.7h1.1M212.2 458.5h1.1M237 464.9h1.1M227.6 466.5h1.1M219.3 462.4h1.1M228.3 457.2h1.1M227.1 458h1.1M204 455.6h1.1M211.8 456h1.1M222.8 466.5h1.1M227.9 462.2h1.1M220.5 474.6h1.1M227.7 455.9h1.1M224.5 457.4h1.1M220 456.1h1.1M209.3 452.5h1.1M234.6 463.8h1.1M222.1 462.4h1.1M216.1 462.7h1.1M230.6 460.9h1.1M218.9 462.1h1.1M219.5 458.2h1.1M207.8 459.1h1.1M228.6 465h1.1M211.4 457.2h1.1M218.3 453.7h1.1M215 452.6h1.1M225.5 471.6h1.1M220.3 448.1h1.1M226.9 467.4h1.1M203.5 450.8h1.1" stroke="#29a8df" stroke-width="1.1" fill="none"/>
<path d="M219.2 460.7h1.1M214.4 465.7h1.1M250.3 480.5h1.1M238.9 476.3h1.1M234 474.4h1.1M224.7 466.5h1.1M220.7 465.3h1.1M239.3 468.4h1.1M247.9 481.6h1.1M239.2 481.7h1.1M237.9 471.7h1.1M221.9 471.3h1.1M221.4 471h1.1M236.4 466.6h1.1M226.5 479.4h1.1M229.9 469.1h1.1M233.9 479.2h1.1M198.7 454.6h1.1M230.6 455.7h1.1M230.5 471h1.1M232.8 468.6h1.1M200.9 452.8h1.1M242.2 471.3h1.1M218.7 480.2h1.1M230.6 472.1h1.1M237.5 475.6h1.1M236.1 462.3h1.1M224.6 476.6h1.1M231.1 465.6h1.1M239 456.7h1.1M246.9 475h1.1M230.4 472h1.1M216.7 481.5h1.1M232.6 461.2h1.1M214.5 452.7h1.1M209.3 438.5h1.1M251.1 457.5h1.1M239.3 470.3h1.1M241.9 472.1h1.1M249.3 481.8h1.1M229.8 482h1.1M216.5 465.1h1.1M227 467.8h1.1M224.9 479.8h1.1M215.3 460.8h1.1M227.9 468.6h1.1M236.8 463.8h1.1M209.4 460.8h1.1M256.8 473h1.1M217.1 445.5h1.1M224.7 463.1h1.1M218.8 473.3h1.1M216 476.1h1.1M244.1 469.8h1.1M252.9 479.6h1.1M246.5 484.9h1.1M238.9 471.7h1.1M232.5 445.6h1.1M246.6 473.4h1.1M223.5 476.1h1.1" stroke="#29a8df" stroke-width="1.1" fill="none"/>
<path d="M202 443.9h1.1M201.8 438.9h1.1M200.2 442.4h1.1M191.4 427.5h1.1M201.9 441.3h1.1M201.4 445.3h1.1M194.8 436.9h1.1M204 441.2h1.1M206 439.6h1.1M199.5 434.6h1.1M199.1 435.4h1.1M197.3 431.4h1.1M202.4 437.8h1.1M198 437.1h1.1M192 440.4h1.1M200.8 444.2h1.1M191.8 432h1.1M194.4 434.4h1.1M197.9 432.7h1.1M195.7 439.2h1.1M196.6 436.8h1.1M198.9 431.4h1.1M200.9 432.8h1.1M199.3 438.5h1.1M203.5 437.7h1.1M199.4 434.8h1.1M194 434.3h1.1M197.9 441.9h1.1M198.6 433.8h1.1M200.8 440.5h1.1M200.8 437.4h1.1M196.2 436.6h1.1M201 431.9h1.1M198.5 431.9h1.1M200.5 438.5h1.1M195.3 438.4h1.1M202 438.3h1.1M197 433h1.1M196.3 436.6h1.1M197.1 434.1h1.1M195.9 439.8h1.1M197.7 441h1.1M201.3 448.2h1.1M198.9 435.8h1.1M197.2 433h1.1M195.1 434.9h1.1M198.9 439.8h1.1M196.6 437.7h1.1M202.4 442.5h1.1M196.6 442.5h1.1M193.7 431.2h1.1M201.3 432.9h1.1M196.2 435.9h1.1M200.8 443.9h1.1M199.2 432.8h1.1M200.3 439.5h1.1M192.9 438.5h1.1M200.7 439.5h1.1M205.4 442.4h1.1M194.7 431.4h1.1M193.3 437.2h1.1M197.6 435.3h1.1M195.1 438.8h1.1M200.8 445.3h1.1M197.4 434.9h1.1M195 441.5h1.1M200.1 440h1.1M197.6 437.1h1.1M201.9 438.3h1.1M203.4 439h1.1M198 436.2h1.1M198.7 440.1h1.1M199.1 435.8h1.1M201.1 441.2h1.1M200.8 442.4h1.1M196.2 432.3h1.1M199.1 437.1h1.1M204.2 428.5h1.1M196.4 432.6h1.1M197.4 434.2h1.1" stroke="#111" stroke-width="1.1" fill="none"/>
<path d="M217.1 481.8h1.1M214.6 469.2h1.1M213.6 458.4h1.1M213.5 467.1h1.1M208.7 455.8h1.1M215.1 473h1.1M217.2 484.8h1.1M215.6 471.5h1.1M219.7 489.4h1.1M216.7 464.7h1.1M220.8 476.9h1.1M220.8 476.3h1.1M219.1 476.9h1.1M208.8 452.7h1.1M216.4 478.5h1.1M214.5 469.8h1.1M219.9 478.9h1.1M213.7 458.4h1.1M214.7 471.1h1.1M215.6 473.1h1.1M211.8 471h1.1M215.9 470.4h1.1M211.7 455.6h1.1M216.3 472.8h1.1M212.5 470.4h1.1M211.4 467.6h1.1M220 466.8h1.1M210.9 460.5h1.1M208.9 445.4h1.1M214.9 473.7h1.1M215.9 472.9h1.1M211.2 447.8h1.1M217.3 471.8h1.1M214.2 475.6h1.1M209.1 469.3h1.1M214.6 465.9h1.1M217 479h1.1M218.8 482.1h1.1M215 478.1h1.1M215.9 473.8h1.1M220.9 492.4h1.1M215.6 463.2h1.1M218.2 467h1.1M216.8 469.5h1.1M212.5 466.5h1.1M212.2 471.1h1.1M211.8 470.6h1.1M218.9 484h1.1M212.5 460.9h1.1M209.6 462.6h1.1M218 484.7h1.1M211.5 457.6h1.1M213.9 476.1h1.1M218.5 476.1h1.1M217.9 471.4h1.1M208 452.1h1.1M220.8 481.3h1.1M216.6 469.4h1.1M222 480.7h1.1M211.6 460.7h1.1M213.3 457.8h1.1M216.2 471.8h1.1M217.7 468.3h1.1M217.1 469.7h1.1M215 471.2h1.1M211.4 458.1h1.1M215.4 467h1.1M215.7 471.8h1.1M215.4 469.4h1.1M221.2 487.4h1.1M217.5 465.6h1.1M220.1 480.4h1.1M214.9 470.3h1.1M215.4 455.4h1.1M212.2 448.6h1.1M207.6 455.4h1.1M217 484.8h1.1M214.7 463.7h1.1M216.2 480.1h1.1M209.8 452.2h1.1M213 467.6h1.1M214.6 472.5h1.1M217.5 472.9h1.1M212.8 468.3h1.1M214 464.2h1.1M218 473.5h1.1M216.7 470.3h1.1M212.4 455.3h1.1M217.6 481.2h1.1M208.2 463.8h1.1M214.8 480.1h1.1M212.6 460.3h1.1M220.3 484.9h1.1M221.2 473.1h1.1M214.9 464.4h1.1M220.2 473.7h1.1M214.8 478.9h1.1M220.1 481.6h1.1M214.7 465.1h1.1M210.4 462.7h1.1M218.8 474.2h1.1M205.4 453.5h1.1M219.1 481.8h1.1M212.8 459.7h1.1M214.6 461.8h1.1M212.2 459.8h1.1M216.4 469.2h1.1M215.9 478.3h1.1M212.9 470.5h1.1M205.3 439.6h1.1M212.2 466.4h1.1M205.6 445h1.1M213 461.5h1.1M217.1 474.7h1.1M213.9 473h1.1M219.4 477.1h1.1M213.6 469h1.1M214.9 460.5h1.1M214.2 479.7h1.1M209.4 454h1.1M214.5 461.5h1.1M218.6 480.4h1.1M210.8 477.7h1.1M214.3 469.7h1.1M215.2 470.9h1.1M213.8 469.6h1.1M217.5 479h1.1M214.3 452.5h1.1M221.1 485.4h1.1M214.5 459.1h1.1M217.7 464.3h1.1M215.5 456.2h1.1M218.7 474.8h1.1M214.9 464.5h1.1M215.2 468.6h1.1M213.8 458.6h1.1M216.8 482.4h1.1M216.6 469.8h1.1M218.7 468.2h1.1M221.7 473.4h1.1M211.3 464.1h1.1M215.2 475.5h1.1M217.1 470.6h1.1M217.1 481.6h1.1M218.3 475.3h1.1M214.1 466.8h1.1M210.3 462.8h1.1M211.7 462h1.1M213.4 475.3h1.1M212.9 452h1.1" stroke="#111" stroke-width="1.1" fill="none"/>
<path d="M243.2 486.3h1.1M249.6 485.6h1.1M257.1 485.5h1.1M255.8 493.1h1.1M246.2 488.5h1.1M229.6 491.1h1.1M248.4 488.3h1.1M251.8 487.5h1.1M253.8 489.2h1.1M247.4 485.9h1.1M258.1 486.7h1.1M245.1 484.7h1.1" stroke="#111" stroke-width="1.1" fill="none"/>
</g>
<line x1="205.80" y1="414.70" x2="205.80" y2="512.80" stroke="#231f20" stroke-width="0.9"/>
<line x1="162.30" y1="450.80" x2="258.40" y2="450.80" stroke="#231f20" stroke-width="0.9"/>
<rect x="162.30" y="414.70" width="96.10" height="98.10" fill="none" stroke="#231f20" stroke-width="1.0"/>
<rect x="162.30" y="414.70" width="38.70" height="16.30" fill="#fff" stroke="#231f20" stroke-width="0.9"/>
<text x="164.90" y="421.90" font-size="7.8" fill="#f7901e" textLength="15.0" lengthAdjust="spacingAndGlyphs">OSC</text>
<text x="164.90" y="429.10" font-size="7.8" fill="#1b5693" textLength="15.0" lengthAdjust="spacingAndGlyphs">TRA</text>
<line x1="184.70" y1="417.90" x2="184.70" y2="421.90" stroke="#000" stroke-width="0.9"/>
<path d="M183.40,418.50 L184.70,416.10 L186.00,418.50Z" fill="#000"/>
<line x1="184.70" y1="423.50" x2="184.70" y2="427.50" stroke="#000" stroke-width="0.9"/>
<path d="M183.40,426.90 L184.70,429.30 L186.00,426.90Z" fill="#000"/>
<text x="186.50" y="421.90" font-size="7.8" fill="#231f20" textLength="5.4" lengthAdjust="spacingAndGlyphs">M</text>
<text x="186.50" y="429.10" font-size="7.8" fill="#231f20" textLength="10.8" lengthAdjust="spacingAndGlyphs">GM</text>
<rect x="220.00" y="414.70" width="38.40" height="16.30" fill="#fff" stroke="#231f20" stroke-width="0.9"/>
<text x="222.60" y="421.90" font-size="7.8" fill="#1b5693" textLength="15.0" lengthAdjust="spacingAndGlyphs">TRA</text>
<text x="222.60" y="429.10" font-size="7.8" fill="#f7901e" textLength="15.0" lengthAdjust="spacingAndGlyphs">OSC</text>
<line x1="242.40" y1="417.90" x2="242.40" y2="421.90" stroke="#000" stroke-width="0.9"/>
<path d="M241.10,418.50 L242.40,416.10 L243.70,418.50Z" fill="#000"/>
<line x1="242.40" y1="423.50" x2="242.40" y2="427.50" stroke="#000" stroke-width="0.9"/>
<path d="M241.10,426.90 L242.40,429.30 L243.70,426.90Z" fill="#000"/>
<text x="244.20" y="421.90" font-size="7.8" fill="#231f20" textLength="5.4" lengthAdjust="spacingAndGlyphs">M</text>
<text x="244.20" y="429.10" font-size="7.8" fill="#231f20" textLength="10.8" lengthAdjust="spacingAndGlyphs">GM</text>
<rect x="162.30" y="494.50" width="38.70" height="16.30" fill="#fff" stroke="#231f20" stroke-width="0.9"/>
<text x="164.90" y="501.70" font-size="7.8" fill="#f7901e" textLength="15.0" lengthAdjust="spacingAndGlyphs">OSC</text>
<text x="164.90" y="508.90" font-size="7.8" fill="#1b5693" textLength="15.0" lengthAdjust="spacingAndGlyphs">TRA</text>
<line x1="184.70" y1="497.70" x2="184.70" y2="501.70" stroke="#000" stroke-width="0.9"/>
<path d="M183.40,498.30 L184.70,495.90 L186.00,498.30Z" fill="#000"/>
<line x1="184.70" y1="503.30" x2="184.70" y2="507.30" stroke="#000" stroke-width="0.9"/>
<path d="M183.40,506.70 L184.70,509.10 L186.00,506.70Z" fill="#000"/>
<text x="186.50" y="501.70" font-size="7.8" fill="#231f20" textLength="10.8" lengthAdjust="spacingAndGlyphs">GM</text>
<text x="186.50" y="508.90" font-size="7.8" fill="#231f20" textLength="5.4" lengthAdjust="spacingAndGlyphs">M</text>
<rect x="220.00" y="494.50" width="38.40" height="16.30" fill="#fff" stroke="#231f20" stroke-width="0.9"/>
<text x="222.60" y="501.70" font-size="7.8" fill="#1b5693" textLength="15.0" lengthAdjust="spacingAndGlyphs">TRA</text>
<text x="222.60" y="508.90" font-size="7.8" fill="#f7901e" textLength="15.0" lengthAdjust="spacingAndGlyphs">OSC</text>
<line x1="242.40" y1="497.70" x2="242.40" y2="501.70" stroke="#000" stroke-width="0.9"/>
<path d="M241.10,498.30 L242.40,495.90 L243.70,498.30Z" fill="#000"/>
<line x1="242.40" y1="503.30" x2="242.40" y2="507.30" stroke="#000" stroke-width="0.9"/>
<path d="M241.10,506.70 L242.40,509.10 L243.70,506.70Z" fill="#000"/>
<text x="244.20" y="501.70" font-size="7.8" fill="#231f20" textLength="10.8" lengthAdjust="spacingAndGlyphs">GM</text>
<text x="244.20" y="508.90" font-size="7.8" fill="#231f20" textLength="5.4" lengthAdjust="spacingAndGlyphs">M</text>
<line x1="158.60" y1="430.60" x2="162.30" y2="430.60" stroke="#231f20" stroke-width="0.8"/>
<text x="156.40" y="433.40" font-size="8.0" fill="#231f20" text-anchor="end" textLength="11.4" lengthAdjust="spacingAndGlyphs">2.5</text>
<line x1="158.60" y1="450.80" x2="162.30" y2="450.80" stroke="#231f20" stroke-width="0.8"/>
<text x="156.40" y="453.60" font-size="8.0" fill="#231f20" text-anchor="end" textLength="11.4" lengthAdjust="spacingAndGlyphs">0.0</text>
<line x1="158.60" y1="470.40" x2="162.30" y2="470.40" stroke="#231f20" stroke-width="0.8"/>
<text x="156.40" y="473.20" font-size="8.0" fill="#231f20" text-anchor="end" textLength="14.8" lengthAdjust="spacingAndGlyphs">−2.5</text>
<line x1="158.60" y1="490.40" x2="162.30" y2="490.40" stroke="#231f20" stroke-width="0.8"/>
<text x="156.40" y="493.20" font-size="8.0" fill="#231f20" text-anchor="end" textLength="14.8" lengthAdjust="spacingAndGlyphs">−5.0</text>
<line x1="158.60" y1="510.50" x2="162.30" y2="510.50" stroke="#231f20" stroke-width="0.8"/>
<text x="156.40" y="513.30" font-size="8.0" fill="#231f20" text-anchor="end" textLength="14.8" lengthAdjust="spacingAndGlyphs">−7.5</text>
<line x1="183.90" y1="512.80" x2="183.90" y2="515.40" stroke="#231f20" stroke-width="0.8"/>
<text x="183.90" y="524.00" font-size="8.0" fill="#231f20" text-anchor="middle" textLength="14.8" lengthAdjust="spacingAndGlyphs">−2.5</text>
<line x1="207.00" y1="512.80" x2="207.00" y2="515.40" stroke="#231f20" stroke-width="0.8"/>
<text x="207.00" y="524.00" font-size="8.0" fill="#231f20" text-anchor="middle" textLength="11.4" lengthAdjust="spacingAndGlyphs">0.0</text>
<line x1="230.60" y1="512.80" x2="230.60" y2="515.40" stroke="#231f20" stroke-width="0.8"/>
<text x="230.60" y="524.00" font-size="8.0" fill="#231f20" text-anchor="middle" textLength="11.4" lengthAdjust="spacingAndGlyphs">2.5</text>
<line x1="254.10" y1="512.80" x2="254.10" y2="515.40" stroke="#231f20" stroke-width="0.8"/>
<text x="254.10" y="524.00" font-size="8.0" fill="#231f20" text-anchor="middle" textLength="4.4" lengthAdjust="spacingAndGlyphs">5</text>
<text x="135.60" y="518.50" font-size="8.6" fill="#231f20" textLength="110.5" lengthAdjust="spacingAndGlyphs" transform="rotate(-90 135.60 518.50)">log<tspan font-size="6" dy="1.6">2</tspan><tspan dy="-1.6">(fold-change M vs. GM) [a.u.]</tspan></text>
<text x="162.30" y="537.60" font-size="8.6" fill="#231f20" textLength="98.7" lengthAdjust="spacingAndGlyphs">log<tspan font-size="6" dy="1.6">2</tspan><tspan dy="-1.6">(fold-change TRA vs. OSC)</tspan></text>
<text x="210.70" y="548.20" font-size="8.6" fill="#231f20" text-anchor="middle" textLength="18.6" lengthAdjust="spacingAndGlyphs">[a.u.]</text>
<line x1="336.30" y1="377.10" x2="336.30" y2="614.20" stroke="#231f20" stroke-width="0.9"/>
<text x="339.80" y="376.50" font-size="8.6" fill="#231f20" font-weight="bold" textLength="41.0" lengthAdjust="spacingAndGlyphs">Pathways</text>
<rect x="336.30" y="382.40" width="28.50" height="6.10" fill="#f7901e"/>
<circle cx="374.40" cy="385.50" r="1.90" fill="#f7901e"/>
<text x="379.50" y="387.60" font-size="8.0" fill="#231f20" textLength="80.5" lengthAdjust="spacingAndGlyphs">Wnt signaling pathway</text>
<rect x="336.30" y="390.50" width="26.50" height="6.10" fill="#f7901e"/>
<circle cx="374.40" cy="393.60" r="1.90" fill="#f7901e"/>
<text x="379.50" y="395.70" font-size="8.0" fill="#231f20" textLength="114.5" lengthAdjust="spacingAndGlyphs">Prostaglandin synthesis and reg.</text>
<rect x="336.30" y="398.50" width="26.50" height="6.10" fill="#f7901e"/>
<circle cx="374.40" cy="401.60" r="1.90" fill="#f7901e"/>
<text x="379.50" y="403.70" font-size="8.0" fill="#231f20" textLength="128.4" lengthAdjust="spacingAndGlyphs">Microglia path. phagocytosis pathw.</text>
<rect x="313.90" y="406.30" width="22.40" height="6.10" fill="#1a5591"/>
<circle cx="374.40" cy="409.40" r="1.90" fill="#1a5591"/>
<text x="379.50" y="411.50" font-size="8.0" fill="#231f20" textLength="88.0" lengthAdjust="spacingAndGlyphs">MAPK signaling pathway</text>
<rect x="313.50" y="413.90" width="22.80" height="6.10" fill="#1a5591"/>
<circle cx="374.40" cy="417.00" r="1.90" fill="#1a5591"/>
<text x="379.50" y="419.10" font-size="8.0" fill="#231f20" textLength="83.4" lengthAdjust="spacingAndGlyphs">Amino acid metabolism</text>
<rect x="309.30" y="421.90" width="27.00" height="6.10" fill="#1a5591"/>
<circle cx="374.40" cy="425.00" r="1.90" fill="#1a5591"/>
<text x="379.50" y="427.10" font-size="8.0" fill="#231f20" textLength="113.9" lengthAdjust="spacingAndGlyphs">Regulation of actin cytoskeleton</text>
<text x="339.80" y="440.20" font-size="8.6" fill="#231f20" font-weight="bold" textLength="82.2" lengthAdjust="spacingAndGlyphs">Molecular function</text>
<rect x="336.30" y="443.00" width="34.90" height="6.10" fill="#f7901e"/>
<circle cx="374.40" cy="446.10" r="1.90" fill="#f7901e"/>
<text x="379.50" y="448.20" font-size="8.0" fill="#231f20" textLength="113.7" lengthAdjust="spacingAndGlyphs">Cysteine-type peptidase activity</text>
<rect x="336.30" y="451.00" width="34.40" height="6.10" fill="#f7901e"/>
<circle cx="374.40" cy="454.10" r="1.90" fill="#f7901e"/>
<text x="379.50" y="456.20" font-size="8.0" fill="#231f20" textLength="126.6" lengthAdjust="spacingAndGlyphs">Organic acid transmem. transp. act.</text>
<rect x="336.30" y="458.80" width="33.70" height="6.10" fill="#f7901e"/>
<circle cx="374.40" cy="461.90" r="1.90" fill="#f7901e"/>
<text x="379.50" y="464.00" font-size="8.0" fill="#231f20" textLength="102.1" lengthAdjust="spacingAndGlyphs">Anion transmem. transp. act.</text>
<rect x="306.10" y="467.30" width="30.20" height="6.10" fill="#1a5591"/>
<circle cx="374.40" cy="470.40" r="1.90" fill="#1a5591"/>
<text x="379.50" y="472.50" font-size="8.0" fill="#231f20" textLength="104.4" lengthAdjust="spacingAndGlyphs">Ubiquitin-like protein binding</text>
<rect x="305.40" y="475.00" width="30.90" height="6.10" fill="#1a5591"/>
<circle cx="374.40" cy="478.10" r="1.90" fill="#1a5591"/>
<text x="379.50" y="480.20" font-size="8.0" fill="#231f20" textLength="110.2" lengthAdjust="spacingAndGlyphs">Steroid dehydrogenase activity</text>
<rect x="304.20" y="483.00" width="32.10" height="6.10" fill="#1a5591"/>
<circle cx="374.40" cy="486.10" r="1.90" fill="#1a5591"/>
<text x="379.50" y="488.20" font-size="8.0" fill="#231f20" textLength="92.9" lengthAdjust="spacingAndGlyphs">Misfolded protein binding</text>
<text x="339.80" y="500.80" font-size="8.6" fill="#231f20" font-weight="bold" textLength="91.2" lengthAdjust="spacingAndGlyphs">Cellular components</text>
<rect x="336.30" y="504.30" width="21.70" height="6.10" fill="#f7901e"/>
<circle cx="374.40" cy="507.40" r="1.90" fill="#f7901e"/>
<text x="379.50" y="509.50" font-size="8.0" fill="#231f20" textLength="51.9" lengthAdjust="spacingAndGlyphs">Apical dentrite</text>
<rect x="336.30" y="512.30" width="21.70" height="6.10" fill="#f7901e"/>
<circle cx="374.40" cy="515.40" r="1.90" fill="#f7901e"/>
<text x="379.50" y="517.50" font-size="8.0" fill="#231f20" textLength="74.7" lengthAdjust="spacingAndGlyphs">Cell body membrane</text>
<rect x="336.30" y="520.10" width="21.70" height="6.10" fill="#f7901e"/>
<circle cx="374.40" cy="523.20" r="1.90" fill="#f7901e"/>
<text x="379.50" y="525.30" font-size="8.0" fill="#231f20" textLength="84.2" lengthAdjust="spacingAndGlyphs">Neuromuscular junction</text>
<rect x="307.00" y="528.40" width="29.30" height="6.10" fill="#1a5591"/>
<circle cx="374.40" cy="531.50" r="1.90" fill="#1a5591"/>
<text x="379.50" y="533.60" font-size="8.0" fill="#231f20" textLength="51.6" lengthAdjust="spacingAndGlyphs">Perinuclear ER</text>
<rect x="306.50" y="536.20" width="29.80" height="6.10" fill="#1a5591"/>
<circle cx="374.40" cy="539.30" r="1.90" fill="#1a5591"/>
<text x="379.50" y="541.40" font-size="8.0" fill="#231f20" textLength="118.3" lengthAdjust="spacingAndGlyphs">Intrinsic component of ER memb.</text>
<rect x="301.90" y="544.20" width="34.40" height="6.10" fill="#1a5591"/>
<circle cx="374.40" cy="547.30" r="1.90" fill="#1a5591"/>
<text x="379.50" y="549.40" font-size="8.0" fill="#231f20" textLength="60.3" lengthAdjust="spacingAndGlyphs">Heterochromatin</text>
<text x="339.80" y="560.90" font-size="8.6" fill="#231f20" font-weight="bold" textLength="88.9" lengthAdjust="spacingAndGlyphs">Biological processes</text>
<rect x="336.30" y="565.70" width="35.30" height="6.10" fill="#f7901e"/>
<circle cx="374.40" cy="568.80" r="1.90" fill="#f7901e"/>
<text x="379.50" y="570.90" font-size="8.0" fill="#231f20" textLength="79.3" lengthAdjust="spacingAndGlyphs">Organic acid transport</text>
<rect x="336.30" y="573.80" width="34.90" height="6.10" fill="#f7901e"/>
<circle cx="374.40" cy="576.90" r="1.90" fill="#f7901e"/>
<text x="379.50" y="579.00" font-size="8.0" fill="#231f20" textLength="112.5" lengthAdjust="spacingAndGlyphs">Aminoglycan metabolic process</text>
<rect x="336.30" y="581.80" width="34.50" height="6.10" fill="#f7901e"/>
<circle cx="374.40" cy="584.90" r="1.90" fill="#f7901e"/>
<text x="379.50" y="587.00" font-size="8.0" fill="#231f20" textLength="49.6" lengthAdjust="spacingAndGlyphs">TOR signaling</text>
<rect x="303.80" y="589.70" width="32.50" height="6.10" fill="#1a5591"/>
<circle cx="374.40" cy="592.80" r="1.90" fill="#1a5591"/>
<text x="379.50" y="594.90" font-size="8.0" fill="#231f20" textLength="93.5" lengthAdjust="spacingAndGlyphs">NcRNA metabolic process</text>
<rect x="303.80" y="597.80" width="32.50" height="6.10" fill="#1a5591"/>
<circle cx="374.40" cy="600.90" r="1.90" fill="#1a5591"/>
<text x="379.50" y="603.00" font-size="8.0" fill="#231f20" textLength="101.5" lengthAdjust="spacingAndGlyphs">Mitochondrial gene expression</text>
<rect x="300.10" y="605.80" width="36.20" height="6.10" fill="#1a5591"/>
<circle cx="374.40" cy="608.90" r="1.90" fill="#1a5591"/>
<text x="379.50" y="611.00" font-size="8.0" fill="#231f20" textLength="54.0" lengthAdjust="spacingAndGlyphs">Odontogenesis</text>
<line x1="290.40" y1="614.20" x2="380.40" y2="614.20" stroke="#231f20" stroke-width="0.9"/>
<line x1="298.00" y1="614.20" x2="298.00" y2="616.80" stroke="#231f20" stroke-width="0.8"/>
<text x="298.00" y="627.80" font-size="8.2" fill="#231f20" text-anchor="middle">−2</text>
<line x1="316.90" y1="614.20" x2="316.90" y2="616.80" stroke="#231f20" stroke-width="0.8"/>
<text x="316.90" y="627.80" font-size="8.2" fill="#231f20" text-anchor="middle">−1</text>
<line x1="336.10" y1="614.20" x2="336.10" y2="616.80" stroke="#231f20" stroke-width="0.8"/>
<text x="336.10" y="627.80" font-size="8.2" fill="#231f20" text-anchor="middle">0</text>
<line x1="355.00" y1="614.20" x2="355.00" y2="616.80" stroke="#231f20" stroke-width="0.8"/>
<text x="355.00" y="627.80" font-size="8.2" fill="#231f20" text-anchor="middle">1</text>
<line x1="374.20" y1="614.20" x2="374.20" y2="616.80" stroke="#231f20" stroke-width="0.8"/>
<text x="374.20" y="627.80" font-size="8.2" fill="#231f20" text-anchor="middle">2</text>
<text x="298.00" y="639.40" font-size="8.6" fill="#231f20" textLength="78.0" lengthAdjust="spacingAndGlyphs">Enrichment score [a.u.]</text>
<rect x="435.80" y="615.50" width="76.60" height="9.90" fill="#f7901e"/>
<text x="438.00" y="623.60" font-size="8.6" fill="#231f20" textLength="71.6" lengthAdjust="spacingAndGlyphs">Enriched in OSC</text>
<rect x="435.80" y="628.20" width="76.60" height="9.90" fill="#1a5591"/>
<text x="438.00" y="636.30" font-size="8.6" fill="#fff" textLength="71.6" lengthAdjust="spacingAndGlyphs">Enriched in TRA</text>
<line x1="27.70" y1="604.20" x2="27.70" y2="667.60" stroke="#231f20" stroke-width="0.9"/>
<line x1="27.70" y1="667.60" x2="69.20" y2="667.60" stroke="#231f20" stroke-width="0.9"/>
<line x1="25.30" y1="666.70" x2="27.70" y2="666.70" stroke="#231f20" stroke-width="0.8"/>
<text x="24.30" y="669.50" font-size="8.0" fill="#231f20" text-anchor="end" textLength="4.6" lengthAdjust="spacingAndGlyphs">0</text>
<line x1="25.30" y1="656.04" x2="27.70" y2="656.04" stroke="#231f20" stroke-width="0.8"/>
<text x="24.30" y="658.84" font-size="8.0" fill="#231f20" text-anchor="end" textLength="4.6" lengthAdjust="spacingAndGlyphs">2</text>
<line x1="25.30" y1="645.38" x2="27.70" y2="645.38" stroke="#231f20" stroke-width="0.8"/>
<text x="24.30" y="648.18" font-size="8.0" fill="#231f20" text-anchor="end" textLength="4.6" lengthAdjust="spacingAndGlyphs">4</text>
<line x1="25.30" y1="634.72" x2="27.70" y2="634.72" stroke="#231f20" stroke-width="0.8"/>
<text x="24.30" y="637.52" font-size="8.0" fill="#231f20" text-anchor="end" textLength="4.6" lengthAdjust="spacingAndGlyphs">6</text>
<text x="48.70" y="599.60" font-size="8.6" fill="#231f20" text-anchor="middle">Clcn7</text>
<rect x="31.40" y="637.92" width="10.00" height="6.40" fill="#d1d2d3"/>
<line x1="36.40" y1="632.06" x2="36.40" y2="653.38" stroke="#555" stroke-width="0.5"/>
<path d="M39.4 646.1h0M33.7 637.9h0M33.2 640.9h0M32.3 640h0M40.5 638h0M38 636.4h0M38 644.6h0M34.9 637.8h0M37.4 633h0M33.1 637.1h0M40.3 639.2h0M33.1 640.2h0M32.5 650h0M35.4 650h0M33.8 651.6h0M34.4 639.6h0M37.9 641.1h0M39.1 639.6h0M38.2 642.3h0M38.4 640.6h0M39.2 643.5h0M37.5 644.6h0M34.2 646.1h0M36 644.3h0M35.1 639.2h0M39.1 648h0M33.5 640.4h0M34.1 642.3h0M37.6 633.2h0M36.8 640.4h0M33.9 636.7h0M33.1 641.3h0M37.3 646h0M32.7 633.5h0M37.4 642.5h0M33.2 640.5h0M39.2 638.2h0M37.4 635h0M34.5 643h0M32.3 634.6h0M37.5 642.2h0M33.8 634h0M34.5 636.3h0M40.3 648.6h0M36.5 641.3h0M39.5 639.4h0M36.3 645.9h0M34.6 644.6h0M36.8 642.6h0M40.1 636.5h0M40.1 637.9h0M37.7 639.5h0M37.7 636.5h0M39.9 638.8h0M38.7 632.3h0M34.5 636h0M34.2 649.8h0M38.1 643h0M34.5 642.8h0M35.7 641.8h0M34.3 633.8h0M34.1 632.4h0M34.9 645.9h0M34.9 644.4h0M32.9 651.5h0M39.9 640.9h0M38.9 634.5h0M35.4 643.8h0M38 633.5h0M36 642.9h0M38.4 639.8h0M32.2 634h0M34 643.3h0M33.3 635.7h0M33.2 640.8h0M35.5 640.3h0M34.8 647.9h0M33.3 641.2h0M37.9 635.2h0M38 644.3h0M34.9 643.9h0M37.7 635.4h0M38.9 640.8h0M33.2 641.9h0M36.9 639.3h0M38.5 666.7h0M39 666.7h0" stroke="#8d8d8d" stroke-width="2.20" stroke-linecap="round" fill="none"/>
<line x1="31.00" y1="641.12" x2="41.80" y2="641.12" stroke="#231f20" stroke-width="1.0"/>
<line x1="36.40" y1="667.60" x2="36.40" y2="670.00" stroke="#231f20" stroke-width="0.8"/>
<rect x="44.60" y="637.38" width="10.00" height="7.46" fill="#a9bfd8"/>
<line x1="49.60" y1="629.92" x2="49.60" y2="656.04" stroke="#555" stroke-width="0.5"/>
<path d="M46.7 640.4h0M52.9 654.2h0M52.3 635.7h0M46.7 640.5h0M47.6 636.8h0M50.9 649.9h0M46.8 635.8h0M52.9 638.3h0M49.4 635.9h0M52.8 638.8h0M49.6 649.9h0M52.1 645.6h0M47.7 636.9h0M49.4 637.4h0M50.8 632.1h0M47.3 640h0M49 639.4h0M53.3 636.9h0M49.1 639.8h0M47.9 632.1h0M46.9 640.3h0M48.1 646.6h0M51.4 647.7h0M49.6 637.5h0M45.4 644.6h0M50.9 645h0M51.8 643.4h0M53.3 645.6h0M46.8 634.7h0M53.3 639h0M46 647.5h0M47.6 643.4h0M52.9 638.7h0M53.5 646.4h0M45.8 641.7h0M50.1 632.5h0M52.4 639.6h0M48.2 655.7h0M47.3 640.3h0M45.7 636.2h0M45.5 645.8h0M50.8 633h0M46.3 639.8h0M50.7 638.2h0M50.3 651h0M48.7 649.5h0M53.2 637.7h0M53.2 648.5h0M53.7 645.7h0M49.8 643.6h0M53.1 641.2h0M47.7 639.6h0M47.4 637.1h0M46.1 638.3h0M49.7 647.8h0M47 641.1h0M45.5 642h0M45.5 642.7h0M47.5 646.6h0M49 638.4h0M48.9 634.8h0M48.1 641.4h0M50.7 639.4h0M46.7 648.8h0M45.8 642.5h0M50.9 640h0M53.5 650.5h0M47.8 644.1h0M50.4 633.4h0M50.6 636.2h0M53.7 644.4h0M53.4 645.2h0M51.1 640.4h0M45.6 642.9h0M46.1 637.2h0M51.9 634.6h0M47.4 641.6h0M52.7 636.6h0M49.5 648.9h0M46.6 635.2h0M53 644.6h0M50 645.1h0M48.8 630.4h0M46.1 646.6h0M45.8 641.3h0M48.3 631.8h0M45.6 635.4h0M50.7 647.9h0M53.1 636.7h0M45.5 649.8h0M46.7 631.1h0M48.9 649.7h0M52 640.2h0M48.7 640.6h0M50.8 640.6h0M50.8 640.8h0M49.3 637.5h0M48 641.7h0M49 637.7h0M49 640h0" stroke="#12508c" stroke-width="2.20" stroke-linecap="round" fill="none"/>
<line x1="44.20" y1="640.58" x2="55.00" y2="640.58" stroke="#231f20" stroke-width="1.0"/>
<line x1="49.60" y1="667.60" x2="49.60" y2="670.00" stroke="#231f20" stroke-width="0.8"/>
<rect x="57.80" y="633.12" width="10.00" height="6.93" fill="#fcd5a4"/>
<line x1="62.80" y1="626.73" x2="62.80" y2="652.84" stroke="#555" stroke-width="0.5"/>
<path d="M61.1 638.7h0M62 635.9h0M63.9 636.8h0M61.8 639.2h0M60.2 635.6h0M64.5 643.9h0M58.8 643h0M61.2 629.2h0M61.9 640.8h0M63.4 637.3h0M61 636.1h0M59.4 641.2h0M66 648h0M59.6 634.1h0M66.4 631.4h0M66.8 639h0M59.8 630.7h0M59 629.3h0M59.7 632.8h0M61.5 636.9h0M59.1 636h0M58.9 630.9h0M64.9 639.2h0M58.9 636h0M65.5 633h0M66.4 633.2h0M61.7 633.2h0M65.8 637.6h0M59.3 631.9h0M58.9 647.3h0M64.4 644.3h0M62.1 630.7h0M65.6 639h0M61 641.5h0M63.6 636.8h0M61.2 639.6h0M58.9 638.8h0M59.4 633.1h0M64.1 640.2h0M62.2 643h0M66.9 644h0M61.9 641.4h0M65.7 637h0M64.2 645.5h0M63.3 635.5h0M64.8 626.8h0M59.2 637h0M65.2 640.1h0M59 637.3h0M62.2 637.6h0M64.4 638.2h0M61.5 638.8h0M60.6 639.1h0M59.8 639.9h0M59.2 639.4h0M59.6 642.9h0M66.4 634.6h0M66.8 640h0M59.5 635.7h0M65.6 639.3h0M59.5 637.9h0M61 636.1h0M64.6 636.8h0M59.1 635.3h0M64.9 638.6h0M65.2 628.5h0M63.8 636.6h0M65.4 633.5h0M62.1 637.4h0M64.6 644.6h0M59.8 630.4h0M65.5 640.4h0M61.1 636.1h0M61.7 636.7h0M62.3 628h0M63.4 638.3h0M63.8 645.6h0M61.6 630.9h0M62 627.5h0M66.7 640.3h0M62.4 632.9h0M62.1 646.6h0M62.3 635.9h0M64.6 636.2h0M64.2 628.5h0" stroke="#f7901e" stroke-width="2.20" stroke-linecap="round" fill="none"/>
<line x1="57.40" y1="636.85" x2="68.20" y2="636.85" stroke="#231f20" stroke-width="1.0"/>
<line x1="62.80" y1="667.60" x2="62.80" y2="670.00" stroke="#231f20" stroke-width="0.8"/>
<text x="39.40" y="671.60" font-size="8.6" fill="#231f20" text-anchor="end" textLength="20.6" lengthAdjust="spacingAndGlyphs" transform="rotate(-90 39.40 671.60)">−TNF</text>
<text x="52.60" y="671.60" font-size="8.6" fill="#1b5693" text-anchor="end" textLength="15.2" lengthAdjust="spacingAndGlyphs" transform="rotate(-90 52.60 671.60)">TRA</text>
<text x="65.80" y="671.60" font-size="8.6" fill="#f7901e" text-anchor="end" textLength="17.4" lengthAdjust="spacingAndGlyphs" transform="rotate(-90 65.80 671.60)">OSC</text>
<text x="56.50" y="616.20" font-size="7.8" fill="#231f20" text-anchor="middle">5.5E-5</text>
<line x1="49.80" y1="618.80" x2="63.30" y2="618.80" stroke="#231f20" stroke-width="0.8"/>
<line x1="87.50" y1="604.20" x2="87.50" y2="667.60" stroke="#231f20" stroke-width="0.9"/>
<line x1="87.50" y1="667.60" x2="129.00" y2="667.60" stroke="#231f20" stroke-width="0.9"/>
<line x1="85.10" y1="666.20" x2="87.50" y2="666.20" stroke="#231f20" stroke-width="0.8"/>
<text x="84.10" y="669.00" font-size="8.0" fill="#231f20" text-anchor="end" textLength="4.6" lengthAdjust="spacingAndGlyphs">0</text>
<line x1="85.10" y1="656.00" x2="87.50" y2="656.00" stroke="#231f20" stroke-width="0.8"/>
<text x="84.10" y="658.80" font-size="8.0" fill="#231f20" text-anchor="end" textLength="4.6" lengthAdjust="spacingAndGlyphs">2</text>
<line x1="85.10" y1="645.80" x2="87.50" y2="645.80" stroke="#231f20" stroke-width="0.8"/>
<text x="84.10" y="648.60" font-size="8.0" fill="#231f20" text-anchor="end" textLength="4.6" lengthAdjust="spacingAndGlyphs">4</text>
<line x1="85.10" y1="635.60" x2="87.50" y2="635.60" stroke="#231f20" stroke-width="0.8"/>
<text x="84.10" y="638.40" font-size="8.0" fill="#231f20" text-anchor="end" textLength="4.6" lengthAdjust="spacingAndGlyphs">6</text>
<line x1="85.10" y1="625.40" x2="87.50" y2="625.40" stroke="#231f20" stroke-width="0.8"/>
<text x="84.10" y="628.20" font-size="8.0" fill="#231f20" text-anchor="end" textLength="4.6" lengthAdjust="spacingAndGlyphs">8</text>
<text x="108.50" y="599.60" font-size="8.6" fill="#231f20" text-anchor="middle">Ptprj</text>
<rect x="91.20" y="641.72" width="10.00" height="6.63" fill="#d1d2d3"/>
<line x1="96.20" y1="635.60" x2="96.20" y2="660.08" stroke="#555" stroke-width="0.5"/>
<path d="M96.1 639.8h0M93 637h0M93.2 644.2h0M96.3 642.5h0M100.2 644.7h0M100.3 653h0M99.7 652.3h0M96.3 652h0M98.3 641.6h0M98.8 650.5h0M92.7 640.3h0M92.5 648.2h0M99.1 646.7h0M93.5 651.8h0M96 639h0M92.8 659.8h0M98.7 645.6h0M98.8 646.8h0M95.2 653.1h0M98.9 638h0M92.9 647.1h0M94.8 637.8h0M98.9 653.6h0M92.9 639h0M100.2 654.7h0M95.9 642.6h0M93.6 640.6h0M97 638h0M92.2 645.5h0M95.5 643.2h0M98.3 638.6h0M98.1 642.9h0M99.3 652.2h0M94.6 644.8h0M97.7 647.3h0M100.4 646.7h0M93.3 648.7h0M100.4 638.8h0M95.5 641.6h0M98.4 643.5h0M97.4 646.9h0M92.6 645.3h0M96.4 651.6h0M94.3 641.4h0M93.5 644.7h0M97.6 644.6h0M96.6 649h0M92 641.9h0M97.4 648.3h0M96 646.1h0M93.3 645.3h0M98.8 639h0M97.3 645h0M92.2 652.9h0M94.9 651.2h0M99.6 647.4h0M94.5 648.7h0M96.4 646h0M99.2 651.2h0M94.8 648.4h0M98.6 647.6h0M97.2 645.4h0M95.1 651.1h0M93.7 644.3h0M92.7 652.6h0M94.1 642.9h0M96.1 647.1h0M99.4 637.3h0M94.3 647.4h0M92.2 643.1h0M95.4 650.6h0M97.5 644.6h0M97.8 648.7h0M93.3 647.3h0M98.5 647.6h0M99.1 649.4h0M97.5 647.2h0M92.1 644.6h0M98.7 642h0M95.1 643.5h0M97 646.4h0M92.1 650.8h0M92.7 640.3h0M96.7 647h0M97.4 641.2h0M93.7 666.2h0M94.2 666.2h0" stroke="#8d8d8d" stroke-width="2.20" stroke-linecap="round" fill="none"/>
<line x1="90.80" y1="644.78" x2="101.60" y2="644.78" stroke="#231f20" stroke-width="1.0"/>
<line x1="96.20" y1="667.60" x2="96.20" y2="670.00" stroke="#231f20" stroke-width="0.8"/>
<rect x="104.40" y="640.19" width="10.00" height="9.18" fill="#a9bfd8"/>
<line x1="109.40" y1="630.50" x2="109.40" y2="664.67" stroke="#555" stroke-width="0.5"/>
<path d="M107.9 650.3h0M105.2 635.6h0M109.1 642.5h0M113.6 646.5h0M110.2 648.3h0M109.9 644.7h0M108.4 655.6h0M108.3 653.1h0M105.3 651.4h0M113 639.8h0M113.6 647h0M108.1 630.6h0M112.5 640.2h0M111.9 643.9h0M106 650.1h0M113.4 637.3h0M109.1 650h0M107.5 646.4h0M105.5 650.2h0M108.7 647.7h0M105.7 662.2h0M111.4 640.8h0M107.7 642.6h0M110.9 657.9h0M105.5 641.7h0M106.6 635.3h0M105.6 649.1h0M109.5 640.6h0M107.6 648.3h0M110.9 645.2h0M112.8 652h0M111.3 639.7h0M112.2 640.6h0M110.9 640.4h0M110 650h0M105.8 642.3h0M106.6 648h0M110.4 649.3h0M107.6 634.7h0M113.4 638.2h0M105.9 642.8h0M110.3 639h0M108.2 648.4h0M110.8 633.2h0M109.4 648.8h0M110.5 649.1h0M112.8 647.3h0M109.4 637.9h0M109.6 641.4h0M109 635.8h0M105.9 645.4h0M110.4 648.7h0M111.5 631.4h0M112.7 632.1h0M113.4 651.7h0M109.5 635.7h0M105.5 649.8h0M107.8 637.6h0M108.2 647.7h0M107.7 644.5h0M106.5 656.4h0M110.3 647.7h0M112.4 642.8h0M113.1 647.9h0M106.7 642.6h0M110.9 641.5h0M108.2 637.2h0M112.6 640.5h0M113.4 640.9h0M111.8 644.4h0M112.2 634.3h0M105.9 643.1h0M109.9 644.7h0M107.3 640.3h0M112.8 648.3h0M107.1 643.6h0M106.9 645.6h0M105.9 639.1h0M107.7 643.9h0M105.4 647.6h0M112.9 652.4h0M105.4 647.3h0M108.2 641.4h0M112.9 645.8h0M106.7 635h0M106.5 655.9h0M110.2 648.4h0M105.6 639.9h0M107.9 645.3h0M109.8 645h0M111.5 645.6h0M110.4 634h0M109.5 651.4h0M112.2 642.6h0M112.4 640h0M111.5 644.8h0M111.6 652h0M113.4 646.5h0M110.2 646.4h0M106.9 645h0M107.1 666.2h0M109.9 666.2h0M108 663.7h0" stroke="#12508c" stroke-width="2.20" stroke-linecap="round" fill="none"/>
<line x1="104.00" y1="644.78" x2="114.80" y2="644.78" stroke="#231f20" stroke-width="1.0"/>
<line x1="109.40" y1="667.60" x2="109.40" y2="670.00" stroke="#231f20" stroke-width="0.8"/>
<rect x="117.60" y="635.09" width="10.00" height="5.61" fill="#fcd5a4"/>
<line x1="122.60" y1="627.95" x2="122.60" y2="654.47" stroke="#555" stroke-width="0.5"/>
<path d="M125.6 637.4h0M118.9 641.9h0M118.8 631.5h0M120.7 639.7h0M118.9 630.6h0M125.1 641h0M125.1 641.8h0M119.8 636h0M125.6 640.4h0M126.2 640.5h0M119 635.5h0M122.1 639.2h0M123 635.9h0M124.7 635.8h0M124.7 650.8h0M126.5 644.4h0M126.5 640.7h0M123.3 640.6h0M119.2 639.6h0M118.4 639.7h0M121.5 635.7h0M124.4 635.5h0M122.1 641h0M123.3 635.4h0M120.3 630.8h0M121.7 647.1h0M121.4 642.9h0M120 635.1h0M124.6 634.6h0M123.8 639.8h0M122.9 634.7h0M124.6 637.4h0M118.9 635.1h0M125.3 638.5h0M121.7 636.4h0M120.4 639h0M121.9 638.9h0M121.9 634.1h0M123.3 638.1h0M122.3 634.6h0M122.4 640.4h0M125.4 638.1h0M122 637.7h0M119.8 635.6h0M126.4 637.8h0M124 634.6h0M122.2 642.8h0M123.6 635.7h0M121.1 640.1h0M126.8 640.7h0M124 637.2h0M121 642.8h0M121.1 635h0M122.8 630.7h0M122.7 634h0M122.9 642.1h0M120.9 639.9h0M124.6 630.7h0M123.8 637h0M119.6 643.6h0M126.3 633.6h0M122.1 639.8h0M121.8 635.7h0M120.9 641.1h0M120.9 637h0M118.5 642.8h0M121.4 637.9h0M120.6 638.4h0M125.2 638.8h0M125.4 640.6h0M123 643.3h0M122.9 638.6h0M119.1 640.1h0M123.3 637.3h0M123.8 632.8h0M125.4 634h0M121.1 641.7h0M122.5 636.2h0M120.3 641.3h0M125.4 645h0M122.8 634.1h0M126.2 641h0M125.6 640.1h0M121.7 639.2h0M121.3 634.8h0" stroke="#f7901e" stroke-width="2.20" stroke-linecap="round" fill="none"/>
<line x1="117.20" y1="638.15" x2="128.00" y2="638.15" stroke="#231f20" stroke-width="1.0"/>
<line x1="122.60" y1="667.60" x2="122.60" y2="670.00" stroke="#231f20" stroke-width="0.8"/>
<text x="99.20" y="671.60" font-size="8.6" fill="#231f20" text-anchor="end" textLength="20.6" lengthAdjust="spacingAndGlyphs" transform="rotate(-90 99.20 671.60)">−TNF</text>
<text x="112.40" y="671.60" font-size="8.6" fill="#1b5693" text-anchor="end" textLength="15.2" lengthAdjust="spacingAndGlyphs" transform="rotate(-90 112.40 671.60)">TRA</text>
<text x="125.60" y="671.60" font-size="8.6" fill="#f7901e" text-anchor="end" textLength="17.4" lengthAdjust="spacingAndGlyphs" transform="rotate(-90 125.60 671.60)">OSC</text>
<text x="117.10" y="616.20" font-size="7.8" fill="#231f20" text-anchor="middle">1.4E-9</text>
<line x1="110.20" y1="618.80" x2="124.00" y2="618.80" stroke="#231f20" stroke-width="0.8"/>
<line x1="152.50" y1="604.50" x2="152.50" y2="668.00" stroke="#231f20" stroke-width="0.9"/>
<line x1="152.50" y1="668.00" x2="194.00" y2="668.00" stroke="#231f20" stroke-width="0.9"/>
<line x1="150.10" y1="665.70" x2="152.50" y2="665.70" stroke="#231f20" stroke-width="0.8"/>
<text x="149.10" y="668.50" font-size="8.0" fill="#231f20" text-anchor="end" textLength="4.6" lengthAdjust="spacingAndGlyphs">0</text>
<line x1="150.10" y1="655.62" x2="152.50" y2="655.62" stroke="#231f20" stroke-width="0.8"/>
<text x="149.10" y="658.42" font-size="8.0" fill="#231f20" text-anchor="end" textLength="4.6" lengthAdjust="spacingAndGlyphs">2</text>
<line x1="150.10" y1="645.54" x2="152.50" y2="645.54" stroke="#231f20" stroke-width="0.8"/>
<text x="149.10" y="648.34" font-size="8.0" fill="#231f20" text-anchor="end" textLength="4.6" lengthAdjust="spacingAndGlyphs">4</text>
<line x1="150.10" y1="635.46" x2="152.50" y2="635.46" stroke="#231f20" stroke-width="0.8"/>
<text x="149.10" y="638.26" font-size="8.0" fill="#231f20" text-anchor="end" textLength="4.6" lengthAdjust="spacingAndGlyphs">6</text>
<line x1="150.10" y1="625.38" x2="152.50" y2="625.38" stroke="#231f20" stroke-width="0.8"/>
<text x="149.10" y="628.18" font-size="8.0" fill="#231f20" text-anchor="end" textLength="4.6" lengthAdjust="spacingAndGlyphs">8</text>
<text x="173.50" y="599.60" font-size="8.6" fill="#231f20" text-anchor="middle">Zc3h12c</text>
<rect x="156.20" y="644.53" width="10.00" height="7.56" fill="#d1d2d3"/>
<line x1="161.20" y1="636.47" x2="161.20" y2="665.70" stroke="#555" stroke-width="0.5"/>
<path d="M164.8 639.7h0M158.6 652h0M163.5 645.5h0M160.2 648h0M163 645.1h0M163.5 648.9h0M161.1 644.6h0M159.6 654.2h0M157.1 638.2h0M158.3 651.3h0M165.4 637.1h0M159.4 653.6h0M159 658.1h0M161.5 647.3h0M160.2 646h0M163.2 646.2h0M157.7 641.8h0M159.2 647.9h0M158 659.8h0M159.1 648.3h0M159.5 644.7h0M160.4 641.7h0M162.4 644.6h0M164.5 639h0M157.5 659.9h0M162 646.7h0M163.1 650.3h0M162 655.2h0M164.9 641.2h0M161.2 649.8h0M159 641.4h0M163.1 651.7h0M160.8 660.7h0M165.2 651.9h0M164.2 645.5h0M160.6 647.9h0M164.7 647.6h0M164.3 646.7h0M159.8 639h0M157.8 653.7h0M162.8 654h0M159.1 648.7h0M165.1 647.4h0M162.2 644.8h0M158.6 646.7h0M161.2 654.2h0M162.7 655.2h0M165.2 650.2h0M159 656.2h0M165.2 643.8h0M160.5 647.2h0M162.6 655.6h0M157 648.5h0M161.1 650h0M157.1 648.9h0M160.9 643h0M159 643.2h0M158.2 647h0M158.7 651.8h0M164.3 652.3h0M159.4 643.2h0M162.1 647.8h0M158.7 656.7h0M160.5 643.9h0M164.9 648h0M157.7 651.1h0M164 650h0M165 641.1h0M159.7 647.2h0M161.4 647h0M164.2 656.4h0M162.9 655.2h0M157.4 637.5h0M159.9 652h0M161.4 644.2h0M161.1 647.3h0M162 646.3h0M161 658.9h0M164.8 644.7h0M165 646.7h0M163.5 642.8h0M158.1 656.5h0M163.8 649.1h0M163.7 648.4h0M159.4 644.6h0M160.7 665.7h0M158.2 665.7h0" stroke="#8d8d8d" stroke-width="2.20" stroke-linecap="round" fill="none"/>
<line x1="155.80" y1="648.56" x2="166.60" y2="648.56" stroke="#231f20" stroke-width="1.0"/>
<line x1="161.20" y1="668.00" x2="161.20" y2="670.40" stroke="#231f20" stroke-width="0.8"/>
<rect x="169.40" y="644.03" width="10.00" height="8.57" fill="#a9bfd8"/>
<line x1="174.40" y1="630.42" x2="174.40" y2="665.70" stroke="#555" stroke-width="0.5"/>
<path d="M172.4 656.1h0M171.7 650.4h0M177.3 654.7h0M171.6 654.5h0M173.7 645.2h0M171.6 641.8h0M177.7 649.2h0M170.4 648.9h0M172.9 650.3h0M170.6 657.5h0M176.4 641.7h0M171.2 652.5h0M174.1 647.2h0M178.6 647.3h0M176.4 646.9h0M171.1 651.9h0M176.6 658.3h0M174.3 648.2h0M171.1 640h0M175.7 637.8h0M174.3 654.5h0M170.5 645.9h0M177.3 646.2h0M172.2 638.3h0M177.2 651.9h0M175.2 646.4h0M171.7 648.7h0M175.7 651.4h0M176.1 647.9h0M174.7 651.6h0M171.2 653.9h0M174.6 638.9h0M175.9 651.4h0M173.2 644.6h0M172.2 650.3h0M174.6 651.9h0M171.8 635.8h0M178 654.9h0M178 646.9h0M177.5 648.4h0M177.8 652.1h0M173.9 652.3h0M175.8 647.5h0M177.7 648.1h0M171.5 650.8h0M178.5 652.1h0M174.2 645.8h0M170.3 647.2h0M171.3 645.1h0M177 648.2h0M176.9 651.4h0M171.8 656.5h0M176.7 648.6h0M174.5 649.8h0M172.6 655.6h0M178.2 645.1h0M175 643.3h0M177.8 649.9h0M174.9 651h0M170.4 651.6h0M173.9 646.6h0M177.9 653.7h0M174.9 638.5h0M177.7 646.2h0M174.5 649.4h0M174.2 635.2h0M176.1 650.6h0M177.4 647.9h0M174.7 644h0M171.5 662.1h0M170.5 639.8h0M177.7 654.8h0M175.5 646.3h0M174.3 642.4h0M178.3 639.6h0M172 648.7h0M171.7 644.8h0M174.4 654.2h0M174.1 651h0M170.5 647.6h0M170.8 654.9h0M177.7 645.4h0M174.2 643.2h0M170.6 652.1h0M170.6 646.5h0M176.1 648.3h0M177.1 642.8h0M172.5 657.4h0M176.9 640.6h0M177.8 651.6h0M178.4 645.8h0M174.9 655.1h0M172.7 641.4h0M173.3 649h0M175.1 645.8h0M171.2 646.2h0M175.1 634.9h0M174.5 656.7h0M170.2 647.5h0M178.2 648.7h0M173.2 665.7h0M177 665.7h0" stroke="#12508c" stroke-width="2.20" stroke-linecap="round" fill="none"/>
<line x1="169.00" y1="648.56" x2="179.80" y2="648.56" stroke="#231f20" stroke-width="1.0"/>
<line x1="174.40" y1="668.00" x2="174.40" y2="670.40" stroke="#231f20" stroke-width="0.8"/>
<rect x="182.60" y="637.48" width="10.00" height="7.06" fill="#fcd5a4"/>
<line x1="187.60" y1="629.41" x2="187.60" y2="665.70" stroke="#555" stroke-width="0.5"/>
<path d="M185.3 632.3h0M185.4 640.2h0M189 644.3h0M187.7 647.4h0M186.3 646.2h0M185.5 638.8h0M185.7 648.1h0M190.8 643.7h0M186.5 642.4h0M186.4 637.7h0M185.3 647h0M188.4 637.6h0M188.1 641h0M185.1 635.9h0M187.2 641.4h0M188.4 645.2h0M183.7 640h0M190.6 635.3h0M191.1 640.4h0M186.5 647.8h0M184.5 636.7h0M191.3 639.2h0M187.3 646.9h0M186.3 649.5h0M188 640.5h0M184.3 636.1h0M188.1 642.6h0M191.7 647.5h0M188.9 645.1h0M185.2 641.5h0M189.8 642.6h0M189.7 640.2h0M186 637.8h0M186.1 634.2h0M189.4 637h0M183.6 638.7h0M188.2 640.7h0M188 636.9h0M184 646.8h0M188.9 642h0M188.4 634.5h0M189.6 645.4h0M187.9 639.9h0M183.8 639.7h0M191.3 637.4h0M188.7 643.6h0M183.9 638h0M185.9 639.7h0M186.1 641.4h0M185.2 635.1h0M191.8 642.1h0M191.5 640.6h0M186.4 641h0M190.4 649.9h0M188.9 636.4h0M188 637.7h0M188 637.8h0M189.5 641.6h0M191.3 643.5h0M186.2 637.3h0M186.9 638.4h0M183.8 641.5h0M185.9 641.8h0M188.4 629.7h0M183.9 633h0M184.8 633h0M189.7 648.1h0M191.3 637.6h0M191.6 640.1h0M187.1 653.7h0M186.9 638.4h0M185.6 641.7h0M184.3 641.3h0M184.4 631.9h0M187.8 639.9h0M189.5 639.6h0M191 650.9h0M191 645.9h0M183.9 640.2h0M190.9 644.4h0M185.9 636.2h0M190.9 641.9h0M185.8 644.3h0M190.2 648.3h0M187.4 634.3h0M185.6 665.7h0M185.2 664.7h0" stroke="#f7901e" stroke-width="2.20" stroke-linecap="round" fill="none"/>
<line x1="182.20" y1="640.50" x2="193.00" y2="640.50" stroke="#231f20" stroke-width="1.0"/>
<line x1="187.60" y1="668.00" x2="187.60" y2="670.40" stroke="#231f20" stroke-width="0.8"/>
<text x="164.20" y="671.60" font-size="8.6" fill="#231f20" text-anchor="end" textLength="20.6" lengthAdjust="spacingAndGlyphs" transform="rotate(-90 164.20 671.60)">−TNF</text>
<text x="177.40" y="671.60" font-size="8.6" fill="#1b5693" text-anchor="end" textLength="15.2" lengthAdjust="spacingAndGlyphs" transform="rotate(-90 177.40 671.60)">TRA</text>
<text x="190.60" y="671.60" font-size="8.6" fill="#f7901e" text-anchor="end" textLength="17.4" lengthAdjust="spacingAndGlyphs" transform="rotate(-90 190.60 671.60)">OSC</text>
<text x="179.00" y="616.20" font-size="7.8" fill="#231f20" text-anchor="middle">3.5E-6</text>
<line x1="171.80" y1="618.60" x2="186.20" y2="618.60" stroke="#231f20" stroke-width="0.8"/>
<line x1="217.40" y1="604.50" x2="217.40" y2="668.00" stroke="#231f20" stroke-width="0.9"/>
<line x1="217.40" y1="668.00" x2="258.90" y2="668.00" stroke="#231f20" stroke-width="0.9"/>
<line x1="215.00" y1="665.10" x2="217.40" y2="665.10" stroke="#231f20" stroke-width="0.8"/>
<text x="214.00" y="667.90" font-size="8.0" fill="#231f20" text-anchor="end" textLength="4.6" lengthAdjust="spacingAndGlyphs">6</text>
<line x1="215.00" y1="648.50" x2="217.40" y2="648.50" stroke="#231f20" stroke-width="0.8"/>
<text x="214.00" y="651.30" font-size="8.0" fill="#231f20" text-anchor="end" textLength="4.6" lengthAdjust="spacingAndGlyphs">8</text>
<line x1="215.00" y1="631.90" x2="217.40" y2="631.90" stroke="#231f20" stroke-width="0.8"/>
<text x="214.00" y="634.70" font-size="8.0" fill="#231f20" text-anchor="end" textLength="9.0" lengthAdjust="spacingAndGlyphs">10</text>
<text x="238.40" y="599.60" font-size="8.6" fill="#231f20" text-anchor="middle">Hspa5</text>
<rect x="221.10" y="643.52" width="10.00" height="9.96" fill="#d1d2d3"/>
<line x1="226.10" y1="629.41" x2="226.10" y2="663.44" stroke="#555" stroke-width="0.5"/>
<path d="M224.5 661.6h0M222.9 647.1h0M222.8 638h0M224.3 641.3h0M227.5 646.4h0M228.8 645.4h0M228 634h0M226.7 652.3h0M225.3 643.2h0M225.5 647.1h0M225.7 652.3h0M225.3 641.3h0M228.4 657.7h0M225.4 646.1h0M228.2 638.3h0M226.3 650.8h0M226.2 650.6h0M224.2 651.3h0M228.1 655.8h0M228.7 653.4h0M227.3 640.8h0M227.2 645.5h0M228.6 633.3h0M224.9 655.9h0M230.1 635.5h0M225.5 641.9h0M225 644.9h0M229.2 636.4h0M224.7 654.4h0M223.3 640.9h0M229.4 650.5h0M224.9 656.3h0M224.1 654.1h0M222.5 657.9h0M227.3 654.9h0M224 649.5h0M223.7 655.4h0M229.7 648.7h0M224.6 647.6h0M229.9 641.9h0M224.1 657h0M223.7 658.4h0M229.8 646.5h0M229.6 650h0M227 638.8h0M224.3 651.4h0M222.7 652.9h0M224.8 645.5h0M221.9 640.8h0M226.4 641.3h0M228.7 643.6h0M223.2 641h0M229.9 654h0M227.2 637.2h0M227.8 650.8h0M222.6 655.2h0M227.2 640.4h0M228.4 653.9h0M224.4 659.6h0M228.4 652.8h0M227.5 652.4h0M228.9 647.1h0M228.4 644.6h0M225.1 657.1h0M222.2 651h0M224.3 636.7h0M226.6 629.9h0M229 642.8h0M226.3 653.8h0M229.5 659.3h0M223.8 654.8h0M225.2 656.5h0M227.6 651.1h0M227.8 643.8h0M223.5 644.5h0M225.4 649.7h0M226.1 655.3h0M226.7 658.1h0M226.3 647.6h0M223.4 643.7h0M225.9 658.3h0M229 650.3h0M229 655.7h0M228.1 632.4h0M228.2 650.1h0" stroke="#8d8d8d" stroke-width="2.20" stroke-linecap="round" fill="none"/>
<line x1="220.70" y1="649.33" x2="231.50" y2="649.33" stroke="#231f20" stroke-width="1.0"/>
<line x1="226.10" y1="668.00" x2="226.10" y2="670.40" stroke="#231f20" stroke-width="0.8"/>
<rect x="234.30" y="641.03" width="10.00" height="9.96" fill="#a9bfd8"/>
<line x1="239.30" y1="626.92" x2="239.30" y2="665.10" stroke="#555" stroke-width="0.5"/>
<path d="M243.4 659.3h0M238.1 650.4h0M236.9 639.7h0M236.3 655.2h0M239.6 644.7h0M240.5 631.9h0M236 649.6h0M239.2 643.8h0M240.6 631.6h0M236.1 638.1h0M237.4 656.4h0M241.9 651.2h0M238.3 645.3h0M239.1 644.8h0M235.8 634h0M239.9 641h0M236.6 648.8h0M237.5 643.9h0M243.5 643.5h0M239 642.6h0M236.5 632.5h0M240.5 643.3h0M236.7 656.6h0M242.2 649.1h0M236.1 649.3h0M236.2 646.6h0M241.1 644.5h0M235.4 631.4h0M238.2 654.5h0M240.4 642.5h0M237.1 658.7h0M242.1 641.4h0M238.3 638.4h0M235.9 644.6h0M239.4 650.1h0M241.5 643.8h0M235.2 651.8h0M241.2 644.7h0M242 652.3h0M237.9 640.7h0M242.1 637.9h0M235.9 651.5h0M241.7 634.3h0M243.2 658.3h0M237 663.1h0M239 650.7h0M236.5 662.5h0M236.4 659.2h0M241.3 647.7h0M239.6 638.6h0M240.8 656.1h0M236.8 639.3h0M236.5 647.9h0M239.5 640.5h0M238.3 642.8h0M241.6 654.6h0M237.6 650.6h0M243.1 634.1h0M235.4 645.9h0M238.4 648.7h0M241 653.9h0M235.2 640.3h0M242.7 640.8h0M243.3 653.5h0M239.1 641h0M243.4 650.9h0M241.2 647.8h0M236.4 640h0M241.8 646.8h0M241.2 642.5h0M241 636.3h0M237.1 643.6h0M236.5 652.2h0M235.5 639.3h0M240.5 649.6h0M240.1 663.5h0M240.4 634.8h0M236.2 645.4h0M236.1 642.5h0M240.7 641.2h0M241.5 642.3h0M235.9 652h0M236.3 637.3h0M237.5 648.5h0M236.3 641.5h0M235.4 642.6h0M241.2 640.8h0M240.4 640.5h0M238.4 643.8h0M239.7 655.1h0M238.4 639.7h0M237.1 643h0M236.1 639.1h0M235.8 637.9h0M237.9 648.4h0M240.3 642.4h0M236.1 644.7h0M237.4 647.8h0M242.9 642.5h0M238.8 644.5h0" stroke="#12508c" stroke-width="2.20" stroke-linecap="round" fill="none"/>
<line x1="233.90" y1="645.18" x2="244.70" y2="645.18" stroke="#231f20" stroke-width="1.0"/>
<line x1="239.30" y1="668.00" x2="239.30" y2="670.40" stroke="#231f20" stroke-width="0.8"/>
<rect x="247.50" y="646.84" width="10.00" height="9.96" fill="#fcd5a4"/>
<line x1="252.50" y1="636.05" x2="252.50" y2="665.10" stroke="#555" stroke-width="0.5"/>
<path d="M255.6 649h0M254.2 653.8h0M250.5 649.7h0M253.3 657.3h0M250.5 648.5h0M253.5 661.1h0M254.8 653.3h0M248.6 655.5h0M250.1 658.1h0M256.4 646.1h0M253.8 647.9h0M251.6 653h0M256.2 656.4h0M250.9 662h0M253.7 660.5h0M249.8 647.1h0M252.2 653.3h0M252.6 650.6h0M254.4 650.1h0M254.3 649.4h0M252.9 650.8h0M251.2 650.2h0M253.7 664.1h0M251.9 641h0M250.3 651.8h0M256.1 654.4h0M249 649.7h0M250 660.1h0M250.2 649.5h0M251.2 643.3h0M251 659.2h0M256.4 658.2h0M250.5 655.7h0M254.3 655.9h0M253.1 660.2h0M252.3 652.6h0M251.9 648.9h0M255.8 655.2h0M256.4 650.9h0M254.1 644.3h0M252.8 658.8h0M255.7 637.3h0M254.8 653.9h0M251.7 657.4h0M254 641.6h0M254.2 663.2h0M254.5 654h0M252.1 649.1h0M254.5 647h0M252.7 654.4h0M250 649.3h0M251.8 650.5h0M252.9 655.5h0M256.1 650.5h0M251.5 642h0M256.2 656.8h0M253.9 646h0M251.7 658.8h0M254 644.5h0M249.9 649.3h0M253.7 646.5h0M253 644.8h0M256.1 650.5h0M252.8 650.3h0M249.6 652.4h0M252.3 639.7h0M248.5 638.9h0M254.9 653.6h0M255.6 658.8h0M256 652.9h0M255.4 647.2h0M252 647.8h0M254.5 661.5h0M256.3 641.8h0M255.4 661.6h0M255.8 645.1h0M250.2 657.6h0M256.6 642.3h0M254.4 652.8h0M256 657.3h0M251.4 643.5h0M250.4 646.1h0M252.8 651.1h0M253.9 655.4h0M251.1 658.3h0" stroke="#f7901e" stroke-width="2.20" stroke-linecap="round" fill="none"/>
<line x1="247.10" y1="651.82" x2="257.90" y2="651.82" stroke="#231f20" stroke-width="1.0"/>
<line x1="252.50" y1="668.00" x2="252.50" y2="670.40" stroke="#231f20" stroke-width="0.8"/>
<text x="229.10" y="671.60" font-size="8.6" fill="#231f20" text-anchor="end" textLength="20.6" lengthAdjust="spacingAndGlyphs" transform="rotate(-90 229.10 671.60)">−TNF</text>
<text x="242.30" y="671.60" font-size="8.6" fill="#1b5693" text-anchor="end" textLength="15.2" lengthAdjust="spacingAndGlyphs" transform="rotate(-90 242.30 671.60)">TRA</text>
<text x="255.50" y="671.60" font-size="8.6" fill="#f7901e" text-anchor="end" textLength="17.4" lengthAdjust="spacingAndGlyphs" transform="rotate(-90 255.50 671.60)">OSC</text>
<text x="231.80" y="611.90" font-size="7.8" fill="#231f20" text-anchor="middle">NS</text>
<line x1="226.00" y1="614.00" x2="238.20" y2="614.00" stroke="#231f20" stroke-width="0.8"/>
<text x="245.40" y="622.60" font-size="7.8" fill="#231f20" text-anchor="middle">2.0E-3</text>
<line x1="238.40" y1="624.00" x2="255.80" y2="624.00" stroke="#231f20" stroke-width="0.8"/>
<rect x="0.50" y="0.50" width="519.00" height="701.00" fill="none" stroke="#000" stroke-width="1.2"/></svg></body></html>
